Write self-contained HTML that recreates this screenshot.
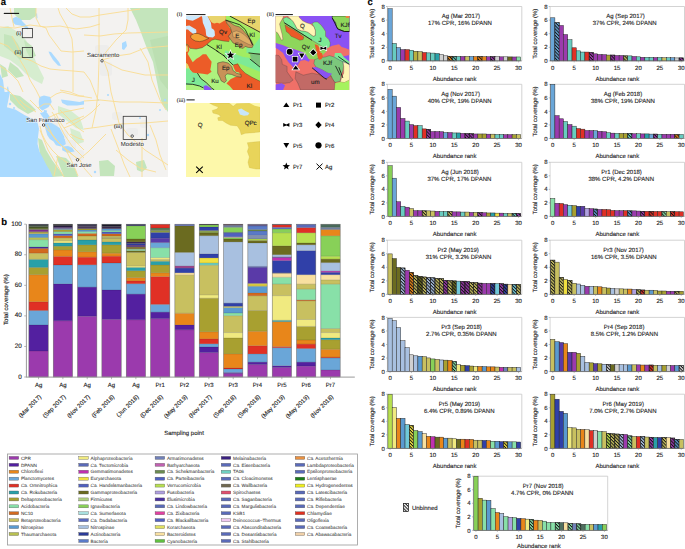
<!DOCTYPE html><html><head><meta charset="utf-8"><style>
html,body{margin:0;padding:0;background:#fff;}
svg{display:block;color:#222;}
text{font-family:"Liberation Sans", sans-serif;text-rendering:geometricPrecision;stroke:currentColor;stroke-width:0.12px;}
</style></head><body>
<svg width="685" height="549" viewBox="0 0 685 549">
<defs>
<pattern id="hatch" patternUnits="userSpaceOnUse" width="2.3" height="2.3" patternTransform="rotate(45)">
<rect x="0" y="0" width="2.3" height="0.95" fill="#111"/>
</pattern>
</defs>
<rect width="685" height="549" fill="#fff"/>

<text x="0.80" y="5.40" font-size="9.5" text-anchor="start" fill="#000" color="#000" font-weight="bold" font-style="normal" >a</text>
<g>
<rect x="0" y="8" width="168" height="169" fill="#f3f2f0"/>
<clipPath id="mapclip"><rect x="0" y="8" width="168" height="169"/></clipPath>
<g clip-path="url(#mapclip)">
<rect x="95" y="45" width="14" height="10" fill="#e9e9ea" rx="3" opacity="0.6"/>
<rect x="100" y="62" width="12" height="14" fill="#e9e9ea" rx="3" opacity="0.6"/>
<rect x="48" y="118" width="10" height="10" fill="#e9e9ea" rx="3" opacity="0.6"/>
<rect x="56" y="130" width="12" height="10" fill="#e9e9ea" rx="3" opacity="0.6"/>
<rect x="64" y="140" width="12" height="10" fill="#e9e9ea" rx="3" opacity="0.6"/>
<rect x="70" y="150" width="14" height="10" fill="#e9e9ea" rx="3" opacity="0.6"/>
<rect x="112" y="112" width="10" height="8" fill="#e9e9ea" rx="3" opacity="0.6"/>
<rect x="126" y="128" width="12" height="8" fill="#e9e9ea" rx="3" opacity="0.6"/>
<rect x="30" y="60" width="6" height="6" fill="#e9e9ea" rx="3" opacity="0.6"/>
<rect x="140" y="120" width="8" height="8" fill="#e9e9ea" rx="3" opacity="0.6"/>
<path d="M130.0,8.0 L168.0,8.0 L168.0,112.0 L162.0,104.0 L159.0,92.0 L156.0,77.0 L153.0,62.0 L146.0,46.0 L140.0,30.0 L136.0,20.0 Z" fill="#c4e5bc" stroke="none" stroke-width="0" />
<path d="M150.0,40.0 L168.0,36.0 L168.0,90.0 L160.0,80.0 Z" fill="#bcdfb2" stroke="none" stroke-width="0" />
<path d="M14.0,8.0 L36.0,8.0 L36.0,16.0 L30.0,20.0 L20.0,20.0 L14.0,14.0 Z" fill="#c4e5bc" stroke="none" stroke-width="0" />
<path d="M0.0,28.0 L8.0,26.0 L18.0,32.0 L26.0,40.0 L32.0,52.0 L36.0,62.0 L40.0,70.0 L44.0,78.0 L42.0,84.0 L34.0,80.0 L26.0,74.0 L18.0,66.0 L10.0,60.0 L0.0,56.0 Z" fill="#d6edcf" stroke="none" stroke-width="0" />
<path d="M4.0,34.0 L12.0,36.0 L18.0,44.0 L24.0,56.0 L20.0,60.0 L12.0,52.0 L4.0,46.0 Z" fill="#c4e5bc" stroke="none" stroke-width="0" />
<path d="M24.0,40.0 L32.0,46.0 L36.0,56.0 L30.0,58.0 L26.0,50.0 Z" fill="#c4e5bc" stroke="none" stroke-width="0" />
<path d="M10.0,62.0 L18.0,68.0 L24.0,76.0 L16.0,78.0 L8.0,70.0 Z" fill="#c4e5bc" stroke="none" stroke-width="0" />
<path d="M0.0,64.0 L6.0,68.0 L8.0,76.0 L2.0,78.0 Z" fill="#c4e5bc" stroke="none" stroke-width="0" />
<path d="M10.0,94.0 L20.0,96.0 L30.0,104.0 L36.0,110.0 L28.0,114.0 L18.0,108.0 L10.0,100.0 Z" fill="#c4e5bc" stroke="none" stroke-width="0" />
<path d="M58.0,106.0 L70.0,110.0 L80.0,118.0 L84.0,130.0 L76.0,128.0 L66.0,120.0 L58.0,114.0 Z" fill="#d6edcf" stroke="none" stroke-width="0" />
<path d="M38.0,138.0 L42.0,140.0 L46.0,150.0 L52.0,160.0 L58.0,168.0 L64.0,176.0 L52.0,177.0 L44.0,168.0 L40.0,156.0 Z" fill="#c4e5bc" stroke="none" stroke-width="0" />
<path d="M56.0,156.0 L66.0,158.0 L74.0,166.0 L78.0,177.0 L64.0,177.0 Z" fill="#c4e5bc" stroke="none" stroke-width="0" />
<path d="M70.0,128.0 L80.0,132.0 L84.0,142.0 L78.0,144.0 L72.0,138.0 Z" fill="#d6edcf" stroke="none" stroke-width="0" />
<path d="M99.0,161.0 L108.0,160.0 L115.0,166.0 L114.0,176.0 L100.0,176.0 Z" fill="#c4e5bc" stroke="none" stroke-width="0" />
<path d="M136.0,162.0 L144.0,160.0 L147.0,168.0 L142.0,172.0 L137.0,170.0 Z" fill="#c4e5bc" stroke="none" stroke-width="0" />
<path d="M0.0,74.0 L3.0,80.0 L4.6,92.0 L10.0,92.0 L6.9,107.3 L15.3,109.6 L24.5,115.0 L32.1,118.8 L37.5,122.6 L39.0,128.7 L37.9,137.9 L37.5,144.0 L39.5,151.7 L42.8,157.8 L46.7,165.4 L50.5,171.6 L52.8,177.0 L0.0,177.0 Z" fill="#aadaff" stroke="none" stroke-width="0" />
<path d="M39.3,97.0 L44.0,95.5 L50.4,97.0 L51.7,101.9 L48.6,106.9 L42.4,110.6 L39.3,108.1 L38.7,101.9 Z" fill="#aadaff" stroke="none" stroke-width="0" />
<path d="M39.9,113.1 L44.0,112.0 L47.3,113.1 L49.8,116.8 L48.6,121.7 L51.7,123.0 L56.0,125.4 L59.7,127.9 L62.2,132.9 L64.1,136.6 L64.7,142.8 L61.0,146.5 L56.0,145.3 L53.5,141.5 L49.8,139.1 L47.3,135.3 L45.5,129.2 L44.9,124.2 L44.9,120.5 L42.4,116.8 Z" fill="#aadaff" stroke="none" stroke-width="0" />
<path d="M54.8,139.1 L64.7,139.1 L65.9,144.0 L62.2,146.5 L56.0,144.0 Z" fill="#aadaff" stroke="none" stroke-width="0" />
<path d="M62.2,146.5 L68.0,146.0 L72.1,147.7 L74.6,151.5 L67.2,152.7 L62.2,150.2 Z" fill="#aadaff" stroke="none" stroke-width="0" />
<path d="M44.0,110.0 L47.0,110.5 L46.5,113.5 L43.5,113.0 Z" fill="#aadaff" stroke="none" stroke-width="0" />
<path d="M61.0,99.4 L70.9,100.7 L79.5,101.9 L84.0,100.7 L84.0,104.4 L77.1,105.6 L67.2,105.6 L62.2,103.1 Z" fill="#aadaff" stroke="none" stroke-width="0" />
<path d="M12.6,18.5 L16.0,16.8 L20.5,18.8 L22.5,21.5 L25.0,24.0 L28.4,27.5 L27.8,29.5 L24.5,27.5 L20.5,25.5 L15.5,24.8 L12.8,22.5 Z" fill="#aadaff" stroke="none" stroke-width="0" />
<path d="M48.5,51.5 L51.0,52.0 L55.0,57.0 L59.0,62.0 L61.0,66.0 L58.0,65.5 L53.0,60.0 L50.0,55.0 Z" fill="#aadaff" stroke="none" stroke-width="0" />
<path d="M36.0,14.0 L37.0,13.0 L37.5,18.0 L36.5,19.0 Z" fill="#aadaff" stroke="none" stroke-width="0" />
<path d="M122.0,43.0 L126.0,41.0 L127.0,46.0 L124.0,50.0 L122.0,49.0 Z" fill="#aadaff" stroke="none" stroke-width="0" />
<path d="M7.0,88.0 L8.0,86.0 L9.0,92.0 L8.0,94.0 Z" fill="#aadaff" stroke="none" stroke-width="0" />
<circle cx="10" cy="104" r="1.2" fill="#aadaff"/>
<circle cx="14" cy="108" r="1" fill="#aadaff"/>
<circle cx="95" cy="172" r="1.2" fill="#aadaff"/>
<circle cx="148" cy="135" r="1.2" fill="#aadaff"/>
<circle cx="160" cy="110" r="1" fill="#aadaff"/>
<circle cx="165" cy="100" r="1.2" fill="#aadaff"/>
<circle cx="140" cy="118" r="0.9" fill="#aadaff"/>
<circle cx="108" cy="95" r="1" fill="#aadaff"/>
<circle cx="98" cy="100" r="1" fill="#aadaff"/>
<path d="M0,27 L15,28 L30,25 L46,27 L60,26 L76,29 L90,27 L100,24" fill="none" stroke="#f9dd92" stroke-width="0.9" stroke-linejoin="round"/>
<path d="M58,8 L60,14 L67,26 L72,39 L73,51 L73,92" fill="none" stroke="#f9dd92" stroke-width="0.9" stroke-linejoin="round"/>
<path d="M46,28 L49,35 L55,43 L61,51 L72,52 L84,51" fill="none" stroke="#f9dd92" stroke-width="0.9" stroke-linejoin="round"/>
<path d="M66,8 L72,14 L80,17 L90,17 L100,15 L120,12 L140,9" fill="none" stroke="#f9dd92" stroke-width="0.9" stroke-linejoin="round"/>
<path d="M0,43 L8,46 L15,54 L23,58 L32,61 L41,66 L50,69 L60,70 L73,71 L84,72" fill="none" stroke="#f9dd92" stroke-width="0.9" stroke-linejoin="round"/>
<path d="M0,66 L9,72 L18,81 L23,92" fill="none" stroke="#f9dd92" stroke-width="0.9" stroke-linejoin="round"/>
<path d="M99,8 L99,40 L99,61 L98,92 L96,110 L92,128" fill="none" stroke="#f9dd92" stroke-width="0.9" stroke-linejoin="round"/>
<path d="M128,8 L128,20 L126,30 L116,40 L106,52 L102,60" fill="none" stroke="#f9dd92" stroke-width="0.9" stroke-linejoin="round"/>
<path d="M84,35 L100,36 L114,34 L128,33 L168,32" fill="none" stroke="#f9dd92" stroke-width="0.9" stroke-linejoin="round"/>
<path d="M102,60 L116,56 L130,54 L145,48 L168,46" fill="none" stroke="#f9dd92" stroke-width="0.9" stroke-linejoin="round"/>
<path d="M104,61 L122,70 L145,75 L168,75" fill="none" stroke="#f9dd92" stroke-width="0.9" stroke-linejoin="round"/>
<path d="M104,61 L108,72 L111,92 L115,107 L119,123 L128,135 L145,150 L168,165" fill="none" stroke="#f9dd92" stroke-width="0.9" stroke-linejoin="round"/>
<path d="M84,129 L99,127 L119,124 L145,123 L168,121" fill="none" stroke="#f9dd92" stroke-width="0.9" stroke-linejoin="round"/>
<path d="M111,129 L119,150 L124,164 L130,177" fill="none" stroke="#f9dd92" stroke-width="0.9" stroke-linejoin="round"/>
<path d="M142,138 L142,160 L142,177" fill="none" stroke="#f9dd92" stroke-width="0.9" stroke-linejoin="round"/>
<path d="M84,101 L100,100 L120,102 L140,102 L168,103" fill="none" stroke="#f9dd92" stroke-width="0.9" stroke-linejoin="round"/>
<path d="M140,48 L148,62 L152,80 L160,100 L166,110" fill="none" stroke="#f9dd92" stroke-width="0.9" stroke-linejoin="round"/>
<path d="M36,8 L36,18 L40,26 L46,28" fill="none" stroke="#f9dd92" stroke-width="0.9" stroke-linejoin="round"/>
<path d="M10,8 L12,18 L14,27" fill="none" stroke="#f9dd92" stroke-width="0.9" stroke-linejoin="round"/>
<path d="M0,86 L8,90 L14,96 L20,104 L26,110" fill="none" stroke="#f9dd92" stroke-width="0.9" stroke-linejoin="round"/>
<path d="M48,118 L56,114 L64,112 L74,110 L84,108" fill="none" stroke="#f9dd92" stroke-width="0.9" stroke-linejoin="round"/>
<path d="M47,124 L52,134 L58,142 L66,150 L74,156 L80,160" fill="none" stroke="#f9dd92" stroke-width="0.9" stroke-linejoin="round"/>
<path d="M56,114 L60,122 L64,128 L70,136 L78,144 L84,150" fill="none" stroke="#f9dd92" stroke-width="0.9" stroke-linejoin="round"/>
<path d="M78,160 L88,152 L98,142 L106,134" fill="none" stroke="#f9dd92" stroke-width="0.9" stroke-linejoin="round"/>
<path d="M80,160 L84,168 L92,177" fill="none" stroke="#f9dd92" stroke-width="0.9" stroke-linejoin="round"/>
<path d="M64,128 L74,124 L84,118 L92,112 L100,104" fill="none" stroke="#f9dd92" stroke-width="0.9" stroke-linejoin="round"/>
<path d="M40,130 L44,140 L48,150 L54,160 L60,170 L64,177" fill="none" stroke="#f9dd92" stroke-width="0.9" stroke-linejoin="round"/>
<path d="M30,100 L36,106 L42,112" fill="none" stroke="#f9dd92" stroke-width="0.9" stroke-linejoin="round"/>
<path d="M20,60 L26,70 L30,80 L36,90 L40,98" fill="none" stroke="#f9dd92" stroke-width="0.9" stroke-linejoin="round"/>
<path d="M84,72 L90,80 L94,90 L98,100" fill="none" stroke="#f9dd92" stroke-width="0.9" stroke-linejoin="round"/>
<path d="M150,125 L156,140 L160,155 L166,170" fill="none" stroke="#f9dd92" stroke-width="0.9" stroke-linejoin="round"/>
<path d="M116,150 L128,160 L140,168 L156,172" fill="none" stroke="#f9dd92" stroke-width="0.9" stroke-linejoin="round"/>
<path d="M60,90 L70,92 L80,96 L92,98" fill="none" stroke="#f9dd92" stroke-width="0.9" stroke-linejoin="round"/>
<path d="M12,36 L16,44 L20,52" fill="none" stroke="#f9dd92" stroke-width="0.9" stroke-linejoin="round"/>
<path d="M40,126 L42,134 L46,142 L52,150 L58,156 L66,162 L74,166" fill="none" stroke="#f9dd92" stroke-width="0.9" stroke-linejoin="round"/>
<path d="M44,126 L50,132 L56,140 L62,146 L70,152 L76,158" fill="none" stroke="#f9dd92" stroke-width="0.9" stroke-linejoin="round"/>
<path d="M52,112 L56,118 L60,126 L64,134 L68,140 L72,146 L78,152 L84,158" fill="none" stroke="#f9dd92" stroke-width="0.9" stroke-linejoin="round"/>
<path d="M60,110 L66,116 L72,122 L78,128 L84,132" fill="none" stroke="#f9dd92" stroke-width="0.9" stroke-linejoin="round"/>
<path d="M50,98 L56,94 L62,92 L70,94 L78,96 L84,96" fill="none" stroke="#f9dd92" stroke-width="0.9" stroke-linejoin="round"/>
<path d="M38,108 L44,104 L50,104 L54,110" fill="none" stroke="#f9dd92" stroke-width="0.9" stroke-linejoin="round"/>
<path d="M66,150 L70,158 L74,166 L78,176" fill="none" stroke="#f9dd92" stroke-width="0.9" stroke-linejoin="round"/>
<path d="M58,156 L56,166 L54,176" fill="none" stroke="#f9dd92" stroke-width="0.9" stroke-linejoin="round"/>
<path d="M66,124 L74,120 L84,116" fill="none" stroke="#f9dd92" stroke-width="0.9" stroke-linejoin="round"/>
<path d="M70,134 L78,138 L84,140" fill="none" stroke="#f9dd92" stroke-width="0.9" stroke-linejoin="round"/>
<path d="M20,100 L24,104 L30,108 L36,112" fill="none" stroke="#f9dd92" stroke-width="0.9" stroke-linejoin="round"/>
</g>
<rect x="22.3" y="28.4" width="10.1" height="9.3" fill="none" stroke="#333" stroke-width="0.8"/>
<rect x="22.3" y="47.4" width="10.3" height="10" fill="none" stroke="#333" stroke-width="0.8"/>
<rect x="123.2" y="116.3" width="23.1" height="23.1" fill="none" stroke="#333" stroke-width="0.8"/>
<line x1="3.8" y1="13.4" x2="19.1" y2="13.4" stroke="#111" stroke-width="1.1"/>
<text x="16.2" y="34.7" font-size="5.6" fill="#222" style="font-family:Liberation Serif,serif">(i)</text>
<text x="14.6" y="54.4" font-size="5.6" fill="#222" style="font-family:Liberation Serif,serif">(ii)</text>
<text x="113.9" y="127.9" font-size="5.4" fill="#222" style="font-family:Liberation Serif,serif">(iii)</text>
<text x="87" y="56.9" font-size="6" fill="#222" style="stroke:#fff;stroke-width:1.0px;stroke-opacity:0.7;paint-order:stroke">Sacramento</text>
<circle cx="102" cy="60.8" r="1.25" fill="#fff" stroke="#222" stroke-width="0.75"/>
<text x="26.3" y="121.9" font-size="6" fill="#222" style="stroke:#fff;stroke-width:1.0px;stroke-opacity:0.7;paint-order:stroke">San Francisco</text>
<circle cx="43.6" cy="125" r="1.25" fill="#fff" stroke="#222" stroke-width="0.75"/>
<text x="66.6" y="167.1" font-size="6" fill="#222" style="stroke:#fff;stroke-width:1.0px;stroke-opacity:0.7;paint-order:stroke">San Jose</text>
<circle cx="77.5" cy="159.8" r="1.25" fill="#fff" stroke="#222" stroke-width="0.75"/>
<text x="120.8" y="145.5" font-size="6" fill="#222" style="stroke:#fff;stroke-width:1.0px;stroke-opacity:0.7;paint-order:stroke">Modesto</text>
<circle cx="132.2" cy="136.1" r="1.25" fill="#fff" stroke="#222" stroke-width="0.75"/>
</g>
<clipPath id="gclip"><rect x="0" y="0" width="549" height="549"/></clipPath>
<g transform="translate(186,16) scale(0.13479)" clip-path="url(#gclip)" stroke-linejoin="round">
<rect x="0" y="0" width="549" height="549" fill="#a2ec62"/>
<path d="M0,230 L150,215 L228,258 L300,310 L349,364 L420,400 L420,549 L0,549 Z" fill="#aef27e" stroke="none" stroke-width="0" />
<path d="M0,0 L295,0 L295,40 L339,110 L329,160 L320,190 L275,185 L215,172 L190,180 L150,215 L120,235 L75,245 L30,240 L15,215 L0,210 Z" fill="#ec5c28" stroke="none" stroke-width="0" />
<path d="M0,0 L115,0 L100,10 L80,20 L50,35 L20,30 L0,25 Z" fill="#cce8fb" stroke="none" stroke-width="0" />
<path d="M115,0 L160,0 L170,20 L185,50 L190,90 L205,100 L212,112 L215,145 L200,160 L165,155 L150,145 L145,100 L135,75 L125,50 L120,10 Z" fill="#cce8fb" stroke="none" stroke-width="0" />
<path d="M0,75 L25,70 L50,85 L75,100 L78,120 L60,140 L50,130 L30,115 L15,100 L0,100 Z" fill="#cce8fb" stroke="none" stroke-width="0" />
<path d="M35,145 L60,130 L90,130 L125,145 L150,160 L170,165 L150,175 L125,185 L100,190 L70,185 L50,175 L35,160 Z" fill="#f4a236" stroke="#222" stroke-width="3" />
<path d="M160,0 L295,0 L295,30 L274,40 L250,55 L230,50 L210,55 L195,50 L185,40 L170,15 Z" fill="#e8d46c" stroke="none" stroke-width="0" />
<path d="M330,0 L549,0 L549,120 L490,95 L420,60 L380,30 L350,10 Z" fill="#e8d46c" stroke="none" stroke-width="0" />
<path d="M294,30 L324,45 L359,70 L394,80 L419,100 L444,130 L484,180 L499,215 L494,235 L464,235 L439,225 L424,240 L399,235 L384,215 L349,200 L324,165 L314,150 L339,120 L329,85 L304,55 Z" fill="#c89258" stroke="#222" stroke-width="3" />
<path d="M344,120 L374,110 L404,120 L434,140 L474,180 L494,220 L464,210 L424,190 L389,170 L349,155 Z" fill="#e0ae66" stroke="#333" stroke-width="2" />
<path d="M449,235 L489,240 L549,160 L549,274 L449,274 Z" fill="#7eea96" stroke="none" stroke-width="0" />
<path d="M290,255 L349,274 L384,289 L424,304 L469,309 L484,324 L549,374 L549,414 L499,394 L449,374 L414,359 L384,349 L349,364 L314,324 L285,290 Z" fill="#7eea96" stroke="none" stroke-width="0" />
<path d="M474,284 L549,274 L549,374 L484,329 Z" fill="#7cc47c" stroke="none" stroke-width="0" />
<path d="M359,274 L474,274 L474,304 L424,294 L384,284 Z" fill="#a2ec62" stroke="none" stroke-width="0" />
<path d="M349,364 L384,355 L404,389 L439,424 L489,454 L549,484 L549,549 L349,549 L324,519 L300,500 L330,470 L360,455 L404,444 L394,419 L369,414 L355,385 Z" fill="#ec5c28" stroke="none" stroke-width="0" />
<path d="M235,349 L274,339 L314,349 L339,374 L349,404 L374,424 L409,434 L409,454 L374,449 L339,434 L304,429 L290,445 L300,480 L285,495 L260,480 L255,464 L235,424 Z" fill="#c89258" stroke="#222" stroke-width="3" />
<path d="M0,215 L20,220 L25,255 L12,280 L50,344 L75,319 L100,304 L125,284 L150,284 L170,314 L190,339 L185,374 L180,399 L190,414 L160,434 L125,429 L90,424 L50,424 L30,399 L20,374 L0,349 Z" fill="#ec5c28" stroke="none" stroke-width="0" />
<path d="M0,222 L12,226 L15,262 L0,268 Z" fill="#e8d46c" stroke="none" stroke-width="0" />
<path d="M0,349 L15,359 L20,384 L0,389 Z" fill="#e8d46c" stroke="none" stroke-width="0" />
<path d="M0,389 L20,389 L50,419 L80,424 L100,454 L130,484 L165,514 L170,549 L0,549 Z" fill="#7eea96" stroke="none" stroke-width="0" />
<path d="M0,510 L50,507 L100,519 L130,534 L135,549 L0,549 Z" fill="#aef27e" stroke="none" stroke-width="0" />
<path d="M130,519 L150,514 L170,524 L190,539 L190,549 L135,549 Z" fill="#8a52f4" stroke="none" stroke-width="0" />
<path d="M324,0 L549,120" fill="none" stroke="#111" stroke-width="6" />
<path d="M294,30 L399,65 L439,100 L469,160 L494,215" fill="none" stroke="#111" stroke-width="6" />
<path d="M155,212 L240,265" fill="none" stroke="#111" stroke-width="6" />
<path d="M274,289 L349,364" fill="none" stroke="#111" stroke-width="6" />
<path d="M474,319 L549,379" fill="none" stroke="#111" stroke-width="6" />
<path d="M85,424 L110,464 L150,494 L190,534 L210,549" fill="none" stroke="#111" stroke-width="6" />
<path d="M0,504 L50,507 L100,519 L130,534" fill="none" stroke="#111" stroke-width="6" />
<path d="M464,274 L549,284" fill="none" stroke="#111" stroke-width="6" />
<path d="M225,258 L290,300" fill="none" stroke="#111" stroke-width="6" />
<path d="M0,210 L15,215 L30,240 L75,245 L120,235 L150,215 L190,180 L215,172 L275,185 L320,190" fill="none" stroke="#222" stroke-width="2.5" />
<path d="M349,364 L384,355 L404,389 L439,424 L489,454 L549,484" fill="none" stroke="#222" stroke-width="2.5" />
</g>
<text x="223.07" y="34.41" font-size="6.2" text-anchor="middle" fill="#222" color="#222" font-weight="normal" font-style="normal" >Qv</text>
<text x="237.22" y="38.45" font-size="6.2" text-anchor="middle" fill="#222" color="#222" font-weight="normal" font-style="normal" >E</text>
<text x="238.57" y="47.21" font-size="6.2" text-anchor="middle" fill="#222" color="#222" font-weight="normal" font-style="normal" >Ep</text>
<text x="219.02" y="48.56" font-size="6.2" text-anchor="middle" fill="#222" color="#222" font-weight="normal" font-style="normal" >Kl</text>
<text x="252.05" y="37.10" font-size="6.2" text-anchor="middle" fill="#222" color="#222" font-weight="normal" font-style="normal" >Kl</text>
<text x="251.37" y="22.95" font-size="6.2" text-anchor="middle" fill="#222" color="#222" font-weight="normal" font-style="normal" >Ep</text>
<text x="225.76" y="70.13" font-size="6.2" text-anchor="middle" fill="#222" color="#222" font-weight="normal" font-style="normal" >Ep</text>
<text x="193.41" y="82.26" font-size="6.2" text-anchor="middle" fill="#222" color="#222" font-weight="normal" font-style="normal" >J</text>
<text x="214.98" y="82.93" font-size="6.2" text-anchor="middle" fill="#222" color="#222" font-weight="normal" font-style="normal" >Ku</text>
<text x="249.35" y="88.32" font-size="6.2" text-anchor="middle" fill="#222" color="#222" font-weight="normal" font-style="normal" >Kl</text>
<polygon points="230.5,50.9 231.5,53.7 234.5,53.8 232.2,55.6 232.9,58.5 230.5,56.9 228.0,58.5 228.8,55.6 226.5,53.8 229.4,53.7" fill="#000" stroke="#fff" stroke-width="1.4" />
<polygon points="230.5,50.9 231.5,53.7 234.5,53.8 232.2,55.6 232.9,58.5 230.5,56.9 228.0,58.5 228.8,55.6 226.5,53.8 229.4,53.7" fill="#000" stroke="none" stroke-width="0" />
<text x="176.8" y="16.0" font-size="5.8" fill="#222" style="font-family:Liberation Serif,serif">(i)</text>
<line x1="186.2" y1="14.6" x2="205.5" y2="14.6" stroke="#111" stroke-width="1"/>
<g transform="translate(275.5,16) scale(0.13479)" clip-path="url(#gclip)" stroke-linejoin="round">
<rect x="0" y="0" width="549" height="549" fill="#f07068"/>
<path d="M175,0 L549,0 L549,380 L420,320 L401,240 L406,200 L396,175 L371,150 L371,115 L356,90 L336,65 L311,45 L291,45 L271,55 L260,60 L230,50 L200,35 L175,10 Z" fill="#8a52f4" stroke="none" stroke-width="0" />
<path d="M421,0 L549,0 L549,115 L511,115 L481,105 L461,95 L451,75 L446,50 L431,30 L421,15 Z" fill="#8ed65c" stroke="#111" stroke-width="4" />
<path d="M520,0 L549,0 L549,14 L522,14 Z" fill="#f08040" stroke="none" stroke-width="0" />
<path d="M0,115 L0,200 L50,215 L100,235 L150,250 L216,274 L246,319 L280,320 L320,330 L340,300 L380,260 L400,235 L330,215 L271,180 L65,50 L55,20 L40,40 L30,60 L40,100 L50,140 L55,175 L45,180 L30,150 L15,125 Z" fill="#8ed65c" stroke="none" stroke-width="0" />
<path d="M0,0 L60,0 L55,15 L40,40 L30,60 L40,100 L50,140 L55,175 L45,180 L30,150 L15,125 L0,115 Z" fill="#fff5b4" stroke="#333" stroke-width="2" />
<path d="M55,20 L80,8 L115,25 L130,40 L145,65 L160,95 L190,110 L215,112 L240,120 L260,135 L280,150 L295,145 L296,110 L285,80 L271,55 L291,45 L311,45 L336,65 L356,90 L371,115 L371,150 L396,175 L406,200 L401,240 L381,250 L330,215 L271,180 L65,50 Z" fill="#7cea94" stroke="#333" stroke-width="2" />
<path d="M90,0 L175,0 L175,10 L200,35 L230,50 L260,60 L285,80 L296,110 L295,145 L280,150 L260,135 L240,120 L215,112 L190,110 L160,95 L145,65 L130,40 L115,25 L100,12 Z" fill="#fff5b4" stroke="#333" stroke-width="2" />
<path d="M70,65 L100,85 L140,105 L175,130 L210,155 L205,175 L180,180 L150,165 L115,150 L100,130 L80,115 L75,90 Z" fill="#ec5a28" stroke="#333" stroke-width="2" />
<path d="M291,210 L311,215 L330,240 L335,280 L345,300 L335,320 L318,325 L310,290 L300,250 Z" fill="#ec5a28" stroke="none" stroke-width="0" />
<path d="M381,240 L421,220 L471,210 L491,230 L521,240 L549,250 L549,290 L500,300 L470,310 L435,300 L425,314 L400,319 L386,300 Z" fill="#f07068" stroke="none" stroke-width="0" />
<path d="M0,200 L50,215 L100,235 L150,250 L216,274 L246,319 L256,324 L246,339 L216,326 L186,332 L166,364 L146,394 L126,374 L96,344 L71,304 L56,274 L25,250 L0,235 Z" fill="#8a52f4" stroke="none" stroke-width="0" />
<path d="M441,274 L486,274 L506,304 L549,339 L549,359 L501,339 L471,324 L436,304 Z" fill="#7cea94" stroke="none" stroke-width="0" />
<path d="M290,324 L330,309 L370,304 L400,294 L435,304 L470,324 L500,339 L505,374 L500,404 L485,449 L480,484 L440,494 L420,464 L410,439 L380,419 L345,399 L300,379 L285,354 Z" fill="#7cc87c" stroke="#333" stroke-width="2" />
<path d="M315,274 L345,274 L351,300 L341,320 L321,325 L316,300 Z" fill="#ec5a28" stroke="none" stroke-width="0" />
<path d="M501,339 L549,359 L549,474 L511,494 L481,489 L491,454 L506,424 L506,374 Z" fill="#fff5b4" stroke="#333" stroke-width="2" />
<path d="M436,499 L481,489 L511,494 L549,474 L549,549 L436,549 Z" fill="#a6f25e" stroke="none" stroke-width="0" />
<path d="M271,384 L301,379 L346,399 L381,419 L421,429 L396,449 L381,469 L361,459 L321,424 L286,399 Z" fill="#8a52f4" stroke="none" stroke-width="0" />
<path d="M0,289 L26,294 L46,324 L51,359 L86,374 L86,414 L121,464 L131,474 L106,494 L71,499 L36,499 L0,494 Z" fill="#c26a66" stroke="#333" stroke-width="2" />
<path d="M151,414 L206,439 L271,424 L321,434 L371,469 L411,444 L421,464 L441,494 L436,549 L186,549 L166,499 L146,464 Z" fill="#c26a66" stroke="#333" stroke-width="2" />
<path d="M0,509 L46,499 L71,514 L56,549 L0,549 Z" fill="#8a52f4" stroke="none" stroke-width="0" />
<path d="M65,50 L271,180" fill="none" stroke="#111" stroke-width="6" />
<path d="M421,15 L451,75 L461,95 L511,115 L549,115" fill="none" stroke="#111" stroke-width="6" />
<path d="M271,384 L361,459 L381,469" fill="none" stroke="#111" stroke-width="6" />
<path d="M445,370 L480,440" fill="none" stroke="#111" stroke-width="6" />
<path d="M470,380 L500,460" fill="none" stroke="#111" stroke-width="6" />
<path d="M465,300 L549,360" fill="none" stroke="#111" stroke-width="6" />
</g>
<text x="302.46" y="28.34" font-size="6.2" text-anchor="middle" fill="#222" color="#222" font-weight="normal" font-style="normal" >Q</text>
<text x="344.92" y="26.99" font-size="6.2" text-anchor="middle" fill="#222" color="#222" font-weight="normal" font-style="normal" >KJf</text>
<text x="338.18" y="37.78" font-size="6.2" text-anchor="middle" fill="#222" color="#222" font-weight="normal" font-style="normal" >Tv</text>
<text x="319.98" y="42.49" font-size="6.2" text-anchor="middle" fill="#222" color="#222" font-weight="normal" font-style="normal" >J</text>
<text x="305.83" y="48.56" font-size="6.2" text-anchor="middle" fill="#222" color="#222" font-weight="normal" font-style="normal" >Qv</text>
<text x="327.39" y="65.41" font-size="6.2" text-anchor="middle" fill="#222" color="#222" font-weight="normal" font-style="normal" >KJf</text>
<text x="315.26" y="84.28" font-size="6.2" text-anchor="middle" fill="#222" color="#222" font-weight="normal" font-style="normal" >um</text>
<circle cx="289.6530054644809" cy="51.71948998178507" r="2.94" fill="#000" stroke="#fff" stroke-width="1.5"/>
<circle cx="289.6530054644809" cy="51.71948998178507" r="2.94" fill="#000" stroke="none" stroke-width="0"/>
<rect x="292.67" y="56.76" width="4.75" height="4.75" fill="#000" stroke="#fff" stroke-width="1.5"/>
<rect x="292.67" y="56.76" width="4.75" height="4.75" fill="#000" stroke="none" stroke-width="0"/>
<polygon points="301.8,58.3 304.5,53.6 299.0,53.6" fill="#000" stroke="#fff" stroke-width="1.5" />
<polygon points="301.8,58.3 304.5,53.6 299.0,53.6" fill="#000" stroke="none" stroke-width="0" />
<polygon points="295.7,65.4 298.7,69.6 292.8,69.6" fill="#000" stroke="#fff" stroke-width="1.5" />
<polygon points="295.7,65.4 298.7,69.6 292.8,69.6" fill="#000" stroke="none" stroke-width="0" />
<polygon points="313.2,49.3 316.3,52.4 313.2,55.5 310.2,52.4" fill="#000" stroke="#fff" stroke-width="1.5" />
<polygon points="313.2,49.3 316.3,52.4 313.2,55.5 310.2,52.4" fill="#000" stroke="none" stroke-width="0" />
<polygon points="320.4,46.6 323.4,47.9 326.3,46.6 326.3,50.1 323.4,48.8 320.4,50.1" fill="#000" stroke="#fff" stroke-width="1.5" />
<polygon points="320.4,46.6 323.4,47.9 326.3,46.6 326.3,50.1 323.4,48.8 320.4,50.1" fill="#000" stroke="none" stroke-width="0" />
<text x="266.8" y="16.3" font-size="5.8" fill="#222" style="font-family:Liberation Serif,serif">(ii)</text>
<line x1="275.5" y1="14.6" x2="292.9" y2="14.6" stroke="#111" stroke-width="1"/>
<g transform="translate(186,103) scale(0.13479)" clip-path="url(#gclip)">
<rect x="0" y="0" width="549" height="549" fill="#fdf8aa"/>
<path d="M175,0 L320,0 L350,25 L375,5 L549,0 L549,215 L500,220 L440,225 L410,235 L400,200 L380,170 L330,165 L300,150 L270,130 L240,130 L235,110 L260,100 L240,85 L200,75 L195,55 L230,45 L240,30 L200,15 Z" fill="#e8d45a" stroke="#c8b040" stroke-width="2" />
<path d="M455,295 L549,285 L549,490 L520,490 L470,480 L460,440 L470,400 L455,360 L465,330 Z" fill="#e8d45a" stroke="#c8b040" stroke-width="2" />
<path d="M385,50 L410,40 L440,60 L470,75 L460,90 L430,95 L400,85 Z" fill="#c8e6fa" stroke="none" stroke-width="0" />
<path d="M470,0 L549,0 L549,30 L510,20 Z" fill="#fdf8aa" stroke="none" stroke-width="0" />
</g>
<text x="200.15" y="126.80" font-size="6.2" text-anchor="middle" fill="#222" color="#222" font-weight="normal" font-style="normal" >Q</text>
<text x="250.70" y="124.78" font-size="6.2" text-anchor="middle" fill="#222" color="#222" font-weight="normal" font-style="normal" >QPc</text>
<path d="M196.17905282331512,166.53131147540984 L202.77905282331514,172.91131147540983 M202.77905282331514,166.53131147540984 L196.17905282331512,172.91131147540983" stroke="#000" stroke-width="1.1" fill="none"/>
<text x="176.8" y="101.8" font-size="5.6" fill="#222" style="font-family:Liberation Serif,serif">(iii)</text>
<line x1="186.5" y1="99.9" x2="194.7" y2="99.9" stroke="#111" stroke-width="1"/>
<polygon points="286.3,102.5 289.4,106.9 283.2,106.9" fill="#000" stroke="none" stroke-width="0" />
<text x="292.90" y="107.30" font-size="6" text-anchor="start" fill="#222" color="#222" font-weight="normal" font-style="normal" >Pr1</text>
<rect x="316.00" y="102.60" width="5.00" height="5.00" fill="#000" stroke="none" stroke-width="0"/>
<text x="325.00" y="107.30" font-size="6" text-anchor="start" fill="#222" color="#222" font-weight="normal" font-style="normal" >Pr2</text>
<polygon points="283.2,123.1 286.3,124.4 289.4,123.1 289.4,126.8 286.3,125.4 283.2,126.8" fill="#000" stroke="none" stroke-width="0" />
<text x="292.90" y="127.10" font-size="6" text-anchor="start" fill="#222" color="#222" font-weight="normal" font-style="normal" >Pr3</text>
<polygon points="318.5,121.6 321.7,124.9 318.5,128.2 315.3,124.9" fill="#000" stroke="none" stroke-width="0" />
<text x="325.00" y="127.10" font-size="6" text-anchor="start" fill="#222" color="#222" font-weight="normal" font-style="normal" >Pr4</text>
<polygon points="286.3,148.0 289.2,143.0 283.4,143.0" fill="#000" stroke="none" stroke-width="0" />
<text x="292.90" y="147.50" font-size="6" text-anchor="start" fill="#222" color="#222" font-weight="normal" font-style="normal" >Pr5</text>
<circle cx="318.5" cy="145.3" r="3.10" fill="#000" stroke="none" stroke-width="0"/>
<text x="325.00" y="147.50" font-size="6" text-anchor="start" fill="#222" color="#222" font-weight="normal" font-style="normal" >Pr6</text>
<polygon points="286.3,162.5 287.3,165.1 290.0,165.2 287.9,166.9 288.6,169.5 286.3,168.0 284.0,169.5 284.7,166.9 282.6,165.2 285.3,165.1" fill="#000" stroke="none" stroke-width="0" />
<text x="292.90" y="168.60" font-size="6" text-anchor="start" fill="#222" color="#222" font-weight="normal" font-style="normal" >Pr7</text>
<path d="M316.5,163.7 L322.5,169.5 M322.5,163.7 L316.5,169.5" stroke="#000" stroke-width="1.0" fill="none"/>
<text x="325.00" y="168.80" font-size="6" text-anchor="start" fill="#222" color="#222" font-weight="normal" font-style="normal" >Ag</text>
<text x="1.20" y="225.30" font-size="9.5" text-anchor="start" fill="#000" color="#000" font-weight="bold" font-style="normal" >b</text>
<rect x="28.90" y="351.00" width="19.3" height="26.00" fill="#9b3aad"/>
<rect x="28.90" y="325.00" width="19.3" height="26.00" fill="#5320a0"/>
<rect x="28.90" y="310.50" width="19.3" height="14.50" fill="#6aa6d8"/>
<rect x="28.90" y="301.80" width="19.3" height="8.70" fill="#e03025"/>
<rect x="28.90" y="274.70" width="19.3" height="27.10" fill="#e8861a"/>
<rect x="28.90" y="267.40" width="19.3" height="7.30" fill="#a8a030"/>
<rect x="28.90" y="259.40" width="19.3" height="8.00" fill="#28a0a8"/>
<rect x="28.90" y="253.20" width="19.3" height="6.20" fill="#c8c060"/>
<rect x="28.90" y="248.40" width="19.3" height="4.80" fill="#d2691e"/>
<rect x="28.90" y="247.00" width="19.3" height="1.40" fill="#4a30a0"/>
<rect x="28.90" y="239.70" width="19.3" height="7.30" fill="#88e0a8"/>
<rect x="28.90" y="237.50" width="19.3" height="2.20" fill="#b8c050"/>
<rect x="28.90" y="233.80" width="19.3" height="3.70" fill="#5a9ad0"/>
<rect x="28.90" y="232.80" width="19.3" height="1.00" fill="#c8c060"/>
<rect x="28.90" y="231.70" width="19.3" height="1.10" fill="#a8a030"/>
<rect x="28.90" y="229.50" width="19.3" height="2.20" fill="#7b2f8a"/>
<rect x="28.90" y="228.00" width="19.3" height="1.50" fill="#6b7a3a"/>
<rect x="28.90" y="226.60" width="19.3" height="1.40" fill="#4a5a2a"/>
<rect x="28.90" y="225.10" width="19.3" height="1.50" fill="#3a4a3a"/>
<rect x="28.90" y="224.20" width="19.3" height="0.90" fill="#1a1a3a"/>
<line x1="28.90" y1="351.00" x2="48.20" y2="351.00" stroke="#000" stroke-opacity="0.35" stroke-width="0.4"/>
<line x1="28.90" y1="325.00" x2="48.20" y2="325.00" stroke="#000" stroke-opacity="0.35" stroke-width="0.4"/>
<line x1="28.90" y1="310.50" x2="48.20" y2="310.50" stroke="#000" stroke-opacity="0.35" stroke-width="0.4"/>
<line x1="28.90" y1="301.80" x2="48.20" y2="301.80" stroke="#000" stroke-opacity="0.35" stroke-width="0.4"/>
<line x1="28.90" y1="274.70" x2="48.20" y2="274.70" stroke="#000" stroke-opacity="0.35" stroke-width="0.4"/>
<line x1="28.90" y1="267.40" x2="48.20" y2="267.40" stroke="#000" stroke-opacity="0.35" stroke-width="0.4"/>
<line x1="28.90" y1="259.40" x2="48.20" y2="259.40" stroke="#000" stroke-opacity="0.35" stroke-width="0.4"/>
<line x1="28.90" y1="253.20" x2="48.20" y2="253.20" stroke="#000" stroke-opacity="0.35" stroke-width="0.4"/>
<line x1="28.90" y1="248.40" x2="48.20" y2="248.40" stroke="#000" stroke-opacity="0.35" stroke-width="0.4"/>
<line x1="28.90" y1="247.00" x2="48.20" y2="247.00" stroke="#000" stroke-opacity="0.35" stroke-width="0.4"/>
<line x1="28.90" y1="239.70" x2="48.20" y2="239.70" stroke="#000" stroke-opacity="0.35" stroke-width="0.4"/>
<line x1="28.90" y1="237.50" x2="48.20" y2="237.50" stroke="#000" stroke-opacity="0.35" stroke-width="0.4"/>
<line x1="28.90" y1="233.80" x2="48.20" y2="233.80" stroke="#000" stroke-opacity="0.35" stroke-width="0.4"/>
<line x1="28.90" y1="232.80" x2="48.20" y2="232.80" stroke="#000" stroke-opacity="0.35" stroke-width="0.4"/>
<line x1="28.90" y1="231.70" x2="48.20" y2="231.70" stroke="#000" stroke-opacity="0.35" stroke-width="0.4"/>
<line x1="28.90" y1="229.50" x2="48.20" y2="229.50" stroke="#000" stroke-opacity="0.35" stroke-width="0.4"/>
<line x1="28.90" y1="228.00" x2="48.20" y2="228.00" stroke="#000" stroke-opacity="0.35" stroke-width="0.4"/>
<line x1="28.90" y1="226.60" x2="48.20" y2="226.60" stroke="#000" stroke-opacity="0.35" stroke-width="0.4"/>
<line x1="28.90" y1="225.10" x2="48.20" y2="225.10" stroke="#000" stroke-opacity="0.35" stroke-width="0.4"/>
<rect x="28.90" y="224.20" width="19.3" height="152.80" fill="none" stroke="#666" stroke-width="0.5"/>
<rect x="53.23" y="320.80" width="19.3" height="56.20" fill="#9b3aad"/>
<rect x="53.23" y="283.90" width="19.3" height="36.90" fill="#5320a0"/>
<rect x="53.23" y="265.00" width="19.3" height="18.90" fill="#6aa6d8"/>
<rect x="53.23" y="256.40" width="19.3" height="8.60" fill="#e03025"/>
<rect x="53.23" y="249.90" width="19.3" height="6.50" fill="#e8861a"/>
<rect x="53.23" y="246.20" width="19.3" height="3.70" fill="#a8a030"/>
<rect x="53.23" y="242.90" width="19.3" height="3.30" fill="#28a0a8"/>
<rect x="53.23" y="240.80" width="19.3" height="2.10" fill="#f0ea80"/>
<rect x="53.23" y="237.90" width="19.3" height="2.90" fill="#c8c060"/>
<rect x="53.23" y="235.70" width="19.3" height="2.20" fill="#d2691e"/>
<rect x="53.23" y="233.80" width="19.3" height="1.90" fill="#5060c0"/>
<rect x="53.23" y="231.70" width="19.3" height="2.10" fill="#88e0a8"/>
<rect x="53.23" y="229.50" width="19.3" height="2.20" fill="#a8a030"/>
<rect x="53.23" y="228.50" width="19.3" height="1.00" fill="#5a9ad0"/>
<rect x="53.23" y="227.20" width="19.3" height="1.30" fill="#5a3a7a"/>
<rect x="53.23" y="225.50" width="19.3" height="1.70" fill="#2a2040"/>
<rect x="53.23" y="224.20" width="19.3" height="1.30" fill="#111"/>
<line x1="53.23" y1="320.80" x2="72.53" y2="320.80" stroke="#000" stroke-opacity="0.35" stroke-width="0.4"/>
<line x1="53.23" y1="283.90" x2="72.53" y2="283.90" stroke="#000" stroke-opacity="0.35" stroke-width="0.4"/>
<line x1="53.23" y1="265.00" x2="72.53" y2="265.00" stroke="#000" stroke-opacity="0.35" stroke-width="0.4"/>
<line x1="53.23" y1="256.40" x2="72.53" y2="256.40" stroke="#000" stroke-opacity="0.35" stroke-width="0.4"/>
<line x1="53.23" y1="249.90" x2="72.53" y2="249.90" stroke="#000" stroke-opacity="0.35" stroke-width="0.4"/>
<line x1="53.23" y1="246.20" x2="72.53" y2="246.20" stroke="#000" stroke-opacity="0.35" stroke-width="0.4"/>
<line x1="53.23" y1="242.90" x2="72.53" y2="242.90" stroke="#000" stroke-opacity="0.35" stroke-width="0.4"/>
<line x1="53.23" y1="240.80" x2="72.53" y2="240.80" stroke="#000" stroke-opacity="0.35" stroke-width="0.4"/>
<line x1="53.23" y1="237.90" x2="72.53" y2="237.90" stroke="#000" stroke-opacity="0.35" stroke-width="0.4"/>
<line x1="53.23" y1="235.70" x2="72.53" y2="235.70" stroke="#000" stroke-opacity="0.35" stroke-width="0.4"/>
<line x1="53.23" y1="233.80" x2="72.53" y2="233.80" stroke="#000" stroke-opacity="0.35" stroke-width="0.4"/>
<line x1="53.23" y1="231.70" x2="72.53" y2="231.70" stroke="#000" stroke-opacity="0.35" stroke-width="0.4"/>
<line x1="53.23" y1="229.50" x2="72.53" y2="229.50" stroke="#000" stroke-opacity="0.35" stroke-width="0.4"/>
<line x1="53.23" y1="228.50" x2="72.53" y2="228.50" stroke="#000" stroke-opacity="0.35" stroke-width="0.4"/>
<line x1="53.23" y1="227.20" x2="72.53" y2="227.20" stroke="#000" stroke-opacity="0.35" stroke-width="0.4"/>
<line x1="53.23" y1="225.50" x2="72.53" y2="225.50" stroke="#000" stroke-opacity="0.35" stroke-width="0.4"/>
<rect x="53.23" y="224.20" width="19.3" height="152.80" fill="none" stroke="#666" stroke-width="0.5"/>
<rect x="77.56" y="316.30" width="19.3" height="60.70" fill="#9b3aad"/>
<rect x="77.56" y="287.10" width="19.3" height="29.20" fill="#5320a0"/>
<rect x="77.56" y="264.80" width="19.3" height="22.30" fill="#6aa6d8"/>
<rect x="77.56" y="257.20" width="19.3" height="7.60" fill="#e03025"/>
<rect x="77.56" y="251.80" width="19.3" height="5.40" fill="#e8861a"/>
<rect x="77.56" y="244.80" width="19.3" height="7.00" fill="#a8a030"/>
<rect x="77.56" y="240.00" width="19.3" height="4.80" fill="#28a0a8"/>
<rect x="77.56" y="236.00" width="19.3" height="4.00" fill="#c8c060"/>
<rect x="77.56" y="233.40" width="19.3" height="2.60" fill="#d2691e"/>
<rect x="77.56" y="231.50" width="19.3" height="1.90" fill="#88e0a8"/>
<rect x="77.56" y="230.00" width="19.3" height="1.50" fill="#5a9ad0"/>
<rect x="77.56" y="228.70" width="19.3" height="1.30" fill="#a8a030"/>
<rect x="77.56" y="226.50" width="19.3" height="2.20" fill="#4a3a5a"/>
<rect x="77.56" y="225.20" width="19.3" height="1.30" fill="#2a2040"/>
<rect x="77.56" y="224.20" width="19.3" height="1.00" fill="#1a1a3a"/>
<line x1="77.56" y1="316.30" x2="96.86" y2="316.30" stroke="#000" stroke-opacity="0.35" stroke-width="0.4"/>
<line x1="77.56" y1="287.10" x2="96.86" y2="287.10" stroke="#000" stroke-opacity="0.35" stroke-width="0.4"/>
<line x1="77.56" y1="264.80" x2="96.86" y2="264.80" stroke="#000" stroke-opacity="0.35" stroke-width="0.4"/>
<line x1="77.56" y1="257.20" x2="96.86" y2="257.20" stroke="#000" stroke-opacity="0.35" stroke-width="0.4"/>
<line x1="77.56" y1="251.80" x2="96.86" y2="251.80" stroke="#000" stroke-opacity="0.35" stroke-width="0.4"/>
<line x1="77.56" y1="244.80" x2="96.86" y2="244.80" stroke="#000" stroke-opacity="0.35" stroke-width="0.4"/>
<line x1="77.56" y1="240.00" x2="96.86" y2="240.00" stroke="#000" stroke-opacity="0.35" stroke-width="0.4"/>
<line x1="77.56" y1="236.00" x2="96.86" y2="236.00" stroke="#000" stroke-opacity="0.35" stroke-width="0.4"/>
<line x1="77.56" y1="233.40" x2="96.86" y2="233.40" stroke="#000" stroke-opacity="0.35" stroke-width="0.4"/>
<line x1="77.56" y1="231.50" x2="96.86" y2="231.50" stroke="#000" stroke-opacity="0.35" stroke-width="0.4"/>
<line x1="77.56" y1="230.00" x2="96.86" y2="230.00" stroke="#000" stroke-opacity="0.35" stroke-width="0.4"/>
<line x1="77.56" y1="228.70" x2="96.86" y2="228.70" stroke="#000" stroke-opacity="0.35" stroke-width="0.4"/>
<line x1="77.56" y1="226.50" x2="96.86" y2="226.50" stroke="#000" stroke-opacity="0.35" stroke-width="0.4"/>
<line x1="77.56" y1="225.20" x2="96.86" y2="225.20" stroke="#000" stroke-opacity="0.35" stroke-width="0.4"/>
<rect x="77.56" y="224.20" width="19.3" height="152.80" fill="none" stroke="#666" stroke-width="0.5"/>
<rect x="101.89" y="319.50" width="19.3" height="57.50" fill="#9b3aad"/>
<rect x="101.89" y="290.00" width="19.3" height="29.50" fill="#5320a0"/>
<rect x="101.89" y="263.00" width="19.3" height="27.00" fill="#6aa6d8"/>
<rect x="101.89" y="256.20" width="19.3" height="6.80" fill="#e03025"/>
<rect x="101.89" y="253.20" width="19.3" height="3.00" fill="#e8861a"/>
<rect x="101.89" y="244.80" width="19.3" height="8.40" fill="#a8a030"/>
<rect x="101.89" y="241.90" width="19.3" height="2.90" fill="#28a0a8"/>
<rect x="101.89" y="238.50" width="19.3" height="3.40" fill="#c8c060"/>
<rect x="101.89" y="237.50" width="19.3" height="1.00" fill="#a8a030"/>
<rect x="101.89" y="236.00" width="19.3" height="1.50" fill="#c8c060"/>
<rect x="101.89" y="233.80" width="19.3" height="2.20" fill="#d2691e"/>
<rect x="101.89" y="232.00" width="19.3" height="1.80" fill="#5060c0"/>
<rect x="101.89" y="230.50" width="19.3" height="1.50" fill="#88e0a8"/>
<rect x="101.89" y="228.70" width="19.3" height="1.80" fill="#5a9ad0"/>
<rect x="101.89" y="226.50" width="19.3" height="2.20" fill="#3a2a4a"/>
<rect x="101.89" y="224.20" width="19.3" height="2.30" fill="#1a1a2a"/>
<line x1="101.89" y1="319.50" x2="121.19" y2="319.50" stroke="#000" stroke-opacity="0.35" stroke-width="0.4"/>
<line x1="101.89" y1="290.00" x2="121.19" y2="290.00" stroke="#000" stroke-opacity="0.35" stroke-width="0.4"/>
<line x1="101.89" y1="263.00" x2="121.19" y2="263.00" stroke="#000" stroke-opacity="0.35" stroke-width="0.4"/>
<line x1="101.89" y1="256.20" x2="121.19" y2="256.20" stroke="#000" stroke-opacity="0.35" stroke-width="0.4"/>
<line x1="101.89" y1="253.20" x2="121.19" y2="253.20" stroke="#000" stroke-opacity="0.35" stroke-width="0.4"/>
<line x1="101.89" y1="244.80" x2="121.19" y2="244.80" stroke="#000" stroke-opacity="0.35" stroke-width="0.4"/>
<line x1="101.89" y1="241.90" x2="121.19" y2="241.90" stroke="#000" stroke-opacity="0.35" stroke-width="0.4"/>
<line x1="101.89" y1="238.50" x2="121.19" y2="238.50" stroke="#000" stroke-opacity="0.35" stroke-width="0.4"/>
<line x1="101.89" y1="237.50" x2="121.19" y2="237.50" stroke="#000" stroke-opacity="0.35" stroke-width="0.4"/>
<line x1="101.89" y1="236.00" x2="121.19" y2="236.00" stroke="#000" stroke-opacity="0.35" stroke-width="0.4"/>
<line x1="101.89" y1="233.80" x2="121.19" y2="233.80" stroke="#000" stroke-opacity="0.35" stroke-width="0.4"/>
<line x1="101.89" y1="232.00" x2="121.19" y2="232.00" stroke="#000" stroke-opacity="0.35" stroke-width="0.4"/>
<line x1="101.89" y1="230.50" x2="121.19" y2="230.50" stroke="#000" stroke-opacity="0.35" stroke-width="0.4"/>
<line x1="101.89" y1="228.70" x2="121.19" y2="228.70" stroke="#000" stroke-opacity="0.35" stroke-width="0.4"/>
<line x1="101.89" y1="226.50" x2="121.19" y2="226.50" stroke="#000" stroke-opacity="0.35" stroke-width="0.4"/>
<rect x="101.89" y="224.20" width="19.3" height="152.80" fill="none" stroke="#666" stroke-width="0.5"/>
<rect x="126.22" y="319.80" width="19.3" height="57.20" fill="#9b3aad"/>
<rect x="126.22" y="294.10" width="19.3" height="25.70" fill="#5320a0"/>
<rect x="126.22" y="283.70" width="19.3" height="10.40" fill="#6aa6d8"/>
<rect x="126.22" y="280.90" width="19.3" height="2.80" fill="#e03025"/>
<rect x="126.22" y="277.60" width="19.3" height="3.30" fill="#e8861a"/>
<rect x="126.22" y="270.70" width="19.3" height="6.90" fill="#a8a030"/>
<rect x="126.22" y="267.40" width="19.3" height="3.30" fill="#28a0a8"/>
<rect x="126.22" y="265.90" width="19.3" height="1.50" fill="#f0ea80"/>
<rect x="126.22" y="252.40" width="19.3" height="13.50" fill="#c8c060"/>
<rect x="126.22" y="250.60" width="19.3" height="1.80" fill="#6b6b20"/>
<rect x="126.22" y="249.20" width="19.3" height="1.40" fill="#88e0a8"/>
<rect x="126.22" y="247.00" width="19.3" height="2.20" fill="#8a7a40"/>
<rect x="126.22" y="245.00" width="19.3" height="2.00" fill="#6a4a8a"/>
<rect x="126.22" y="243.50" width="19.3" height="1.50" fill="#3040a8"/>
<rect x="126.22" y="241.90" width="19.3" height="1.60" fill="#3a2a5a"/>
<rect x="126.22" y="239.00" width="19.3" height="2.90" fill="#6b6b20"/>
<rect x="126.22" y="225.80" width="19.3" height="13.20" fill="#88d058"/>
<rect x="126.22" y="224.20" width="19.3" height="1.60" fill="#2a2a5a"/>
<line x1="126.22" y1="319.80" x2="145.52" y2="319.80" stroke="#000" stroke-opacity="0.35" stroke-width="0.4"/>
<line x1="126.22" y1="294.10" x2="145.52" y2="294.10" stroke="#000" stroke-opacity="0.35" stroke-width="0.4"/>
<line x1="126.22" y1="283.70" x2="145.52" y2="283.70" stroke="#000" stroke-opacity="0.35" stroke-width="0.4"/>
<line x1="126.22" y1="280.90" x2="145.52" y2="280.90" stroke="#000" stroke-opacity="0.35" stroke-width="0.4"/>
<line x1="126.22" y1="277.60" x2="145.52" y2="277.60" stroke="#000" stroke-opacity="0.35" stroke-width="0.4"/>
<line x1="126.22" y1="270.70" x2="145.52" y2="270.70" stroke="#000" stroke-opacity="0.35" stroke-width="0.4"/>
<line x1="126.22" y1="267.40" x2="145.52" y2="267.40" stroke="#000" stroke-opacity="0.35" stroke-width="0.4"/>
<line x1="126.22" y1="265.90" x2="145.52" y2="265.90" stroke="#000" stroke-opacity="0.35" stroke-width="0.4"/>
<line x1="126.22" y1="252.40" x2="145.52" y2="252.40" stroke="#000" stroke-opacity="0.35" stroke-width="0.4"/>
<line x1="126.22" y1="250.60" x2="145.52" y2="250.60" stroke="#000" stroke-opacity="0.35" stroke-width="0.4"/>
<line x1="126.22" y1="249.20" x2="145.52" y2="249.20" stroke="#000" stroke-opacity="0.35" stroke-width="0.4"/>
<line x1="126.22" y1="247.00" x2="145.52" y2="247.00" stroke="#000" stroke-opacity="0.35" stroke-width="0.4"/>
<line x1="126.22" y1="245.00" x2="145.52" y2="245.00" stroke="#000" stroke-opacity="0.35" stroke-width="0.4"/>
<line x1="126.22" y1="243.50" x2="145.52" y2="243.50" stroke="#000" stroke-opacity="0.35" stroke-width="0.4"/>
<line x1="126.22" y1="241.90" x2="145.52" y2="241.90" stroke="#000" stroke-opacity="0.35" stroke-width="0.4"/>
<line x1="126.22" y1="239.00" x2="145.52" y2="239.00" stroke="#000" stroke-opacity="0.35" stroke-width="0.4"/>
<line x1="126.22" y1="225.80" x2="145.52" y2="225.80" stroke="#000" stroke-opacity="0.35" stroke-width="0.4"/>
<rect x="126.22" y="224.20" width="19.3" height="152.80" fill="none" stroke="#666" stroke-width="0.5"/>
<rect x="150.55" y="318.70" width="19.3" height="58.30" fill="#9b3aad"/>
<rect x="150.55" y="312.10" width="19.3" height="6.60" fill="#5320a0"/>
<rect x="150.55" y="304.40" width="19.3" height="7.70" fill="#6aa6d8"/>
<rect x="150.55" y="276.60" width="19.3" height="27.80" fill="#e03025"/>
<rect x="150.55" y="272.80" width="19.3" height="3.80" fill="#e8861a"/>
<rect x="150.55" y="264.90" width="19.3" height="7.90" fill="#a8a030"/>
<rect x="150.55" y="261.30" width="19.3" height="3.60" fill="#28a0a8"/>
<rect x="150.55" y="259.50" width="19.3" height="1.80" fill="#c8c060"/>
<rect x="150.55" y="257.60" width="19.3" height="1.90" fill="#f0ea80"/>
<rect x="150.55" y="247.70" width="19.3" height="9.90" fill="#88e0a8"/>
<rect x="150.55" y="242.60" width="19.3" height="5.10" fill="#6aa6d8"/>
<rect x="150.55" y="238.20" width="19.3" height="4.40" fill="#5a3aa8"/>
<rect x="150.55" y="232.40" width="19.3" height="5.80" fill="#3040a8"/>
<rect x="150.55" y="230.50" width="19.3" height="1.90" fill="#8a9a40"/>
<rect x="150.55" y="228.00" width="19.3" height="2.50" fill="#5a7a5a"/>
<rect x="150.55" y="224.20" width="19.3" height="3.80" fill="#e03025"/>
<line x1="150.55" y1="318.70" x2="169.85" y2="318.70" stroke="#000" stroke-opacity="0.35" stroke-width="0.4"/>
<line x1="150.55" y1="312.10" x2="169.85" y2="312.10" stroke="#000" stroke-opacity="0.35" stroke-width="0.4"/>
<line x1="150.55" y1="304.40" x2="169.85" y2="304.40" stroke="#000" stroke-opacity="0.35" stroke-width="0.4"/>
<line x1="150.55" y1="276.60" x2="169.85" y2="276.60" stroke="#000" stroke-opacity="0.35" stroke-width="0.4"/>
<line x1="150.55" y1="272.80" x2="169.85" y2="272.80" stroke="#000" stroke-opacity="0.35" stroke-width="0.4"/>
<line x1="150.55" y1="264.90" x2="169.85" y2="264.90" stroke="#000" stroke-opacity="0.35" stroke-width="0.4"/>
<line x1="150.55" y1="261.30" x2="169.85" y2="261.30" stroke="#000" stroke-opacity="0.35" stroke-width="0.4"/>
<line x1="150.55" y1="259.50" x2="169.85" y2="259.50" stroke="#000" stroke-opacity="0.35" stroke-width="0.4"/>
<line x1="150.55" y1="257.60" x2="169.85" y2="257.60" stroke="#000" stroke-opacity="0.35" stroke-width="0.4"/>
<line x1="150.55" y1="247.70" x2="169.85" y2="247.70" stroke="#000" stroke-opacity="0.35" stroke-width="0.4"/>
<line x1="150.55" y1="242.60" x2="169.85" y2="242.60" stroke="#000" stroke-opacity="0.35" stroke-width="0.4"/>
<line x1="150.55" y1="238.20" x2="169.85" y2="238.20" stroke="#000" stroke-opacity="0.35" stroke-width="0.4"/>
<line x1="150.55" y1="232.40" x2="169.85" y2="232.40" stroke="#000" stroke-opacity="0.35" stroke-width="0.4"/>
<line x1="150.55" y1="230.50" x2="169.85" y2="230.50" stroke="#000" stroke-opacity="0.35" stroke-width="0.4"/>
<line x1="150.55" y1="228.00" x2="169.85" y2="228.00" stroke="#000" stroke-opacity="0.35" stroke-width="0.4"/>
<rect x="150.55" y="224.20" width="19.3" height="152.80" fill="none" stroke="#666" stroke-width="0.5"/>
<rect x="174.88" y="329.80" width="19.3" height="47.20" fill="#9b3aad"/>
<rect x="174.88" y="324.90" width="19.3" height="4.90" fill="#5320a0"/>
<rect x="174.88" y="313.30" width="19.3" height="11.60" fill="#e8861a"/>
<rect x="174.88" y="275.10" width="19.3" height="38.20" fill="#c8c060"/>
<rect x="174.88" y="272.80" width="19.3" height="2.30" fill="#f8e0a0"/>
<rect x="174.88" y="268.10" width="19.3" height="4.70" fill="#3040a8"/>
<rect x="174.88" y="265.90" width="19.3" height="2.20" fill="#a04a90"/>
<rect x="174.88" y="252.40" width="19.3" height="13.50" fill="#a8c0e0"/>
<rect x="174.88" y="225.80" width="19.3" height="26.60" fill="#6b6b20"/>
<rect x="174.88" y="224.20" width="19.3" height="1.60" fill="#5a6ab8"/>
<line x1="174.88" y1="329.80" x2="194.18" y2="329.80" stroke="#000" stroke-opacity="0.35" stroke-width="0.4"/>
<line x1="174.88" y1="324.90" x2="194.18" y2="324.90" stroke="#000" stroke-opacity="0.35" stroke-width="0.4"/>
<line x1="174.88" y1="313.30" x2="194.18" y2="313.30" stroke="#000" stroke-opacity="0.35" stroke-width="0.4"/>
<line x1="174.88" y1="275.10" x2="194.18" y2="275.10" stroke="#000" stroke-opacity="0.35" stroke-width="0.4"/>
<line x1="174.88" y1="272.80" x2="194.18" y2="272.80" stroke="#000" stroke-opacity="0.35" stroke-width="0.4"/>
<line x1="174.88" y1="268.10" x2="194.18" y2="268.10" stroke="#000" stroke-opacity="0.35" stroke-width="0.4"/>
<line x1="174.88" y1="265.90" x2="194.18" y2="265.90" stroke="#000" stroke-opacity="0.35" stroke-width="0.4"/>
<line x1="174.88" y1="252.40" x2="194.18" y2="252.40" stroke="#000" stroke-opacity="0.35" stroke-width="0.4"/>
<line x1="174.88" y1="225.80" x2="194.18" y2="225.80" stroke="#000" stroke-opacity="0.35" stroke-width="0.4"/>
<rect x="174.88" y="224.20" width="19.3" height="152.80" fill="none" stroke="#666" stroke-width="0.5"/>
<rect x="199.21" y="352.60" width="19.3" height="24.40" fill="#9b3aad"/>
<rect x="199.21" y="347.00" width="19.3" height="5.60" fill="#5320a0"/>
<rect x="199.21" y="343.80" width="19.3" height="3.20" fill="#6aa6d8"/>
<rect x="199.21" y="338.90" width="19.3" height="4.90" fill="#e03025"/>
<rect x="199.21" y="331.80" width="19.3" height="7.10" fill="#e8861a"/>
<rect x="199.21" y="298.20" width="19.3" height="33.60" fill="#a8a030"/>
<rect x="199.21" y="294.90" width="19.3" height="3.30" fill="#f0ea80"/>
<rect x="199.21" y="265.20" width="19.3" height="29.70" fill="#c8c060"/>
<rect x="199.21" y="263.00" width="19.3" height="2.20" fill="#70d0c0"/>
<rect x="199.21" y="257.90" width="19.3" height="5.10" fill="#f0e040"/>
<rect x="199.21" y="253.80" width="19.3" height="4.10" fill="#3040a8"/>
<rect x="199.21" y="235.70" width="19.3" height="18.10" fill="#a8c0e0"/>
<rect x="199.21" y="233.00" width="19.3" height="2.70" fill="#6b6b20"/>
<rect x="199.21" y="230.50" width="19.3" height="2.50" fill="#8aa050"/>
<rect x="199.21" y="227.00" width="19.3" height="3.50" fill="#3040a8"/>
<rect x="199.21" y="225.00" width="19.3" height="2.00" fill="#88d058"/>
<rect x="199.21" y="224.20" width="19.3" height="0.80" fill="#111"/>
<line x1="199.21" y1="352.60" x2="218.51" y2="352.60" stroke="#000" stroke-opacity="0.35" stroke-width="0.4"/>
<line x1="199.21" y1="347.00" x2="218.51" y2="347.00" stroke="#000" stroke-opacity="0.35" stroke-width="0.4"/>
<line x1="199.21" y1="343.80" x2="218.51" y2="343.80" stroke="#000" stroke-opacity="0.35" stroke-width="0.4"/>
<line x1="199.21" y1="338.90" x2="218.51" y2="338.90" stroke="#000" stroke-opacity="0.35" stroke-width="0.4"/>
<line x1="199.21" y1="331.80" x2="218.51" y2="331.80" stroke="#000" stroke-opacity="0.35" stroke-width="0.4"/>
<line x1="199.21" y1="298.20" x2="218.51" y2="298.20" stroke="#000" stroke-opacity="0.35" stroke-width="0.4"/>
<line x1="199.21" y1="294.90" x2="218.51" y2="294.90" stroke="#000" stroke-opacity="0.35" stroke-width="0.4"/>
<line x1="199.21" y1="265.20" x2="218.51" y2="265.20" stroke="#000" stroke-opacity="0.35" stroke-width="0.4"/>
<line x1="199.21" y1="263.00" x2="218.51" y2="263.00" stroke="#000" stroke-opacity="0.35" stroke-width="0.4"/>
<line x1="199.21" y1="257.90" x2="218.51" y2="257.90" stroke="#000" stroke-opacity="0.35" stroke-width="0.4"/>
<line x1="199.21" y1="253.80" x2="218.51" y2="253.80" stroke="#000" stroke-opacity="0.35" stroke-width="0.4"/>
<line x1="199.21" y1="235.70" x2="218.51" y2="235.70" stroke="#000" stroke-opacity="0.35" stroke-width="0.4"/>
<line x1="199.21" y1="233.00" x2="218.51" y2="233.00" stroke="#000" stroke-opacity="0.35" stroke-width="0.4"/>
<line x1="199.21" y1="230.50" x2="218.51" y2="230.50" stroke="#000" stroke-opacity="0.35" stroke-width="0.4"/>
<line x1="199.21" y1="227.00" x2="218.51" y2="227.00" stroke="#000" stroke-opacity="0.35" stroke-width="0.4"/>
<line x1="199.21" y1="225.00" x2="218.51" y2="225.00" stroke="#000" stroke-opacity="0.35" stroke-width="0.4"/>
<rect x="199.21" y="224.20" width="19.3" height="152.80" fill="none" stroke="#666" stroke-width="0.5"/>
<rect x="223.54" y="373.60" width="19.3" height="3.40" fill="#9b3aad"/>
<rect x="223.54" y="372.50" width="19.3" height="1.10" fill="#5320a0"/>
<rect x="223.54" y="369.00" width="19.3" height="3.50" fill="#6aa6d8"/>
<rect x="223.54" y="367.90" width="19.3" height="1.10" fill="#e03025"/>
<rect x="223.54" y="353.90" width="19.3" height="14.00" fill="#e8861a"/>
<rect x="223.54" y="338.00" width="19.3" height="15.90" fill="#a8a030"/>
<rect x="223.54" y="332.60" width="19.3" height="5.40" fill="#f0ea80"/>
<rect x="223.54" y="315.70" width="19.3" height="16.90" fill="#c8c060"/>
<rect x="223.54" y="313.00" width="19.3" height="2.70" fill="#88e0a8"/>
<rect x="223.54" y="307.50" width="19.3" height="5.50" fill="#5a9ad0"/>
<rect x="223.54" y="306.40" width="19.3" height="1.10" fill="#f0e040"/>
<rect x="223.54" y="303.10" width="19.3" height="3.30" fill="#3040a8"/>
<rect x="223.54" y="241.90" width="19.3" height="61.20" fill="#a8c0e0"/>
<rect x="223.54" y="239.00" width="19.3" height="2.90" fill="#6b6b20"/>
<rect x="223.54" y="237.50" width="19.3" height="1.50" fill="#88d058"/>
<rect x="223.54" y="236.80" width="19.3" height="0.70" fill="#e0b0c0"/>
<rect x="223.54" y="233.10" width="19.3" height="3.70" fill="#5060c0"/>
<rect x="223.54" y="232.40" width="19.3" height="0.70" fill="#3040a8"/>
<rect x="223.54" y="227.30" width="19.3" height="5.10" fill="#88d058"/>
<rect x="223.54" y="225.20" width="19.3" height="2.10" fill="#7080a0"/>
<rect x="223.54" y="224.20" width="19.3" height="1.00" fill="#4a2a3a"/>
<line x1="223.54" y1="373.60" x2="242.84" y2="373.60" stroke="#000" stroke-opacity="0.35" stroke-width="0.4"/>
<line x1="223.54" y1="372.50" x2="242.84" y2="372.50" stroke="#000" stroke-opacity="0.35" stroke-width="0.4"/>
<line x1="223.54" y1="369.00" x2="242.84" y2="369.00" stroke="#000" stroke-opacity="0.35" stroke-width="0.4"/>
<line x1="223.54" y1="367.90" x2="242.84" y2="367.90" stroke="#000" stroke-opacity="0.35" stroke-width="0.4"/>
<line x1="223.54" y1="353.90" x2="242.84" y2="353.90" stroke="#000" stroke-opacity="0.35" stroke-width="0.4"/>
<line x1="223.54" y1="338.00" x2="242.84" y2="338.00" stroke="#000" stroke-opacity="0.35" stroke-width="0.4"/>
<line x1="223.54" y1="332.60" x2="242.84" y2="332.60" stroke="#000" stroke-opacity="0.35" stroke-width="0.4"/>
<line x1="223.54" y1="315.70" x2="242.84" y2="315.70" stroke="#000" stroke-opacity="0.35" stroke-width="0.4"/>
<line x1="223.54" y1="313.00" x2="242.84" y2="313.00" stroke="#000" stroke-opacity="0.35" stroke-width="0.4"/>
<line x1="223.54" y1="307.50" x2="242.84" y2="307.50" stroke="#000" stroke-opacity="0.35" stroke-width="0.4"/>
<line x1="223.54" y1="306.40" x2="242.84" y2="306.40" stroke="#000" stroke-opacity="0.35" stroke-width="0.4"/>
<line x1="223.54" y1="303.10" x2="242.84" y2="303.10" stroke="#000" stroke-opacity="0.35" stroke-width="0.4"/>
<line x1="223.54" y1="241.90" x2="242.84" y2="241.90" stroke="#000" stroke-opacity="0.35" stroke-width="0.4"/>
<line x1="223.54" y1="239.00" x2="242.84" y2="239.00" stroke="#000" stroke-opacity="0.35" stroke-width="0.4"/>
<line x1="223.54" y1="237.50" x2="242.84" y2="237.50" stroke="#000" stroke-opacity="0.35" stroke-width="0.4"/>
<line x1="223.54" y1="236.80" x2="242.84" y2="236.80" stroke="#000" stroke-opacity="0.35" stroke-width="0.4"/>
<line x1="223.54" y1="233.10" x2="242.84" y2="233.10" stroke="#000" stroke-opacity="0.35" stroke-width="0.4"/>
<line x1="223.54" y1="232.40" x2="242.84" y2="232.40" stroke="#000" stroke-opacity="0.35" stroke-width="0.4"/>
<line x1="223.54" y1="227.30" x2="242.84" y2="227.30" stroke="#000" stroke-opacity="0.35" stroke-width="0.4"/>
<line x1="223.54" y1="225.20" x2="242.84" y2="225.20" stroke="#000" stroke-opacity="0.35" stroke-width="0.4"/>
<rect x="223.54" y="224.20" width="19.3" height="152.80" fill="none" stroke="#666" stroke-width="0.5"/>
<rect x="247.87" y="364.60" width="19.3" height="12.40" fill="#9b3aad"/>
<rect x="247.87" y="362.10" width="19.3" height="2.50" fill="#5320a0"/>
<rect x="247.87" y="353.90" width="19.3" height="8.20" fill="#6aa6d8"/>
<rect x="247.87" y="345.70" width="19.3" height="8.20" fill="#e03025"/>
<rect x="247.87" y="331.30" width="19.3" height="14.40" fill="#e8861a"/>
<rect x="247.87" y="310.50" width="19.3" height="20.80" fill="#a8a030"/>
<rect x="247.87" y="295.80" width="19.3" height="14.70" fill="#c8c060"/>
<rect x="247.87" y="292.90" width="19.3" height="2.90" fill="#d2691e"/>
<rect x="247.87" y="286.30" width="19.3" height="6.60" fill="#5a9ad0"/>
<rect x="247.87" y="283.40" width="19.3" height="2.90" fill="#d8c840"/>
<rect x="247.87" y="267.40" width="19.3" height="16.00" fill="#5a3aa8"/>
<rect x="247.87" y="266.40" width="19.3" height="1.00" fill="#3040a8"/>
<rect x="247.87" y="243.00" width="19.3" height="23.40" fill="#a8c0e0"/>
<rect x="247.87" y="240.40" width="19.3" height="2.60" fill="#6b6b20"/>
<rect x="247.87" y="239.00" width="19.3" height="1.40" fill="#b8e050"/>
<rect x="247.87" y="235.30" width="19.3" height="3.70" fill="#8090b0"/>
<rect x="247.87" y="231.00" width="19.3" height="4.30" fill="#5a7ac8"/>
<rect x="247.87" y="229.50" width="19.3" height="1.50" fill="#6a8a50"/>
<rect x="247.87" y="226.00" width="19.3" height="3.50" fill="#5a7ac8"/>
<rect x="247.87" y="224.20" width="19.3" height="1.80" fill="#6a6090"/>
<line x1="247.87" y1="364.60" x2="267.17" y2="364.60" stroke="#000" stroke-opacity="0.35" stroke-width="0.4"/>
<line x1="247.87" y1="362.10" x2="267.17" y2="362.10" stroke="#000" stroke-opacity="0.35" stroke-width="0.4"/>
<line x1="247.87" y1="353.90" x2="267.17" y2="353.90" stroke="#000" stroke-opacity="0.35" stroke-width="0.4"/>
<line x1="247.87" y1="345.70" x2="267.17" y2="345.70" stroke="#000" stroke-opacity="0.35" stroke-width="0.4"/>
<line x1="247.87" y1="331.30" x2="267.17" y2="331.30" stroke="#000" stroke-opacity="0.35" stroke-width="0.4"/>
<line x1="247.87" y1="310.50" x2="267.17" y2="310.50" stroke="#000" stroke-opacity="0.35" stroke-width="0.4"/>
<line x1="247.87" y1="295.80" x2="267.17" y2="295.80" stroke="#000" stroke-opacity="0.35" stroke-width="0.4"/>
<line x1="247.87" y1="292.90" x2="267.17" y2="292.90" stroke="#000" stroke-opacity="0.35" stroke-width="0.4"/>
<line x1="247.87" y1="286.30" x2="267.17" y2="286.30" stroke="#000" stroke-opacity="0.35" stroke-width="0.4"/>
<line x1="247.87" y1="283.40" x2="267.17" y2="283.40" stroke="#000" stroke-opacity="0.35" stroke-width="0.4"/>
<line x1="247.87" y1="267.40" x2="267.17" y2="267.40" stroke="#000" stroke-opacity="0.35" stroke-width="0.4"/>
<line x1="247.87" y1="266.40" x2="267.17" y2="266.40" stroke="#000" stroke-opacity="0.35" stroke-width="0.4"/>
<line x1="247.87" y1="243.00" x2="267.17" y2="243.00" stroke="#000" stroke-opacity="0.35" stroke-width="0.4"/>
<line x1="247.87" y1="240.40" x2="267.17" y2="240.40" stroke="#000" stroke-opacity="0.35" stroke-width="0.4"/>
<line x1="247.87" y1="239.00" x2="267.17" y2="239.00" stroke="#000" stroke-opacity="0.35" stroke-width="0.4"/>
<line x1="247.87" y1="235.30" x2="267.17" y2="235.30" stroke="#000" stroke-opacity="0.35" stroke-width="0.4"/>
<line x1="247.87" y1="231.00" x2="267.17" y2="231.00" stroke="#000" stroke-opacity="0.35" stroke-width="0.4"/>
<line x1="247.87" y1="229.50" x2="267.17" y2="229.50" stroke="#000" stroke-opacity="0.35" stroke-width="0.4"/>
<line x1="247.87" y1="226.00" x2="267.17" y2="226.00" stroke="#000" stroke-opacity="0.35" stroke-width="0.4"/>
<rect x="247.87" y="224.20" width="19.3" height="152.80" fill="none" stroke="#666" stroke-width="0.5"/>
<rect x="272.20" y="367.50" width="19.3" height="9.50" fill="#9b3aad"/>
<rect x="272.20" y="365.70" width="19.3" height="1.80" fill="#5320a0"/>
<rect x="272.20" y="347.70" width="19.3" height="18.00" fill="#6aa6d8"/>
<rect x="272.20" y="346.60" width="19.3" height="1.10" fill="#e03025"/>
<rect x="272.20" y="321.60" width="19.3" height="25.00" fill="#e8861a"/>
<rect x="272.20" y="320.30" width="19.3" height="1.30" fill="#28a0a8"/>
<rect x="272.20" y="295.70" width="19.3" height="24.60" fill="#f0ea80"/>
<rect x="272.20" y="284.10" width="19.3" height="11.60" fill="#c8c060"/>
<rect x="272.20" y="277.30" width="19.3" height="6.80" fill="#88e0a8"/>
<rect x="272.20" y="273.20" width="19.3" height="4.10" fill="#f8e0a0"/>
<rect x="272.20" y="272.80" width="19.3" height="0.40" fill="#2a2a7a"/>
<rect x="272.20" y="260.50" width="19.3" height="12.30" fill="#3040a8"/>
<rect x="272.20" y="257.60" width="19.3" height="2.90" fill="#c030b0"/>
<rect x="272.20" y="256.70" width="19.3" height="0.90" fill="#5a3aa8"/>
<rect x="272.20" y="254.70" width="19.3" height="2.00" fill="#a8c0e0"/>
<rect x="272.20" y="245.90" width="19.3" height="8.80" fill="#6b6b20"/>
<rect x="272.20" y="232.80" width="19.3" height="13.10" fill="#b8e050"/>
<rect x="272.20" y="229.00" width="19.3" height="3.80" fill="#88d058"/>
<rect x="272.20" y="227.30" width="19.3" height="1.70" fill="#5a7ac8"/>
<rect x="272.20" y="224.70" width="19.3" height="2.60" fill="#e03025"/>
<rect x="272.20" y="224.20" width="19.3" height="0.50" fill="#2a2a3a"/>
<line x1="272.20" y1="367.50" x2="291.50" y2="367.50" stroke="#000" stroke-opacity="0.35" stroke-width="0.4"/>
<line x1="272.20" y1="365.70" x2="291.50" y2="365.70" stroke="#000" stroke-opacity="0.35" stroke-width="0.4"/>
<line x1="272.20" y1="347.70" x2="291.50" y2="347.70" stroke="#000" stroke-opacity="0.35" stroke-width="0.4"/>
<line x1="272.20" y1="346.60" x2="291.50" y2="346.60" stroke="#000" stroke-opacity="0.35" stroke-width="0.4"/>
<line x1="272.20" y1="321.60" x2="291.50" y2="321.60" stroke="#000" stroke-opacity="0.35" stroke-width="0.4"/>
<line x1="272.20" y1="320.30" x2="291.50" y2="320.30" stroke="#000" stroke-opacity="0.35" stroke-width="0.4"/>
<line x1="272.20" y1="295.70" x2="291.50" y2="295.70" stroke="#000" stroke-opacity="0.35" stroke-width="0.4"/>
<line x1="272.20" y1="284.10" x2="291.50" y2="284.10" stroke="#000" stroke-opacity="0.35" stroke-width="0.4"/>
<line x1="272.20" y1="277.30" x2="291.50" y2="277.30" stroke="#000" stroke-opacity="0.35" stroke-width="0.4"/>
<line x1="272.20" y1="273.20" x2="291.50" y2="273.20" stroke="#000" stroke-opacity="0.35" stroke-width="0.4"/>
<line x1="272.20" y1="272.80" x2="291.50" y2="272.80" stroke="#000" stroke-opacity="0.35" stroke-width="0.4"/>
<line x1="272.20" y1="260.50" x2="291.50" y2="260.50" stroke="#000" stroke-opacity="0.35" stroke-width="0.4"/>
<line x1="272.20" y1="257.60" x2="291.50" y2="257.60" stroke="#000" stroke-opacity="0.35" stroke-width="0.4"/>
<line x1="272.20" y1="256.70" x2="291.50" y2="256.70" stroke="#000" stroke-opacity="0.35" stroke-width="0.4"/>
<line x1="272.20" y1="254.70" x2="291.50" y2="254.70" stroke="#000" stroke-opacity="0.35" stroke-width="0.4"/>
<line x1="272.20" y1="245.90" x2="291.50" y2="245.90" stroke="#000" stroke-opacity="0.35" stroke-width="0.4"/>
<line x1="272.20" y1="232.80" x2="291.50" y2="232.80" stroke="#000" stroke-opacity="0.35" stroke-width="0.4"/>
<line x1="272.20" y1="229.00" x2="291.50" y2="229.00" stroke="#000" stroke-opacity="0.35" stroke-width="0.4"/>
<line x1="272.20" y1="227.30" x2="291.50" y2="227.30" stroke="#000" stroke-opacity="0.35" stroke-width="0.4"/>
<line x1="272.20" y1="224.70" x2="291.50" y2="224.70" stroke="#000" stroke-opacity="0.35" stroke-width="0.4"/>
<rect x="272.20" y="224.20" width="19.3" height="152.80" fill="none" stroke="#666" stroke-width="0.5"/>
<rect x="296.53" y="366.20" width="19.3" height="10.80" fill="#9b3aad"/>
<rect x="296.53" y="362.10" width="19.3" height="4.10" fill="#5320a0"/>
<rect x="296.53" y="348.50" width="19.3" height="13.60" fill="#6aa6d8"/>
<rect x="296.53" y="344.10" width="19.3" height="4.40" fill="#e03025"/>
<rect x="296.53" y="340.00" width="19.3" height="4.10" fill="#e8861a"/>
<rect x="296.53" y="326.40" width="19.3" height="13.60" fill="#a8a030"/>
<rect x="296.53" y="319.50" width="19.3" height="6.90" fill="#f0ea80"/>
<rect x="296.53" y="300.80" width="19.3" height="18.70" fill="#c8c060"/>
<rect x="296.53" y="299.80" width="19.3" height="1.00" fill="#d2691e"/>
<rect x="296.53" y="289.20" width="19.3" height="10.60" fill="#88e0a8"/>
<rect x="296.53" y="284.10" width="19.3" height="5.10" fill="#c8c060"/>
<rect x="296.53" y="274.70" width="19.3" height="9.40" fill="#f8e0a0"/>
<rect x="296.53" y="250.60" width="19.3" height="24.10" fill="#3040a8"/>
<rect x="296.53" y="244.80" width="19.3" height="5.80" fill="#a8c0e0"/>
<rect x="296.53" y="243.00" width="19.3" height="1.80" fill="#6b6b20"/>
<rect x="296.53" y="232.80" width="19.3" height="10.20" fill="#b8e050"/>
<rect x="296.53" y="227.60" width="19.3" height="5.20" fill="#e03025"/>
<rect x="296.53" y="224.20" width="19.3" height="3.40" fill="#5a6ab8"/>
<line x1="296.53" y1="366.20" x2="315.83" y2="366.20" stroke="#000" stroke-opacity="0.35" stroke-width="0.4"/>
<line x1="296.53" y1="362.10" x2="315.83" y2="362.10" stroke="#000" stroke-opacity="0.35" stroke-width="0.4"/>
<line x1="296.53" y1="348.50" x2="315.83" y2="348.50" stroke="#000" stroke-opacity="0.35" stroke-width="0.4"/>
<line x1="296.53" y1="344.10" x2="315.83" y2="344.10" stroke="#000" stroke-opacity="0.35" stroke-width="0.4"/>
<line x1="296.53" y1="340.00" x2="315.83" y2="340.00" stroke="#000" stroke-opacity="0.35" stroke-width="0.4"/>
<line x1="296.53" y1="326.40" x2="315.83" y2="326.40" stroke="#000" stroke-opacity="0.35" stroke-width="0.4"/>
<line x1="296.53" y1="319.50" x2="315.83" y2="319.50" stroke="#000" stroke-opacity="0.35" stroke-width="0.4"/>
<line x1="296.53" y1="300.80" x2="315.83" y2="300.80" stroke="#000" stroke-opacity="0.35" stroke-width="0.4"/>
<line x1="296.53" y1="299.80" x2="315.83" y2="299.80" stroke="#000" stroke-opacity="0.35" stroke-width="0.4"/>
<line x1="296.53" y1="289.20" x2="315.83" y2="289.20" stroke="#000" stroke-opacity="0.35" stroke-width="0.4"/>
<line x1="296.53" y1="284.10" x2="315.83" y2="284.10" stroke="#000" stroke-opacity="0.35" stroke-width="0.4"/>
<line x1="296.53" y1="274.70" x2="315.83" y2="274.70" stroke="#000" stroke-opacity="0.35" stroke-width="0.4"/>
<line x1="296.53" y1="250.60" x2="315.83" y2="250.60" stroke="#000" stroke-opacity="0.35" stroke-width="0.4"/>
<line x1="296.53" y1="244.80" x2="315.83" y2="244.80" stroke="#000" stroke-opacity="0.35" stroke-width="0.4"/>
<line x1="296.53" y1="243.00" x2="315.83" y2="243.00" stroke="#000" stroke-opacity="0.35" stroke-width="0.4"/>
<line x1="296.53" y1="232.80" x2="315.83" y2="232.80" stroke="#000" stroke-opacity="0.35" stroke-width="0.4"/>
<line x1="296.53" y1="227.60" x2="315.83" y2="227.60" stroke="#000" stroke-opacity="0.35" stroke-width="0.4"/>
<rect x="296.53" y="224.20" width="19.3" height="152.80" fill="none" stroke="#666" stroke-width="0.5"/>
<rect x="320.86" y="370.00" width="19.3" height="7.00" fill="#9b3aad"/>
<rect x="320.86" y="358.00" width="19.3" height="12.00" fill="#6aa6d8"/>
<rect x="320.86" y="357.20" width="19.3" height="0.80" fill="#e03025"/>
<rect x="320.86" y="349.30" width="19.3" height="7.90" fill="#e8861a"/>
<rect x="320.86" y="339.70" width="19.3" height="9.60" fill="#a8a030"/>
<rect x="320.86" y="338.00" width="19.3" height="1.70" fill="#28a0a8"/>
<rect x="320.86" y="332.60" width="19.3" height="5.40" fill="#f0ea80"/>
<rect x="320.86" y="328.50" width="19.3" height="4.10" fill="#c8c060"/>
<rect x="320.86" y="284.20" width="19.3" height="44.30" fill="#88e0a8"/>
<rect x="320.86" y="279.90" width="19.3" height="4.30" fill="#c8c060"/>
<rect x="320.86" y="274.70" width="19.3" height="5.20" fill="#f8e0a0"/>
<rect x="320.86" y="272.30" width="19.3" height="2.40" fill="#3040a8"/>
<rect x="320.86" y="271.10" width="19.3" height="1.20" fill="#c030b0"/>
<rect x="320.86" y="262.60" width="19.3" height="8.50" fill="#a8c0e0"/>
<rect x="320.86" y="259.10" width="19.3" height="3.50" fill="#6b6b20"/>
<rect x="320.86" y="256.20" width="19.3" height="2.90" fill="#b8e050"/>
<rect x="320.86" y="235.80" width="19.3" height="20.40" fill="#88d058"/>
<rect x="320.86" y="229.50" width="19.3" height="6.30" fill="#e8861a"/>
<rect x="320.86" y="227.30" width="19.3" height="2.20" fill="#7080a0"/>
<rect x="320.86" y="224.20" width="19.3" height="3.10" fill="#4a6a5a"/>
<line x1="320.86" y1="370.00" x2="340.16" y2="370.00" stroke="#000" stroke-opacity="0.35" stroke-width="0.4"/>
<line x1="320.86" y1="358.00" x2="340.16" y2="358.00" stroke="#000" stroke-opacity="0.35" stroke-width="0.4"/>
<line x1="320.86" y1="357.20" x2="340.16" y2="357.20" stroke="#000" stroke-opacity="0.35" stroke-width="0.4"/>
<line x1="320.86" y1="349.30" x2="340.16" y2="349.30" stroke="#000" stroke-opacity="0.35" stroke-width="0.4"/>
<line x1="320.86" y1="339.70" x2="340.16" y2="339.70" stroke="#000" stroke-opacity="0.35" stroke-width="0.4"/>
<line x1="320.86" y1="338.00" x2="340.16" y2="338.00" stroke="#000" stroke-opacity="0.35" stroke-width="0.4"/>
<line x1="320.86" y1="332.60" x2="340.16" y2="332.60" stroke="#000" stroke-opacity="0.35" stroke-width="0.4"/>
<line x1="320.86" y1="328.50" x2="340.16" y2="328.50" stroke="#000" stroke-opacity="0.35" stroke-width="0.4"/>
<line x1="320.86" y1="284.20" x2="340.16" y2="284.20" stroke="#000" stroke-opacity="0.35" stroke-width="0.4"/>
<line x1="320.86" y1="279.90" x2="340.16" y2="279.90" stroke="#000" stroke-opacity="0.35" stroke-width="0.4"/>
<line x1="320.86" y1="274.70" x2="340.16" y2="274.70" stroke="#000" stroke-opacity="0.35" stroke-width="0.4"/>
<line x1="320.86" y1="272.30" x2="340.16" y2="272.30" stroke="#000" stroke-opacity="0.35" stroke-width="0.4"/>
<line x1="320.86" y1="271.10" x2="340.16" y2="271.10" stroke="#000" stroke-opacity="0.35" stroke-width="0.4"/>
<line x1="320.86" y1="262.60" x2="340.16" y2="262.60" stroke="#000" stroke-opacity="0.35" stroke-width="0.4"/>
<line x1="320.86" y1="259.10" x2="340.16" y2="259.10" stroke="#000" stroke-opacity="0.35" stroke-width="0.4"/>
<line x1="320.86" y1="256.20" x2="340.16" y2="256.20" stroke="#000" stroke-opacity="0.35" stroke-width="0.4"/>
<line x1="320.86" y1="235.80" x2="340.16" y2="235.80" stroke="#000" stroke-opacity="0.35" stroke-width="0.4"/>
<line x1="320.86" y1="229.50" x2="340.16" y2="229.50" stroke="#000" stroke-opacity="0.35" stroke-width="0.4"/>
<line x1="320.86" y1="227.30" x2="340.16" y2="227.30" stroke="#000" stroke-opacity="0.35" stroke-width="0.4"/>
<rect x="320.86" y="224.20" width="19.3" height="152.80" fill="none" stroke="#666" stroke-width="0.5"/>
<line x1="26.4" y1="224.2" x2="26.4" y2="377.5" stroke="#999" stroke-width="1"/>
<line x1="26.4" y1="377.1" x2="354.8" y2="377.1" stroke="#999" stroke-width="1"/>
<line x1="24.2" y1="377.00" x2="26.2" y2="377.00" stroke="#888" stroke-width="0.6"/>
<text x="21.80" y="378.60" font-size="6.4" text-anchor="end" fill="#222" color="#222" font-weight="normal" font-style="normal" >0</text>
<line x1="24.2" y1="346.44" x2="26.2" y2="346.44" stroke="#888" stroke-width="0.6"/>
<text x="21.80" y="348.04" font-size="6.4" text-anchor="end" fill="#222" color="#222" font-weight="normal" font-style="normal" >20</text>
<line x1="24.2" y1="315.88" x2="26.2" y2="315.88" stroke="#888" stroke-width="0.6"/>
<text x="21.80" y="317.48" font-size="6.4" text-anchor="end" fill="#222" color="#222" font-weight="normal" font-style="normal" >40</text>
<line x1="24.2" y1="285.32" x2="26.2" y2="285.32" stroke="#888" stroke-width="0.6"/>
<text x="21.80" y="286.92" font-size="6.4" text-anchor="end" fill="#222" color="#222" font-weight="normal" font-style="normal" >60</text>
<line x1="24.2" y1="254.76" x2="26.2" y2="254.76" stroke="#888" stroke-width="0.6"/>
<text x="21.80" y="256.36" font-size="6.4" text-anchor="end" fill="#222" color="#222" font-weight="normal" font-style="normal" >80</text>
<line x1="24.2" y1="224.20" x2="26.2" y2="224.20" stroke="#888" stroke-width="0.6"/>
<text x="21.80" y="225.80" font-size="6.4" text-anchor="end" fill="#222" color="#222" font-weight="normal" font-style="normal" >100</text>
<line x1="38.55" y1="377.0" x2="38.55" y2="379.2" stroke="#888" stroke-width="0.6"/>
<text x="38.55" y="386.80" font-size="6" text-anchor="middle" fill="#222" color="#222" font-weight="normal" font-style="normal" >Ag</text>
<text x="41.75" y="397.30" font-size="6" text-anchor="end" fill="#222" transform="rotate(-45 41.75 397.30)">(Mar 2017)</text>
<line x1="62.88" y1="377.0" x2="62.88" y2="379.2" stroke="#888" stroke-width="0.6"/>
<text x="62.88" y="386.80" font-size="6" text-anchor="middle" fill="#222" color="#222" font-weight="normal" font-style="normal" >Ag</text>
<text x="66.08" y="397.30" font-size="6" text-anchor="end" fill="#222" transform="rotate(-45 66.08 397.30)">(Sep 2017)</text>
<line x1="87.21" y1="377.0" x2="87.21" y2="379.2" stroke="#888" stroke-width="0.6"/>
<text x="87.21" y="386.80" font-size="6" text-anchor="middle" fill="#222" color="#222" font-weight="normal" font-style="normal" >Ag</text>
<text x="90.41" y="397.30" font-size="6" text-anchor="end" fill="#222" transform="rotate(-45 90.41 397.30)">(Nov 2017)</text>
<line x1="111.54" y1="377.0" x2="111.54" y2="379.2" stroke="#888" stroke-width="0.6"/>
<text x="111.54" y="386.80" font-size="6" text-anchor="middle" fill="#222" color="#222" font-weight="normal" font-style="normal" >Ag</text>
<text x="114.74" y="397.30" font-size="6" text-anchor="end" fill="#222" transform="rotate(-45 114.74 397.30)">(Feb 2018)</text>
<line x1="135.87" y1="377.0" x2="135.87" y2="379.2" stroke="#888" stroke-width="0.6"/>
<text x="135.87" y="386.80" font-size="6" text-anchor="middle" fill="#222" color="#222" font-weight="normal" font-style="normal" >Ag</text>
<text x="139.07" y="397.30" font-size="6" text-anchor="end" fill="#222" transform="rotate(-45 139.07 397.30)">(Jun 2018)</text>
<line x1="160.20" y1="377.0" x2="160.20" y2="379.2" stroke="#888" stroke-width="0.6"/>
<text x="160.20" y="386.80" font-size="6" text-anchor="middle" fill="#222" color="#222" font-weight="normal" font-style="normal" >Pr1</text>
<text x="163.40" y="397.30" font-size="6" text-anchor="end" fill="#222" transform="rotate(-45 163.40 397.30)">(Dec 2018)</text>
<line x1="184.53" y1="377.0" x2="184.53" y2="379.2" stroke="#888" stroke-width="0.6"/>
<text x="184.53" y="386.80" font-size="6" text-anchor="middle" fill="#222" color="#222" font-weight="normal" font-style="normal" >Pr2</text>
<text x="187.73" y="397.30" font-size="6" text-anchor="end" fill="#222" transform="rotate(-45 187.73 397.30)">(May 2019)</text>
<line x1="208.86" y1="377.0" x2="208.86" y2="379.2" stroke="#888" stroke-width="0.6"/>
<text x="208.86" y="386.80" font-size="6" text-anchor="middle" fill="#222" color="#222" font-weight="normal" font-style="normal" >Pr3</text>
<text x="212.06" y="397.30" font-size="6" text-anchor="end" fill="#222" transform="rotate(-45 212.06 397.30)">(Nov 2017)</text>
<line x1="233.19" y1="377.0" x2="233.19" y2="379.2" stroke="#888" stroke-width="0.6"/>
<text x="233.19" y="386.80" font-size="6" text-anchor="middle" fill="#222" color="#222" font-weight="normal" font-style="normal" >Pr3</text>
<text x="236.39" y="397.30" font-size="6" text-anchor="end" fill="#222" transform="rotate(-45 236.39 397.30)">(Sep 2018)</text>
<line x1="257.52" y1="377.0" x2="257.52" y2="379.2" stroke="#888" stroke-width="0.6"/>
<text x="257.52" y="386.80" font-size="6" text-anchor="middle" fill="#222" color="#222" font-weight="normal" font-style="normal" >Pr4</text>
<text x="260.72" y="397.30" font-size="6" text-anchor="end" fill="#222" transform="rotate(-45 260.72 397.30)">(Sep 2018)</text>
<line x1="281.85" y1="377.0" x2="281.85" y2="379.2" stroke="#888" stroke-width="0.6"/>
<text x="281.85" y="386.80" font-size="6" text-anchor="middle" fill="#222" color="#222" font-weight="normal" font-style="normal" >Pr5</text>
<text x="285.05" y="397.30" font-size="6" text-anchor="end" fill="#222" transform="rotate(-45 285.05 397.30)">(May 2019)</text>
<line x1="306.18" y1="377.0" x2="306.18" y2="379.2" stroke="#888" stroke-width="0.6"/>
<text x="306.18" y="386.80" font-size="6" text-anchor="middle" fill="#222" color="#222" font-weight="normal" font-style="normal" >Pr6</text>
<text x="309.38" y="397.30" font-size="6" text-anchor="end" fill="#222" transform="rotate(-45 309.38 397.30)">(May 2019)</text>
<line x1="330.51" y1="377.0" x2="330.51" y2="379.2" stroke="#888" stroke-width="0.6"/>
<text x="330.51" y="386.80" font-size="6" text-anchor="middle" fill="#222" color="#222" font-weight="normal" font-style="normal" >Pr7</text>
<text x="333.71" y="397.30" font-size="6" text-anchor="end" fill="#222" transform="rotate(-45 333.71 397.30)">(Nov 2018)</text>
<text x="184.00" y="434.80" font-size="6" text-anchor="middle" fill="#222" color="#222" font-weight="normal" font-style="normal" >Sampling point</text>
<text x="8.0" y="299.6" font-size="6.1" text-anchor="middle" fill="#222" transform="rotate(-90 8.0 299.6)">Total coverage (%)</text>
<rect x="7.5" y="454" width="350" height="91" fill="none" stroke="#999" stroke-width="0.8"/>
<rect x="9.10" y="456.40" width="9.6" height="3" fill="#9b3aad" stroke="#555" stroke-width="0.35"/>
<text x="20.90" y="459.60" font-size="4.7" text-anchor="start" fill="#333" color="#333" font-weight="normal" font-style="normal" style="stroke-width:0.04px">CPR</text>
<rect x="9.10" y="463.32" width="9.6" height="3" fill="#5320a0" stroke="#555" stroke-width="0.35"/>
<text x="20.90" y="466.52" font-size="4.7" text-anchor="start" fill="#333" color="#333" font-weight="normal" font-style="normal" style="stroke-width:0.04px">DPANN</text>
<rect x="9.10" y="470.24" width="9.6" height="3" fill="#e8861a" stroke="#555" stroke-width="0.35"/>
<text x="20.90" y="473.44" font-size="4.7" text-anchor="start" fill="#333" color="#333" font-weight="normal" font-style="normal" style="stroke-width:0.04px">Chloroflexi</text>
<rect x="9.10" y="477.16" width="9.6" height="3" fill="#6aa6d8" stroke="#555" stroke-width="0.35"/>
<text x="20.90" y="480.36" font-size="4.7" text-anchor="start" fill="#333" color="#333" font-weight="normal" font-style="normal" style="stroke-width:0.04px">Planctomycetes</text>
<rect x="9.10" y="484.08" width="9.6" height="3" fill="#e03025" stroke="#555" stroke-width="0.35"/>
<text x="20.90" y="487.28" font-size="4.7" fill="#333" style="stroke-width:0.04px"><tspan font-style="italic">Ca.</tspan> Omnitrophica</text>
<rect x="9.10" y="491.00" width="9.6" height="3" fill="#28a0a8" stroke="#555" stroke-width="0.35"/>
<text x="20.90" y="494.20" font-size="4.7" fill="#333" style="stroke-width:0.04px"><tspan font-style="italic">Ca.</tspan> Rokubacteria</text>
<rect x="9.10" y="497.92" width="9.6" height="3" fill="#a8a030" stroke="#555" stroke-width="0.35"/>
<text x="20.90" y="501.12" font-size="4.7" text-anchor="start" fill="#333" color="#333" font-weight="normal" font-style="normal" style="stroke-width:0.04px">Deltaproteobacteria</text>
<rect x="9.10" y="504.84" width="9.6" height="3" fill="#88e0a8" stroke="#555" stroke-width="0.35"/>
<text x="20.90" y="508.04" font-size="4.7" text-anchor="start" fill="#333" color="#333" font-weight="normal" font-style="normal" style="stroke-width:0.04px">Acidobacteria</text>
<rect x="9.10" y="511.76" width="9.6" height="3" fill="#d2691e" stroke="#555" stroke-width="0.35"/>
<text x="20.90" y="514.96" font-size="4.7" text-anchor="start" fill="#333" color="#333" font-weight="normal" font-style="normal" style="stroke-width:0.04px">NC10</text>
<rect x="9.10" y="518.68" width="9.6" height="3" fill="#c8c060" stroke="#555" stroke-width="0.35"/>
<text x="20.90" y="521.88" font-size="4.7" text-anchor="start" fill="#333" color="#333" font-weight="normal" font-style="normal" style="stroke-width:0.04px">Betaproteobacteria</text>
<rect x="9.10" y="525.60" width="9.6" height="3" fill="#5a9ad0" stroke="#555" stroke-width="0.35"/>
<text x="20.90" y="528.80" font-size="4.7" text-anchor="start" fill="#333" color="#333" font-weight="normal" font-style="normal" style="stroke-width:0.04px">Nitrospirae</text>
<rect x="9.10" y="532.52" width="9.6" height="3" fill="#b8c050" stroke="#555" stroke-width="0.35"/>
<text x="20.90" y="535.72" font-size="4.7" text-anchor="start" fill="#333" color="#333" font-weight="normal" font-style="normal" style="stroke-width:0.04px">Thaumarchaeota</text>
<rect x="78.80" y="456.40" width="9.6" height="3" fill="#f0ea80" stroke="#555" stroke-width="0.35"/>
<text x="90.60" y="459.60" font-size="4.7" text-anchor="start" fill="#333" color="#333" font-weight="normal" font-style="normal" style="stroke-width:0.04px">Alphaproteobacteria</text>
<rect x="78.80" y="463.32" width="9.6" height="3" fill="#5a6ab8" stroke="#555" stroke-width="0.35"/>
<text x="90.60" y="466.52" font-size="4.7" fill="#333" style="stroke-width:0.04px"><tspan font-style="italic">Ca.</tspan> Tectomicrobia</text>
<rect x="78.80" y="470.24" width="9.6" height="3" fill="#c030b0" stroke="#555" stroke-width="0.35"/>
<text x="90.60" y="473.44" font-size="4.7" text-anchor="start" fill="#333" color="#333" font-weight="normal" font-style="normal" style="stroke-width:0.04px">Gemmatimonadetes</text>
<rect x="78.80" y="477.16" width="9.6" height="3" fill="#f0e040" stroke="#555" stroke-width="0.35"/>
<text x="90.60" y="480.36" font-size="4.7" text-anchor="start" fill="#333" color="#333" font-weight="normal" font-style="normal" style="stroke-width:0.04px">Euryarchaeota</text>
<rect x="78.80" y="484.08" width="9.6" height="3" fill="#5060c0" stroke="#555" stroke-width="0.35"/>
<text x="90.60" y="487.28" font-size="4.7" fill="#333" style="stroke-width:0.04px"><tspan font-style="italic">Ca.</tspan> Handelsmanbacteria</text>
<rect x="78.80" y="491.00" width="9.6" height="3" fill="#6b6b20" stroke="#555" stroke-width="0.35"/>
<text x="90.60" y="494.20" font-size="4.7" text-anchor="start" fill="#333" color="#333" font-weight="normal" font-style="normal" style="stroke-width:0.04px">Gammaproteobacteria</text>
<rect x="78.80" y="497.92" width="9.6" height="3" fill="#b0d080" stroke="#555" stroke-width="0.35"/>
<text x="90.60" y="501.12" font-size="4.7" text-anchor="start" fill="#333" color="#333" font-weight="normal" font-style="normal" style="stroke-width:0.04px">Firmicutes</text>
<rect x="78.80" y="504.84" width="9.6" height="3" fill="#88d058" stroke="#555" stroke-width="0.35"/>
<text x="90.60" y="508.04" font-size="4.7" text-anchor="start" fill="#333" color="#333" font-weight="normal" font-style="normal" style="stroke-width:0.04px">Ignavibacteria</text>
<rect x="78.80" y="511.76" width="9.6" height="3" fill="#a8e0e0" stroke="#555" stroke-width="0.35"/>
<text x="90.60" y="514.96" font-size="4.7" fill="#333" style="stroke-width:0.04px"><tspan font-style="italic">Ca.</tspan> Sumerlaeota</text>
<rect x="78.80" y="518.68" width="9.6" height="3" fill="#5a6ac0" stroke="#555" stroke-width="0.35"/>
<text x="90.60" y="521.88" font-size="4.7" fill="#333" style="stroke-width:0.04px"><tspan font-style="italic">Ca.</tspan> Dadabacteria</text>
<rect x="78.80" y="525.60" width="9.6" height="3" fill="#a8c0e0" stroke="#555" stroke-width="0.35"/>
<text x="90.60" y="528.80" font-size="4.7" text-anchor="start" fill="#333" color="#333" font-weight="normal" font-style="normal" style="stroke-width:0.04px">Nitrospinae</text>
<rect x="78.80" y="532.52" width="9.6" height="3" fill="#2a3a98" stroke="#555" stroke-width="0.35"/>
<text x="90.60" y="535.72" font-size="4.7" text-anchor="start" fill="#333" color="#333" font-weight="normal" font-style="normal" style="stroke-width:0.04px">Actinobacteria</text>
<rect x="78.80" y="539.44" width="9.6" height="3" fill="#5a7ac8" stroke="#555" stroke-width="0.35"/>
<text x="90.60" y="542.64" font-size="4.7" text-anchor="start" fill="#333" color="#333" font-weight="normal" font-style="normal" style="stroke-width:0.04px">Bacteria</text>
<rect x="155.10" y="456.40" width="9.6" height="3" fill="#7080b8" stroke="#555" stroke-width="0.35"/>
<text x="166.90" y="459.60" font-size="4.7" text-anchor="start" fill="#333" color="#333" font-weight="normal" font-style="normal" style="stroke-width:0.04px">Armatimonadetes</text>
<rect x="155.10" y="463.32" width="9.6" height="3" fill="#c060b0" stroke="#555" stroke-width="0.35"/>
<text x="166.90" y="466.52" font-size="4.7" text-anchor="start" fill="#333" color="#333" font-weight="normal" font-style="normal" style="stroke-width:0.04px">Bathyarchaeota</text>
<rect x="155.10" y="470.24" width="9.6" height="3" fill="#6a8a50" stroke="#555" stroke-width="0.35"/>
<text x="166.90" y="473.44" font-size="4.7" fill="#333" style="stroke-width:0.04px"><tspan font-style="italic">Ca.</tspan> Schekmanbacteria</text>
<rect x="155.10" y="477.16" width="9.6" height="3" fill="#5060c0" stroke="#555" stroke-width="0.35"/>
<text x="166.90" y="480.36" font-size="4.7" fill="#333" style="stroke-width:0.04px"><tspan font-style="italic">Ca.</tspan> Parteibacteria</text>
<rect x="155.10" y="484.08" width="9.6" height="3" fill="#b8e050" stroke="#555" stroke-width="0.35"/>
<text x="166.90" y="487.28" font-size="4.7" text-anchor="start" fill="#333" color="#333" font-weight="normal" font-style="normal" style="stroke-width:0.04px">Verrucomicrobia</text>
<rect x="155.10" y="491.00" width="9.6" height="3" fill="#b0a0e0" stroke="#555" stroke-width="0.35"/>
<text x="166.90" y="494.20" font-size="4.7" text-anchor="start" fill="#333" color="#333" font-weight="normal" font-style="normal" style="stroke-width:0.04px">Fusobacteria</text>
<rect x="155.10" y="497.92" width="9.6" height="3" fill="#4a30a0" stroke="#555" stroke-width="0.35"/>
<text x="166.90" y="501.12" font-size="4.7" text-anchor="start" fill="#333" color="#333" font-weight="normal" font-style="normal" style="stroke-width:0.04px">Elusimicrobia</text>
<rect x="155.10" y="504.84" width="9.6" height="3" fill="#5a6ab8" stroke="#555" stroke-width="0.35"/>
<text x="166.90" y="508.04" font-size="4.7" fill="#333" style="stroke-width:0.04px"><tspan font-style="italic">Ca.</tspan> Lindowbacteria</text>
<rect x="155.10" y="511.76" width="9.6" height="3" fill="#e040a0" stroke="#555" stroke-width="0.35"/>
<text x="166.90" y="514.96" font-size="4.7" fill="#333" style="stroke-width:0.04px"><tspan font-style="italic">Ca.</tspan> Zixibacteria</text>
<rect x="155.10" y="518.68" width="9.6" height="3" fill="#5060c0" stroke="#555" stroke-width="0.35"/>
<text x="166.90" y="521.88" font-size="4.7" fill="#333" style="stroke-width:0.04px"><tspan font-style="italic">Ca.</tspan> Blackallbacteria</text>
<rect x="155.10" y="525.60" width="9.6" height="3" fill="#e0e060" stroke="#555" stroke-width="0.35"/>
<text x="166.90" y="528.80" font-size="4.7" text-anchor="start" fill="#333" color="#333" font-weight="normal" font-style="normal" style="stroke-width:0.04px">Korarchaeota</text>
<rect x="155.10" y="532.52" width="9.6" height="3" fill="#f8e0a0" stroke="#555" stroke-width="0.35"/>
<text x="166.90" y="535.72" font-size="4.7" text-anchor="start" fill="#333" color="#333" font-weight="normal" font-style="normal" style="stroke-width:0.04px">Bacteroidetes</text>
<rect x="155.10" y="539.44" width="9.6" height="3" fill="#60c040" stroke="#555" stroke-width="0.35"/>
<text x="166.90" y="542.64" font-size="4.7" text-anchor="start" fill="#333" color="#333" font-weight="normal" font-style="normal" style="stroke-width:0.04px">Cyanobacteria</text>
<rect x="221.20" y="456.40" width="9.6" height="3" fill="#3a2080" stroke="#555" stroke-width="0.35"/>
<text x="233.00" y="459.60" font-size="4.7" text-anchor="start" fill="#333" color="#333" font-weight="normal" font-style="normal" style="stroke-width:0.04px">Melainabacteria</text>
<rect x="221.20" y="463.32" width="9.6" height="3" fill="#5a6ab8" stroke="#555" stroke-width="0.35"/>
<text x="233.00" y="466.52" font-size="4.7" fill="#333" style="stroke-width:0.04px"><tspan font-style="italic">Ca.</tspan> Eisenbacteria</text>
<rect x="221.20" y="470.24" width="9.6" height="3" fill="#70d0c0" stroke="#555" stroke-width="0.35"/>
<text x="233.00" y="473.44" font-size="4.7" text-anchor="start" fill="#333" color="#333" font-weight="normal" font-style="normal" style="stroke-width:0.04px">TA06</text>
<rect x="221.20" y="477.16" width="9.6" height="3" fill="#5a6ab8" stroke="#555" stroke-width="0.35"/>
<text x="233.00" y="480.36" font-size="4.7" fill="#333" style="stroke-width:0.04px"><tspan font-style="italic">Ca.</tspan> Cloacimonetes</text>
<rect x="221.20" y="484.08" width="9.6" height="3" fill="#706850" stroke="#555" stroke-width="0.35"/>
<text x="233.00" y="487.28" font-size="4.7" fill="#333" style="stroke-width:0.04px"><tspan font-style="italic">Ca.</tspan> Wallbacteria</text>
<rect x="221.20" y="491.00" width="9.6" height="3" fill="#e05070" stroke="#555" stroke-width="0.35"/>
<text x="233.00" y="494.20" font-size="4.7" text-anchor="start" fill="#333" color="#333" font-weight="normal" font-style="normal" style="stroke-width:0.04px">Spirochaetes</text>
<rect x="221.20" y="497.92" width="9.6" height="3" fill="#5a6ab8" stroke="#555" stroke-width="0.35"/>
<text x="233.00" y="501.12" font-size="4.7" fill="#333" style="stroke-width:0.04px"><tspan font-style="italic">Ca.</tspan> Saganbacteria</text>
<rect x="221.20" y="504.84" width="9.6" height="3" fill="#5a6ab8" stroke="#555" stroke-width="0.35"/>
<text x="233.00" y="508.04" font-size="4.7" fill="#333" style="stroke-width:0.04px"><tspan font-style="italic">Ca.</tspan> Margulisbacteria</text>
<rect x="221.20" y="511.76" width="9.6" height="3" fill="#5a6ab8" stroke="#555" stroke-width="0.35"/>
<text x="233.00" y="514.96" font-size="4.7" text-anchor="start" fill="#333" color="#333" font-weight="normal" font-style="normal" style="stroke-width:0.04px">KSB1</text>
<rect x="221.20" y="518.68" width="9.6" height="3" fill="#f0c8f0" stroke="#555" stroke-width="0.35"/>
<text x="233.00" y="521.88" font-size="4.7" text-anchor="start" fill="#333" color="#333" font-weight="normal" font-style="normal" style="stroke-width:0.04px">Deinococcus–Thermus</text>
<rect x="221.20" y="525.60" width="9.6" height="3" fill="#5a6ab8" stroke="#555" stroke-width="0.35"/>
<text x="233.00" y="528.80" font-size="4.7" fill="#333" style="stroke-width:0.04px"><tspan font-style="italic">Ca.</tspan> Absconditabacteria</text>
<rect x="221.20" y="532.52" width="9.6" height="3" fill="#5a6ab8" stroke="#555" stroke-width="0.35"/>
<text x="233.00" y="535.72" font-size="4.7" fill="#333" style="stroke-width:0.04px"><tspan font-style="italic">Ca.</tspan> Desantisbacteria</text>
<rect x="221.20" y="539.44" width="9.6" height="3" fill="#5a6ab8" stroke="#555" stroke-width="0.35"/>
<text x="233.00" y="542.64" font-size="4.7" fill="#333" style="stroke-width:0.04px"><tspan font-style="italic">Ca.</tspan> Stahlbacteria</text>
<rect x="295.20" y="456.40" width="9.6" height="3" fill="#e89040" stroke="#555" stroke-width="0.35"/>
<text x="307.00" y="459.60" font-size="4.7" fill="#333" style="stroke-width:0.04px"><tspan font-style="italic">Ca.</tspan> Acetothermia</text>
<rect x="295.20" y="463.32" width="9.6" height="3" fill="#5a6ab8" stroke="#555" stroke-width="0.35"/>
<text x="307.00" y="466.52" font-size="4.7" text-anchor="start" fill="#333" color="#333" font-weight="normal" font-style="normal" style="stroke-width:0.04px">Lambdaproteobacteria</text>
<rect x="295.20" y="470.24" width="9.6" height="3" fill="#5a6ab8" stroke="#555" stroke-width="0.35"/>
<text x="307.00" y="473.44" font-size="4.7" text-anchor="start" fill="#333" color="#333" font-weight="normal" font-style="normal" style="stroke-width:0.04px">Epsilonproteobacteria</text>
<rect x="295.20" y="477.16" width="9.6" height="3" fill="#1a7a1a" stroke="#555" stroke-width="0.35"/>
<text x="307.00" y="480.36" font-size="4.7" text-anchor="start" fill="#333" color="#333" font-weight="normal" font-style="normal" style="stroke-width:0.04px">Lentisphaerae</text>
<rect x="295.20" y="484.08" width="9.6" height="3" fill="#f0f020" stroke="#555" stroke-width="0.35"/>
<text x="307.00" y="487.28" font-size="4.7" fill="#333" style="stroke-width:0.04px"><tspan font-style="italic">Ca.</tspan> Hydrogenedentes</text>
<rect x="295.20" y="491.00" width="9.6" height="3" fill="#5a6ab8" stroke="#555" stroke-width="0.35"/>
<text x="307.00" y="494.20" font-size="4.7" fill="#333" style="stroke-width:0.04px"><tspan font-style="italic">Ca.</tspan> Latescibacteria</text>
<rect x="295.20" y="497.92" width="9.6" height="3" fill="#5a6ab8" stroke="#555" stroke-width="0.35"/>
<text x="307.00" y="501.12" font-size="4.7" fill="#333" style="stroke-width:0.04px"><tspan font-style="italic">Ca.</tspan> Riflebacteria</text>
<rect x="295.20" y="504.84" width="9.6" height="3" fill="#5a6ab8" stroke="#555" stroke-width="0.35"/>
<text x="307.00" y="508.04" font-size="4.7" fill="#333" style="stroke-width:0.04px"><tspan font-style="italic">Ca.</tspan> Dependentiae</text>
<rect x="295.20" y="511.76" width="9.6" height="3" fill="#e03020" stroke="#555" stroke-width="0.35"/>
<text x="307.00" y="514.96" font-size="4.7" text-anchor="start" fill="#333" color="#333" font-weight="normal" font-style="normal" style="stroke-width:0.04px">Chlamydiae</text>
<rect x="295.20" y="518.68" width="9.6" height="3" fill="#5a6ab8" stroke="#555" stroke-width="0.35"/>
<text x="307.00" y="521.88" font-size="4.7" text-anchor="start" fill="#333" color="#333" font-weight="normal" font-style="normal" style="stroke-width:0.04px">Oligoflexia</text>
<rect x="295.20" y="525.60" width="9.6" height="3" fill="#5a6ab8" stroke="#555" stroke-width="0.35"/>
<text x="307.00" y="528.80" font-size="4.7" fill="#333" style="stroke-width:0.04px"><tspan font-style="italic">Ca.</tspan> Coatesbacteria</text>
<rect x="295.20" y="532.52" width="9.6" height="3" fill="#f0d0a8" stroke="#555" stroke-width="0.35"/>
<text x="307.00" y="535.72" font-size="4.7" fill="#333" style="stroke-width:0.04px"><tspan font-style="italic">Ca.</tspan> Abawacabacteria</text>
<text x="367.60" y="5.40" font-size="9.5" text-anchor="start" fill="#000" color="#000" font-weight="bold" font-style="normal" >c</text>
<line x1="387.40" y1="6.50" x2="521.80" y2="6.50" stroke="#c8c8c8" stroke-width="0.8"/>
<line x1="521.80" y1="6.50" x2="521.80" y2="60.90" stroke="#c8c8c8" stroke-width="0.8"/>
<line x1="387.40" y1="6.50" x2="387.40" y2="60.90" stroke="#bbb" stroke-width="0.6"/>
<rect x="387.91" y="8.74" width="4.28" height="52.16" fill="#6aa6d8" stroke="#222" stroke-width="0.45"/>
<rect x="392.19" y="43.42" width="4.28" height="17.48" fill="#68ccc0" stroke="#222" stroke-width="0.45"/>
<rect x="396.48" y="47.57" width="4.28" height="13.33" fill="#6aa6d8" stroke="#222" stroke-width="0.45"/>
<rect x="400.76" y="49.61" width="4.28" height="11.29" fill="#9b3aad" stroke="#222" stroke-width="0.45"/>
<rect x="405.04" y="49.61" width="4.28" height="11.29" fill="#e03025" stroke="#222" stroke-width="0.45"/>
<rect x="409.32" y="50.22" width="4.28" height="10.68" fill="#68ccc0" stroke="#222" stroke-width="0.45"/>
<rect x="413.61" y="51.24" width="4.28" height="9.66" fill="#b8b040" stroke="#222" stroke-width="0.45"/>
<rect x="417.89" y="51.65" width="4.28" height="9.25" fill="#c8c060" stroke="#222" stroke-width="0.45"/>
<rect x="422.17" y="52.47" width="4.28" height="8.43" fill="#e03025" stroke="#222" stroke-width="0.45"/>
<rect x="426.46" y="52.88" width="4.28" height="8.02" fill="#68ccc0" stroke="#222" stroke-width="0.45"/>
<rect x="430.74" y="53.08" width="4.28" height="7.82" fill="#68ccc0" stroke="#222" stroke-width="0.45"/>
<rect x="435.02" y="53.49" width="4.28" height="7.41" fill="#28a0a8" stroke="#222" stroke-width="0.45"/>
<rect x="439.31" y="54.51" width="4.28" height="6.39" fill="#d0d0d0" stroke="#222" stroke-width="0.45"/>
<rect x="443.59" y="55.80" width="4.28" height="5.10" fill="#d0d0d0" stroke="#222" stroke-width="0.45"/>
<rect x="447.87" y="56.21" width="4.28" height="4.69" fill="#e8861a" stroke="#222" stroke-width="0.45"/>
<rect x="447.87" y="56.21" width="4.28" height="4.69" fill="url(#hatch)" stroke="#222" stroke-width="0.45"/>
<rect x="452.15" y="56.28" width="4.28" height="4.62" fill="#68ccc0" stroke="#222" stroke-width="0.45"/>
<rect x="452.15" y="56.28" width="4.28" height="4.62" fill="url(#hatch)" stroke="#222" stroke-width="0.45"/>
<rect x="456.44" y="56.34" width="4.28" height="4.56" fill="#68ccc0" stroke="#222" stroke-width="0.45"/>
<rect x="460.72" y="56.41" width="4.28" height="4.49" fill="#9b3aad" stroke="#222" stroke-width="0.45"/>
<rect x="465.00" y="56.41" width="4.28" height="4.49" fill="#c8c060" stroke="#222" stroke-width="0.45"/>
<rect x="469.29" y="56.48" width="4.28" height="4.42" fill="#6aa6d8" stroke="#222" stroke-width="0.45"/>
<rect x="473.57" y="56.55" width="4.28" height="4.35" fill="#e8861a" stroke="#222" stroke-width="0.45"/>
<rect x="477.85" y="56.55" width="4.28" height="4.35" fill="#e8861a" stroke="#222" stroke-width="0.45"/>
<rect x="477.85" y="56.55" width="4.28" height="4.35" fill="url(#hatch)" stroke="#222" stroke-width="0.45"/>
<rect x="482.14" y="56.62" width="4.28" height="4.28" fill="#e8861a" stroke="#222" stroke-width="0.45"/>
<rect x="486.42" y="56.68" width="4.28" height="4.22" fill="#9b3aad" stroke="#222" stroke-width="0.45"/>
<rect x="490.70" y="56.68" width="4.28" height="4.22" fill="#9b3aad" stroke="#222" stroke-width="0.45"/>
<rect x="490.70" y="56.68" width="4.28" height="4.22" fill="url(#hatch)" stroke="#222" stroke-width="0.45"/>
<rect x="494.98" y="56.75" width="4.28" height="4.15" fill="#d0d0d0" stroke="#222" stroke-width="0.45"/>
<rect x="499.27" y="56.82" width="4.28" height="4.08" fill="#9b3aad" stroke="#222" stroke-width="0.45"/>
<rect x="503.55" y="56.82" width="4.28" height="4.08" fill="#d0d0d0" stroke="#222" stroke-width="0.45"/>
<rect x="507.83" y="56.89" width="4.28" height="4.01" fill="#6b6b20" stroke="#222" stroke-width="0.45"/>
<rect x="512.12" y="56.96" width="4.28" height="3.94" fill="#9b3aad" stroke="#222" stroke-width="0.45"/>
<rect x="516.40" y="56.96" width="4.28" height="3.94" fill="#88e0a8" stroke="#222" stroke-width="0.45"/>
<line x1="387.40" y1="60.90" x2="521.80" y2="60.90" stroke="#777" stroke-width="0.7"/>
<line x1="386.00" y1="60.90" x2="387.40" y2="60.90" stroke="#888" stroke-width="0.5"/>
<text x="384.80" y="63.00" font-size="6" text-anchor="end" fill="#222" color="#222" font-weight="normal" font-style="normal" >0</text>
<line x1="386.00" y1="47.30" x2="387.40" y2="47.30" stroke="#888" stroke-width="0.5"/>
<text x="384.80" y="49.40" font-size="6" text-anchor="end" fill="#222" color="#222" font-weight="normal" font-style="normal" >2</text>
<line x1="386.00" y1="33.70" x2="387.40" y2="33.70" stroke="#888" stroke-width="0.5"/>
<text x="384.80" y="35.80" font-size="6" text-anchor="end" fill="#222" color="#222" font-weight="normal" font-style="normal" >4</text>
<line x1="386.00" y1="20.10" x2="387.40" y2="20.10" stroke="#888" stroke-width="0.5"/>
<text x="384.80" y="22.20" font-size="6" text-anchor="end" fill="#222" color="#222" font-weight="normal" font-style="normal" >6</text>
<line x1="386.00" y1="6.50" x2="387.40" y2="6.50" stroke="#888" stroke-width="0.5"/>
<text x="384.80" y="8.60" font-size="6" text-anchor="end" fill="#222" color="#222" font-weight="normal" font-style="normal" >8</text>
<line x1="390.05" y1="60.90" x2="390.05" y2="62.40" stroke="#888" stroke-width="0.5"/>
<text x="390.05" y="69.70" font-size="6" text-anchor="middle" fill="#222" color="#222" font-weight="normal" font-style="normal" >0</text>
<line x1="411.46" y1="60.90" x2="411.46" y2="62.40" stroke="#888" stroke-width="0.5"/>
<text x="411.46" y="69.70" font-size="6" text-anchor="middle" fill="#222" color="#222" font-weight="normal" font-style="normal" >5</text>
<line x1="432.88" y1="60.90" x2="432.88" y2="62.40" stroke="#888" stroke-width="0.5"/>
<text x="432.88" y="69.70" font-size="6" text-anchor="middle" fill="#222" color="#222" font-weight="normal" font-style="normal" >10</text>
<line x1="454.29" y1="60.90" x2="454.29" y2="62.40" stroke="#888" stroke-width="0.5"/>
<text x="454.29" y="69.70" font-size="6" text-anchor="middle" fill="#222" color="#222" font-weight="normal" font-style="normal" >15</text>
<line x1="475.71" y1="60.90" x2="475.71" y2="62.40" stroke="#888" stroke-width="0.5"/>
<text x="475.71" y="69.70" font-size="6" text-anchor="middle" fill="#222" color="#222" font-weight="normal" font-style="normal" >20</text>
<line x1="497.12" y1="60.90" x2="497.12" y2="62.40" stroke="#888" stroke-width="0.5"/>
<text x="497.12" y="69.70" font-size="6" text-anchor="middle" fill="#222" color="#222" font-weight="normal" font-style="normal" >25</text>
<line x1="518.54" y1="60.90" x2="518.54" y2="62.40" stroke="#888" stroke-width="0.5"/>
<text x="518.54" y="69.70" font-size="6" text-anchor="middle" fill="#222" color="#222" font-weight="normal" font-style="normal" >30</text>
<text x="454.60" y="80.50" font-size="6" text-anchor="middle" fill="#222" color="#222" font-weight="normal" font-style="normal" >Abundance rank</text>
<text x="373.90" y="33.70" font-size="6" text-anchor="middle" fill="#222" transform="rotate(-90 373.90 33.70)">Total coverage (%)</text>
<text x="460.90" y="17.80" font-size="6" text-anchor="middle" fill="#222" color="#222" font-weight="normal" font-style="normal" >Ag (Mar 2017)</text>
<text x="460.00" y="24.80" font-size="6" text-anchor="middle" fill="#222" color="#222" font-weight="normal" font-style="normal" >17% CPR, 16% DPANN</text>
<line x1="550.10" y1="6.50" x2="684.50" y2="6.50" stroke="#c8c8c8" stroke-width="0.8"/>
<line x1="684.50" y1="6.50" x2="684.50" y2="60.90" stroke="#c8c8c8" stroke-width="0.8"/>
<line x1="550.10" y1="6.50" x2="550.10" y2="60.90" stroke="#bbb" stroke-width="0.6"/>
<rect x="550.61" y="17.79" width="4.28" height="43.11" fill="#6aa6d8" stroke="#222" stroke-width="0.45"/>
<rect x="554.89" y="22.62" width="4.28" height="38.28" fill="#6aa6d8" stroke="#222" stroke-width="0.45"/>
<rect x="554.89" y="22.62" width="4.28" height="38.28" fill="url(#hatch)" stroke="#222" stroke-width="0.45"/>
<rect x="559.18" y="25.47" width="4.28" height="35.43" fill="#9b3aad" stroke="#222" stroke-width="0.45"/>
<rect x="563.46" y="34.52" width="4.28" height="26.38" fill="#9b3aad" stroke="#222" stroke-width="0.45"/>
<rect x="567.74" y="39.75" width="4.28" height="21.15" fill="#68ccc0" stroke="#222" stroke-width="0.45"/>
<rect x="572.02" y="47.78" width="4.28" height="13.12" fill="#e03025" stroke="#222" stroke-width="0.45"/>
<rect x="576.31" y="50.84" width="4.28" height="10.06" fill="#68ccc0" stroke="#222" stroke-width="0.45"/>
<rect x="580.59" y="52.06" width="4.28" height="8.84" fill="#68ccc0" stroke="#222" stroke-width="0.45"/>
<rect x="584.87" y="52.06" width="4.28" height="8.84" fill="#e03025" stroke="#222" stroke-width="0.45"/>
<rect x="589.16" y="52.47" width="4.28" height="8.43" fill="#9b3aad" stroke="#222" stroke-width="0.45"/>
<rect x="589.16" y="52.47" width="4.28" height="8.43" fill="url(#hatch)" stroke="#222" stroke-width="0.45"/>
<rect x="593.44" y="53.83" width="4.28" height="7.07" fill="#9b3aad" stroke="#222" stroke-width="0.45"/>
<rect x="597.72" y="54.44" width="4.28" height="6.46" fill="#9b3aad" stroke="#222" stroke-width="0.45"/>
<rect x="602.01" y="54.64" width="4.28" height="6.26" fill="#9b3aad" stroke="#222" stroke-width="0.45"/>
<rect x="606.29" y="55.05" width="4.28" height="5.85" fill="#a8a030" stroke="#222" stroke-width="0.45"/>
<rect x="610.57" y="55.05" width="4.28" height="5.85" fill="#9b3aad" stroke="#222" stroke-width="0.45"/>
<rect x="610.57" y="55.05" width="4.28" height="5.85" fill="url(#hatch)" stroke="#222" stroke-width="0.45"/>
<rect x="614.86" y="55.46" width="4.28" height="5.44" fill="#9b3aad" stroke="#222" stroke-width="0.45"/>
<rect x="619.14" y="55.46" width="4.28" height="5.44" fill="#9b3aad" stroke="#222" stroke-width="0.45"/>
<rect x="623.42" y="55.87" width="4.28" height="5.03" fill="#c8c060" stroke="#222" stroke-width="0.45"/>
<rect x="623.42" y="55.87" width="4.28" height="5.03" fill="url(#hatch)" stroke="#222" stroke-width="0.45"/>
<rect x="627.70" y="55.87" width="4.28" height="5.03" fill="#68ccc0" stroke="#222" stroke-width="0.45"/>
<rect x="631.99" y="56.48" width="4.28" height="4.42" fill="#9b3aad" stroke="#222" stroke-width="0.45"/>
<rect x="636.27" y="56.82" width="4.28" height="4.08" fill="#68ccc0" stroke="#222" stroke-width="0.45"/>
<rect x="640.55" y="57.30" width="4.28" height="3.60" fill="#9b3aad" stroke="#222" stroke-width="0.45"/>
<rect x="644.84" y="57.30" width="4.28" height="3.60" fill="#68ccc0" stroke="#222" stroke-width="0.45"/>
<rect x="649.12" y="57.30" width="4.28" height="3.60" fill="#68ccc0" stroke="#222" stroke-width="0.45"/>
<rect x="653.40" y="57.50" width="4.28" height="3.40" fill="#9b3aad" stroke="#222" stroke-width="0.45"/>
<rect x="657.69" y="57.50" width="4.28" height="3.40" fill="#68ccc0" stroke="#222" stroke-width="0.45"/>
<rect x="661.97" y="57.70" width="4.28" height="3.20" fill="#c8c060" stroke="#222" stroke-width="0.45"/>
<rect x="666.25" y="57.70" width="4.28" height="3.20" fill="#68ccc0" stroke="#222" stroke-width="0.45"/>
<rect x="670.53" y="57.70" width="4.28" height="3.20" fill="#6aa6d8" stroke="#222" stroke-width="0.45"/>
<rect x="674.82" y="57.91" width="4.28" height="2.99" fill="#d0d0d0" stroke="#222" stroke-width="0.45"/>
<rect x="679.10" y="57.91" width="4.28" height="2.99" fill="#9b3aad" stroke="#222" stroke-width="0.45"/>
<rect x="679.10" y="57.91" width="4.28" height="2.99" fill="url(#hatch)" stroke="#222" stroke-width="0.45"/>
<line x1="550.10" y1="60.90" x2="684.50" y2="60.90" stroke="#777" stroke-width="0.7"/>
<line x1="548.70" y1="60.90" x2="550.10" y2="60.90" stroke="#888" stroke-width="0.5"/>
<text x="547.50" y="63.00" font-size="6" text-anchor="end" fill="#222" color="#222" font-weight="normal" font-style="normal" >0</text>
<line x1="548.70" y1="47.30" x2="550.10" y2="47.30" stroke="#888" stroke-width="0.5"/>
<text x="547.50" y="49.40" font-size="6" text-anchor="end" fill="#222" color="#222" font-weight="normal" font-style="normal" >2</text>
<line x1="548.70" y1="33.70" x2="550.10" y2="33.70" stroke="#888" stroke-width="0.5"/>
<text x="547.50" y="35.80" font-size="6" text-anchor="end" fill="#222" color="#222" font-weight="normal" font-style="normal" >4</text>
<line x1="548.70" y1="20.10" x2="550.10" y2="20.10" stroke="#888" stroke-width="0.5"/>
<text x="547.50" y="22.20" font-size="6" text-anchor="end" fill="#222" color="#222" font-weight="normal" font-style="normal" >6</text>
<line x1="548.70" y1="6.50" x2="550.10" y2="6.50" stroke="#888" stroke-width="0.5"/>
<text x="547.50" y="8.60" font-size="6" text-anchor="end" fill="#222" color="#222" font-weight="normal" font-style="normal" >8</text>
<line x1="552.75" y1="60.90" x2="552.75" y2="62.40" stroke="#888" stroke-width="0.5"/>
<text x="552.75" y="69.70" font-size="6" text-anchor="middle" fill="#222" color="#222" font-weight="normal" font-style="normal" >0</text>
<line x1="574.16" y1="60.90" x2="574.16" y2="62.40" stroke="#888" stroke-width="0.5"/>
<text x="574.16" y="69.70" font-size="6" text-anchor="middle" fill="#222" color="#222" font-weight="normal" font-style="normal" >5</text>
<line x1="595.58" y1="60.90" x2="595.58" y2="62.40" stroke="#888" stroke-width="0.5"/>
<text x="595.58" y="69.70" font-size="6" text-anchor="middle" fill="#222" color="#222" font-weight="normal" font-style="normal" >10</text>
<line x1="617.00" y1="60.90" x2="617.00" y2="62.40" stroke="#888" stroke-width="0.5"/>
<text x="617.00" y="69.70" font-size="6" text-anchor="middle" fill="#222" color="#222" font-weight="normal" font-style="normal" >15</text>
<line x1="638.41" y1="60.90" x2="638.41" y2="62.40" stroke="#888" stroke-width="0.5"/>
<text x="638.41" y="69.70" font-size="6" text-anchor="middle" fill="#222" color="#222" font-weight="normal" font-style="normal" >20</text>
<line x1="659.83" y1="60.90" x2="659.83" y2="62.40" stroke="#888" stroke-width="0.5"/>
<text x="659.83" y="69.70" font-size="6" text-anchor="middle" fill="#222" color="#222" font-weight="normal" font-style="normal" >25</text>
<line x1="681.24" y1="60.90" x2="681.24" y2="62.40" stroke="#888" stroke-width="0.5"/>
<text x="681.24" y="69.70" font-size="6" text-anchor="middle" fill="#222" color="#222" font-weight="normal" font-style="normal" >30</text>
<text x="617.30" y="80.50" font-size="6" text-anchor="middle" fill="#222" color="#222" font-weight="normal" font-style="normal" >Abundance rank</text>
<text x="536.60" y="33.70" font-size="6" text-anchor="middle" fill="#222" transform="rotate(-90 536.60 33.70)">Total coverage (%)</text>
<text x="625.50" y="17.80" font-size="6" text-anchor="middle" fill="#222" color="#222" font-weight="normal" font-style="normal" >Ag (Sep 2017)</text>
<text x="624.70" y="24.80" font-size="6" text-anchor="middle" fill="#222" color="#222" font-weight="normal" font-style="normal" >37% CPR, 24% DPANN</text>
<line x1="387.40" y1="84.30" x2="521.80" y2="84.30" stroke="#c8c8c8" stroke-width="0.8"/>
<line x1="521.80" y1="84.30" x2="521.80" y2="138.50" stroke="#c8c8c8" stroke-width="0.8"/>
<line x1="387.40" y1="84.30" x2="387.40" y2="138.50" stroke="#bbb" stroke-width="0.6"/>
<rect x="387.91" y="89.38" width="4.28" height="49.12" fill="#6aa6d8" stroke="#222" stroke-width="0.45"/>
<rect x="392.19" y="96.16" width="4.28" height="42.34" fill="#6aa6d8" stroke="#222" stroke-width="0.45"/>
<rect x="396.48" y="107.40" width="4.28" height="31.10" fill="#9b3aad" stroke="#222" stroke-width="0.45"/>
<rect x="400.76" y="118.45" width="4.28" height="20.05" fill="#9b3aad" stroke="#222" stroke-width="0.45"/>
<rect x="405.04" y="121.09" width="4.28" height="17.41" fill="#68ccc0" stroke="#222" stroke-width="0.45"/>
<rect x="409.32" y="124.61" width="4.28" height="13.89" fill="#9b3aad" stroke="#222" stroke-width="0.45"/>
<rect x="413.61" y="125.63" width="4.28" height="12.87" fill="#e03025" stroke="#222" stroke-width="0.45"/>
<rect x="417.89" y="125.63" width="4.28" height="12.87" fill="#68ccc0" stroke="#222" stroke-width="0.45"/>
<rect x="422.17" y="128.88" width="4.28" height="9.62" fill="#e03025" stroke="#222" stroke-width="0.45"/>
<rect x="426.46" y="129.29" width="4.28" height="9.21" fill="#9b3aad" stroke="#222" stroke-width="0.45"/>
<rect x="426.46" y="129.29" width="4.28" height="9.21" fill="url(#hatch)" stroke="#222" stroke-width="0.45"/>
<rect x="430.74" y="131.52" width="4.28" height="6.98" fill="#9b3aad" stroke="#222" stroke-width="0.45"/>
<rect x="435.02" y="131.52" width="4.28" height="6.98" fill="#9b3aad" stroke="#222" stroke-width="0.45"/>
<rect x="439.31" y="131.72" width="4.28" height="6.78" fill="#9b3aad" stroke="#222" stroke-width="0.45"/>
<rect x="443.59" y="132.54" width="4.28" height="5.96" fill="#6aa6d8" stroke="#222" stroke-width="0.45"/>
<rect x="447.87" y="132.54" width="4.28" height="5.96" fill="#9b3aad" stroke="#222" stroke-width="0.45"/>
<rect x="452.15" y="132.94" width="4.28" height="5.56" fill="#68ccc0" stroke="#222" stroke-width="0.45"/>
<rect x="456.44" y="132.94" width="4.28" height="5.56" fill="#28a0a8" stroke="#222" stroke-width="0.45"/>
<rect x="460.72" y="133.35" width="4.28" height="5.15" fill="#9b3aad" stroke="#222" stroke-width="0.45"/>
<rect x="465.00" y="133.76" width="4.28" height="4.74" fill="#9b3aad" stroke="#222" stroke-width="0.45"/>
<rect x="465.00" y="133.76" width="4.28" height="4.74" fill="url(#hatch)" stroke="#222" stroke-width="0.45"/>
<rect x="469.29" y="133.76" width="4.28" height="4.74" fill="#9b3aad" stroke="#222" stroke-width="0.45"/>
<rect x="469.29" y="133.76" width="4.28" height="4.74" fill="url(#hatch)" stroke="#222" stroke-width="0.45"/>
<rect x="473.57" y="133.96" width="4.28" height="4.54" fill="#9b3aad" stroke="#222" stroke-width="0.45"/>
<rect x="477.85" y="133.96" width="4.28" height="4.54" fill="#a8a030" stroke="#222" stroke-width="0.45"/>
<rect x="482.14" y="133.96" width="4.28" height="4.54" fill="#a8a030" stroke="#222" stroke-width="0.45"/>
<rect x="486.42" y="134.16" width="4.28" height="4.34" fill="#9b3aad" stroke="#222" stroke-width="0.45"/>
<rect x="490.70" y="134.16" width="4.28" height="4.34" fill="#c8c060" stroke="#222" stroke-width="0.45"/>
<rect x="494.98" y="134.44" width="4.28" height="4.06" fill="#68ccc0" stroke="#222" stroke-width="0.45"/>
<rect x="499.27" y="134.44" width="4.28" height="4.06" fill="#68ccc0" stroke="#222" stroke-width="0.45"/>
<rect x="503.55" y="134.64" width="4.28" height="3.86" fill="#9b3aad" stroke="#222" stroke-width="0.45"/>
<rect x="507.83" y="134.64" width="4.28" height="3.86" fill="#9b3aad" stroke="#222" stroke-width="0.45"/>
<rect x="512.12" y="134.64" width="4.28" height="3.86" fill="#a8a030" stroke="#222" stroke-width="0.45"/>
<rect x="516.40" y="134.64" width="4.28" height="3.86" fill="#c8c060" stroke="#222" stroke-width="0.45"/>
<line x1="387.40" y1="138.50" x2="521.80" y2="138.50" stroke="#777" stroke-width="0.7"/>
<line x1="386.00" y1="138.50" x2="387.40" y2="138.50" stroke="#888" stroke-width="0.5"/>
<text x="384.80" y="140.60" font-size="6" text-anchor="end" fill="#222" color="#222" font-weight="normal" font-style="normal" >0</text>
<line x1="386.00" y1="124.95" x2="387.40" y2="124.95" stroke="#888" stroke-width="0.5"/>
<text x="384.80" y="127.05" font-size="6" text-anchor="end" fill="#222" color="#222" font-weight="normal" font-style="normal" >2</text>
<line x1="386.00" y1="111.40" x2="387.40" y2="111.40" stroke="#888" stroke-width="0.5"/>
<text x="384.80" y="113.50" font-size="6" text-anchor="end" fill="#222" color="#222" font-weight="normal" font-style="normal" >4</text>
<line x1="386.00" y1="97.85" x2="387.40" y2="97.85" stroke="#888" stroke-width="0.5"/>
<text x="384.80" y="99.95" font-size="6" text-anchor="end" fill="#222" color="#222" font-weight="normal" font-style="normal" >6</text>
<line x1="386.00" y1="84.30" x2="387.40" y2="84.30" stroke="#888" stroke-width="0.5"/>
<text x="384.80" y="86.40" font-size="6" text-anchor="end" fill="#222" color="#222" font-weight="normal" font-style="normal" >8</text>
<line x1="390.05" y1="138.50" x2="390.05" y2="140.00" stroke="#888" stroke-width="0.5"/>
<text x="390.05" y="147.30" font-size="6" text-anchor="middle" fill="#222" color="#222" font-weight="normal" font-style="normal" >0</text>
<line x1="411.46" y1="138.50" x2="411.46" y2="140.00" stroke="#888" stroke-width="0.5"/>
<text x="411.46" y="147.30" font-size="6" text-anchor="middle" fill="#222" color="#222" font-weight="normal" font-style="normal" >5</text>
<line x1="432.88" y1="138.50" x2="432.88" y2="140.00" stroke="#888" stroke-width="0.5"/>
<text x="432.88" y="147.30" font-size="6" text-anchor="middle" fill="#222" color="#222" font-weight="normal" font-style="normal" >10</text>
<line x1="454.29" y1="138.50" x2="454.29" y2="140.00" stroke="#888" stroke-width="0.5"/>
<text x="454.29" y="147.30" font-size="6" text-anchor="middle" fill="#222" color="#222" font-weight="normal" font-style="normal" >15</text>
<line x1="475.71" y1="138.50" x2="475.71" y2="140.00" stroke="#888" stroke-width="0.5"/>
<text x="475.71" y="147.30" font-size="6" text-anchor="middle" fill="#222" color="#222" font-weight="normal" font-style="normal" >20</text>
<line x1="497.12" y1="138.50" x2="497.12" y2="140.00" stroke="#888" stroke-width="0.5"/>
<text x="497.12" y="147.30" font-size="6" text-anchor="middle" fill="#222" color="#222" font-weight="normal" font-style="normal" >25</text>
<line x1="518.54" y1="138.50" x2="518.54" y2="140.00" stroke="#888" stroke-width="0.5"/>
<text x="518.54" y="147.30" font-size="6" text-anchor="middle" fill="#222" color="#222" font-weight="normal" font-style="normal" >30</text>
<text x="454.60" y="158.10" font-size="6" text-anchor="middle" fill="#222" color="#222" font-weight="normal" font-style="normal" >Abundance rank</text>
<text x="373.90" y="111.40" font-size="6" text-anchor="middle" fill="#222" transform="rotate(-90 373.90 111.40)">Total coverage (%)</text>
<text x="460.60" y="95.60" font-size="6" text-anchor="middle" fill="#222" color="#222" font-weight="normal" font-style="normal" >Ag (Nov 2017)</text>
<text x="459.70" y="102.60" font-size="6" text-anchor="middle" fill="#222" color="#222" font-weight="normal" font-style="normal" >40% CPR, 19% DPANN</text>
<line x1="550.10" y1="84.30" x2="684.50" y2="84.30" stroke="#c8c8c8" stroke-width="0.8"/>
<line x1="684.50" y1="84.30" x2="684.50" y2="138.50" stroke="#c8c8c8" stroke-width="0.8"/>
<line x1="550.10" y1="84.30" x2="550.10" y2="138.50" stroke="#bbb" stroke-width="0.6"/>
<rect x="550.61" y="84.30" width="4.28" height="54.20" fill="#6aa6d8" stroke="#222" stroke-width="0.45"/>
<rect x="554.89" y="115.60" width="4.28" height="22.90" fill="#9b3aad" stroke="#222" stroke-width="0.45"/>
<rect x="559.18" y="118.78" width="4.28" height="19.72" fill="#9b3aad" stroke="#222" stroke-width="0.45"/>
<rect x="563.46" y="121.56" width="4.28" height="16.94" fill="#68ccc0" stroke="#222" stroke-width="0.45"/>
<rect x="567.74" y="124.54" width="4.28" height="13.96" fill="#9b3aad" stroke="#222" stroke-width="0.45"/>
<rect x="572.02" y="126.17" width="4.28" height="12.33" fill="#68ccc0" stroke="#222" stroke-width="0.45"/>
<rect x="576.31" y="128.54" width="4.28" height="9.96" fill="#e03025" stroke="#222" stroke-width="0.45"/>
<rect x="580.59" y="129.15" width="4.28" height="9.35" fill="#e03025" stroke="#222" stroke-width="0.45"/>
<rect x="584.87" y="130.51" width="4.28" height="7.99" fill="#9b3aad" stroke="#222" stroke-width="0.45"/>
<rect x="589.16" y="130.51" width="4.28" height="7.99" fill="#9b3aad" stroke="#222" stroke-width="0.45"/>
<rect x="593.44" y="130.71" width="4.28" height="7.79" fill="#6aa6d8" stroke="#222" stroke-width="0.45"/>
<rect x="597.72" y="131.32" width="4.28" height="7.18" fill="#9b3aad" stroke="#222" stroke-width="0.45"/>
<rect x="602.01" y="131.72" width="4.28" height="6.78" fill="#9b3aad" stroke="#222" stroke-width="0.45"/>
<rect x="606.29" y="132.74" width="4.28" height="5.76" fill="#68ccc0" stroke="#222" stroke-width="0.45"/>
<rect x="610.57" y="133.15" width="4.28" height="5.35" fill="#9b3aad" stroke="#222" stroke-width="0.45"/>
<rect x="614.86" y="133.35" width="4.28" height="5.15" fill="#68ccc0" stroke="#222" stroke-width="0.45"/>
<rect x="619.14" y="133.35" width="4.28" height="5.15" fill="#a8a030" stroke="#222" stroke-width="0.45"/>
<rect x="623.42" y="133.35" width="4.28" height="5.15" fill="#a8a030" stroke="#222" stroke-width="0.45"/>
<rect x="627.70" y="133.49" width="4.28" height="5.01" fill="#68ccc0" stroke="#222" stroke-width="0.45"/>
<rect x="627.70" y="133.49" width="4.28" height="5.01" fill="url(#hatch)" stroke="#222" stroke-width="0.45"/>
<rect x="631.99" y="133.76" width="4.28" height="4.74" fill="#9b3aad" stroke="#222" stroke-width="0.45"/>
<rect x="636.27" y="133.76" width="4.28" height="4.74" fill="#68ccc0" stroke="#222" stroke-width="0.45"/>
<rect x="640.55" y="133.89" width="4.28" height="4.61" fill="#9b3aad" stroke="#222" stroke-width="0.45"/>
<rect x="644.84" y="133.89" width="4.28" height="4.61" fill="#28a0a8" stroke="#222" stroke-width="0.45"/>
<rect x="649.12" y="134.10" width="4.28" height="4.40" fill="#6aa6d8" stroke="#222" stroke-width="0.45"/>
<rect x="653.40" y="134.10" width="4.28" height="4.40" fill="#9b3aad" stroke="#222" stroke-width="0.45"/>
<rect x="653.40" y="134.10" width="4.28" height="4.40" fill="url(#hatch)" stroke="#222" stroke-width="0.45"/>
<rect x="657.69" y="134.30" width="4.28" height="4.20" fill="#68ccc0" stroke="#222" stroke-width="0.45"/>
<rect x="661.97" y="134.30" width="4.28" height="4.20" fill="#9b3aad" stroke="#222" stroke-width="0.45"/>
<rect x="666.25" y="134.30" width="4.28" height="4.20" fill="#9b3aad" stroke="#222" stroke-width="0.45"/>
<rect x="670.53" y="134.30" width="4.28" height="4.20" fill="#9b3aad" stroke="#222" stroke-width="0.45"/>
<rect x="674.82" y="134.50" width="4.28" height="4.00" fill="#e8861a" stroke="#222" stroke-width="0.45"/>
<rect x="674.82" y="134.50" width="4.28" height="4.00" fill="url(#hatch)" stroke="#222" stroke-width="0.45"/>
<rect x="679.10" y="134.50" width="4.28" height="4.00" fill="#68ccc0" stroke="#222" stroke-width="0.45"/>
<line x1="550.10" y1="138.50" x2="684.50" y2="138.50" stroke="#777" stroke-width="0.7"/>
<line x1="548.70" y1="138.50" x2="550.10" y2="138.50" stroke="#888" stroke-width="0.5"/>
<text x="547.50" y="140.60" font-size="6" text-anchor="end" fill="#222" color="#222" font-weight="normal" font-style="normal" >0</text>
<line x1="548.70" y1="124.95" x2="550.10" y2="124.95" stroke="#888" stroke-width="0.5"/>
<text x="547.50" y="127.05" font-size="6" text-anchor="end" fill="#222" color="#222" font-weight="normal" font-style="normal" >2</text>
<line x1="548.70" y1="111.40" x2="550.10" y2="111.40" stroke="#888" stroke-width="0.5"/>
<text x="547.50" y="113.50" font-size="6" text-anchor="end" fill="#222" color="#222" font-weight="normal" font-style="normal" >4</text>
<line x1="548.70" y1="97.85" x2="550.10" y2="97.85" stroke="#888" stroke-width="0.5"/>
<text x="547.50" y="99.95" font-size="6" text-anchor="end" fill="#222" color="#222" font-weight="normal" font-style="normal" >6</text>
<line x1="548.70" y1="84.30" x2="550.10" y2="84.30" stroke="#888" stroke-width="0.5"/>
<text x="547.50" y="86.40" font-size="6" text-anchor="end" fill="#222" color="#222" font-weight="normal" font-style="normal" >8</text>
<line x1="552.75" y1="138.50" x2="552.75" y2="140.00" stroke="#888" stroke-width="0.5"/>
<text x="552.75" y="147.30" font-size="6" text-anchor="middle" fill="#222" color="#222" font-weight="normal" font-style="normal" >0</text>
<line x1="574.16" y1="138.50" x2="574.16" y2="140.00" stroke="#888" stroke-width="0.5"/>
<text x="574.16" y="147.30" font-size="6" text-anchor="middle" fill="#222" color="#222" font-weight="normal" font-style="normal" >5</text>
<line x1="595.58" y1="138.50" x2="595.58" y2="140.00" stroke="#888" stroke-width="0.5"/>
<text x="595.58" y="147.30" font-size="6" text-anchor="middle" fill="#222" color="#222" font-weight="normal" font-style="normal" >10</text>
<line x1="617.00" y1="138.50" x2="617.00" y2="140.00" stroke="#888" stroke-width="0.5"/>
<text x="617.00" y="147.30" font-size="6" text-anchor="middle" fill="#222" color="#222" font-weight="normal" font-style="normal" >15</text>
<line x1="638.41" y1="138.50" x2="638.41" y2="140.00" stroke="#888" stroke-width="0.5"/>
<text x="638.41" y="147.30" font-size="6" text-anchor="middle" fill="#222" color="#222" font-weight="normal" font-style="normal" >20</text>
<line x1="659.83" y1="138.50" x2="659.83" y2="140.00" stroke="#888" stroke-width="0.5"/>
<text x="659.83" y="147.30" font-size="6" text-anchor="middle" fill="#222" color="#222" font-weight="normal" font-style="normal" >25</text>
<line x1="681.24" y1="138.50" x2="681.24" y2="140.00" stroke="#888" stroke-width="0.5"/>
<text x="681.24" y="147.30" font-size="6" text-anchor="middle" fill="#222" color="#222" font-weight="normal" font-style="normal" >30</text>
<text x="617.30" y="158.10" font-size="6" text-anchor="middle" fill="#222" color="#222" font-weight="normal" font-style="normal" >Abundance rank</text>
<text x="536.60" y="111.40" font-size="6" text-anchor="middle" fill="#222" transform="rotate(-90 536.60 111.40)">Total coverage (%)</text>
<text x="623.00" y="95.60" font-size="6" text-anchor="middle" fill="#222" color="#222" font-weight="normal" font-style="normal" >Ag (Feb 2018)</text>
<text x="623.00" y="102.60" font-size="6" text-anchor="middle" fill="#222" color="#222" font-weight="normal" font-style="normal" >38% CPR, 19% DPANN</text>
<line x1="387.40" y1="162.30" x2="521.80" y2="162.30" stroke="#c8c8c8" stroke-width="0.8"/>
<line x1="521.80" y1="162.30" x2="521.80" y2="216.40" stroke="#c8c8c8" stroke-width="0.8"/>
<line x1="387.40" y1="162.30" x2="387.40" y2="216.40" stroke="#bbb" stroke-width="0.6"/>
<rect x="387.91" y="165.75" width="4.28" height="50.65" fill="#88d058" stroke="#222" stroke-width="0.45"/>
<rect x="392.19" y="178.19" width="4.28" height="38.21" fill="#6aa6d8" stroke="#222" stroke-width="0.45"/>
<rect x="396.48" y="201.73" width="4.28" height="14.67" fill="#9b3aad" stroke="#222" stroke-width="0.45"/>
<rect x="400.76" y="206.39" width="4.28" height="10.01" fill="#68ccc0" stroke="#222" stroke-width="0.45"/>
<rect x="405.04" y="207.20" width="4.28" height="9.20" fill="#9b3aad" stroke="#222" stroke-width="0.45"/>
<rect x="409.32" y="208.62" width="4.28" height="7.78" fill="#c8c060" stroke="#222" stroke-width="0.45"/>
<rect x="413.61" y="210.65" width="4.28" height="5.75" fill="#9b3aad" stroke="#222" stroke-width="0.45"/>
<rect x="417.89" y="210.65" width="4.28" height="5.75" fill="#9b3aad" stroke="#222" stroke-width="0.45"/>
<rect x="422.17" y="210.85" width="4.28" height="5.55" fill="#c8c060" stroke="#222" stroke-width="0.45"/>
<rect x="422.17" y="210.85" width="4.28" height="5.55" fill="url(#hatch)" stroke="#222" stroke-width="0.45"/>
<rect x="426.46" y="210.85" width="4.28" height="5.55" fill="#c8c060" stroke="#222" stroke-width="0.45"/>
<rect x="430.74" y="211.06" width="4.28" height="5.34" fill="#c8c060" stroke="#222" stroke-width="0.45"/>
<rect x="435.02" y="211.26" width="4.28" height="5.14" fill="#9b3aad" stroke="#222" stroke-width="0.45"/>
<rect x="439.31" y="211.46" width="4.28" height="4.94" fill="#68ccc0" stroke="#222" stroke-width="0.45"/>
<rect x="443.59" y="211.46" width="4.28" height="4.94" fill="#68ccc0" stroke="#222" stroke-width="0.45"/>
<rect x="447.87" y="211.67" width="4.28" height="4.73" fill="#c8c060" stroke="#222" stroke-width="0.45"/>
<rect x="447.87" y="211.67" width="4.28" height="4.73" fill="url(#hatch)" stroke="#222" stroke-width="0.45"/>
<rect x="452.15" y="211.87" width="4.28" height="4.53" fill="#9b3aad" stroke="#222" stroke-width="0.45"/>
<rect x="456.44" y="211.87" width="4.28" height="4.53" fill="#9b3aad" stroke="#222" stroke-width="0.45"/>
<rect x="460.72" y="212.07" width="4.28" height="4.33" fill="#68ccc0" stroke="#222" stroke-width="0.45"/>
<rect x="465.00" y="212.07" width="4.28" height="4.33" fill="#c8c060" stroke="#222" stroke-width="0.45"/>
<rect x="469.29" y="212.34" width="4.28" height="4.06" fill="#9b3aad" stroke="#222" stroke-width="0.45"/>
<rect x="473.57" y="212.34" width="4.28" height="4.06" fill="#c8c060" stroke="#222" stroke-width="0.45"/>
<rect x="477.85" y="212.55" width="4.28" height="3.85" fill="#9b3aad" stroke="#222" stroke-width="0.45"/>
<rect x="477.85" y="212.55" width="4.28" height="3.85" fill="url(#hatch)" stroke="#222" stroke-width="0.45"/>
<rect x="482.14" y="212.75" width="4.28" height="3.65" fill="#9b3aad" stroke="#222" stroke-width="0.45"/>
<rect x="486.42" y="212.95" width="4.28" height="3.45" fill="#a8a030" stroke="#222" stroke-width="0.45"/>
<rect x="490.70" y="212.95" width="4.28" height="3.45" fill="#28a0a8" stroke="#222" stroke-width="0.45"/>
<rect x="494.98" y="213.15" width="4.28" height="3.25" fill="#f0e040" stroke="#222" stroke-width="0.45"/>
<rect x="499.27" y="213.15" width="4.28" height="3.25" fill="#9b3aad" stroke="#222" stroke-width="0.45"/>
<rect x="503.55" y="213.36" width="4.28" height="3.04" fill="#68ccc0" stroke="#222" stroke-width="0.45"/>
<rect x="507.83" y="213.36" width="4.28" height="3.04" fill="#c8c060" stroke="#222" stroke-width="0.45"/>
<rect x="512.12" y="213.36" width="4.28" height="3.04" fill="#68ccc0" stroke="#222" stroke-width="0.45"/>
<rect x="512.12" y="213.36" width="4.28" height="3.04" fill="url(#hatch)" stroke="#222" stroke-width="0.45"/>
<rect x="516.40" y="213.56" width="4.28" height="2.84" fill="#9b3aad" stroke="#222" stroke-width="0.45"/>
<rect x="516.40" y="213.56" width="4.28" height="2.84" fill="url(#hatch)" stroke="#222" stroke-width="0.45"/>
<line x1="387.40" y1="216.40" x2="521.80" y2="216.40" stroke="#777" stroke-width="0.7"/>
<line x1="386.00" y1="216.40" x2="387.40" y2="216.40" stroke="#888" stroke-width="0.5"/>
<text x="384.80" y="218.50" font-size="6" text-anchor="end" fill="#222" color="#222" font-weight="normal" font-style="normal" >0</text>
<line x1="386.00" y1="202.88" x2="387.40" y2="202.88" stroke="#888" stroke-width="0.5"/>
<text x="384.80" y="204.97" font-size="6" text-anchor="end" fill="#222" color="#222" font-weight="normal" font-style="normal" >2</text>
<line x1="386.00" y1="189.35" x2="387.40" y2="189.35" stroke="#888" stroke-width="0.5"/>
<text x="384.80" y="191.45" font-size="6" text-anchor="end" fill="#222" color="#222" font-weight="normal" font-style="normal" >4</text>
<line x1="386.00" y1="175.83" x2="387.40" y2="175.83" stroke="#888" stroke-width="0.5"/>
<text x="384.80" y="177.93" font-size="6" text-anchor="end" fill="#222" color="#222" font-weight="normal" font-style="normal" >6</text>
<line x1="386.00" y1="162.30" x2="387.40" y2="162.30" stroke="#888" stroke-width="0.5"/>
<text x="384.80" y="164.40" font-size="6" text-anchor="end" fill="#222" color="#222" font-weight="normal" font-style="normal" >8</text>
<line x1="390.05" y1="216.40" x2="390.05" y2="217.90" stroke="#888" stroke-width="0.5"/>
<text x="390.05" y="225.20" font-size="6" text-anchor="middle" fill="#222" color="#222" font-weight="normal" font-style="normal" >0</text>
<line x1="411.46" y1="216.40" x2="411.46" y2="217.90" stroke="#888" stroke-width="0.5"/>
<text x="411.46" y="225.20" font-size="6" text-anchor="middle" fill="#222" color="#222" font-weight="normal" font-style="normal" >5</text>
<line x1="432.88" y1="216.40" x2="432.88" y2="217.90" stroke="#888" stroke-width="0.5"/>
<text x="432.88" y="225.20" font-size="6" text-anchor="middle" fill="#222" color="#222" font-weight="normal" font-style="normal" >10</text>
<line x1="454.29" y1="216.40" x2="454.29" y2="217.90" stroke="#888" stroke-width="0.5"/>
<text x="454.29" y="225.20" font-size="6" text-anchor="middle" fill="#222" color="#222" font-weight="normal" font-style="normal" >15</text>
<line x1="475.71" y1="216.40" x2="475.71" y2="217.90" stroke="#888" stroke-width="0.5"/>
<text x="475.71" y="225.20" font-size="6" text-anchor="middle" fill="#222" color="#222" font-weight="normal" font-style="normal" >20</text>
<line x1="497.12" y1="216.40" x2="497.12" y2="217.90" stroke="#888" stroke-width="0.5"/>
<text x="497.12" y="225.20" font-size="6" text-anchor="middle" fill="#222" color="#222" font-weight="normal" font-style="normal" >25</text>
<line x1="518.54" y1="216.40" x2="518.54" y2="217.90" stroke="#888" stroke-width="0.5"/>
<text x="518.54" y="225.20" font-size="6" text-anchor="middle" fill="#222" color="#222" font-weight="normal" font-style="normal" >30</text>
<text x="454.60" y="236.00" font-size="6" text-anchor="middle" fill="#222" color="#222" font-weight="normal" font-style="normal" >Abundance rank</text>
<text x="373.90" y="189.35" font-size="6" text-anchor="middle" fill="#222" transform="rotate(-90 373.90 189.35)">Total coverage (%)</text>
<text x="460.00" y="173.60" font-size="6" text-anchor="middle" fill="#222" color="#222" font-weight="normal" font-style="normal" >Ag (Jun 2018)</text>
<text x="459.40" y="180.60" font-size="6" text-anchor="middle" fill="#222" color="#222" font-weight="normal" font-style="normal" >37% CPR, 17% DPANN</text>
<line x1="550.10" y1="162.30" x2="684.50" y2="162.30" stroke="#c8c8c8" stroke-width="0.8"/>
<line x1="684.50" y1="162.30" x2="684.50" y2="216.40" stroke="#c8c8c8" stroke-width="0.8"/>
<line x1="550.10" y1="162.30" x2="550.10" y2="216.40" stroke="#bbb" stroke-width="0.6"/>
<rect x="550.61" y="198.48" width="4.28" height="17.92" fill="#88e0a8" stroke="#222" stroke-width="0.45"/>
<rect x="554.89" y="203.28" width="4.28" height="13.12" fill="#9b3aad" stroke="#222" stroke-width="0.45"/>
<rect x="559.18" y="203.48" width="4.28" height="12.92" fill="#e03025" stroke="#222" stroke-width="0.45"/>
<rect x="563.46" y="204.63" width="4.28" height="11.77" fill="#9b3aad" stroke="#222" stroke-width="0.45"/>
<rect x="567.74" y="205.24" width="4.28" height="11.16" fill="#70c8d8" stroke="#222" stroke-width="0.45"/>
<rect x="572.02" y="205.65" width="4.28" height="10.75" fill="#a8a030" stroke="#222" stroke-width="0.45"/>
<rect x="576.31" y="206.26" width="4.28" height="10.14" fill="#3040a8" stroke="#222" stroke-width="0.45"/>
<rect x="580.59" y="206.26" width="4.28" height="10.14" fill="#5a3aa8" stroke="#222" stroke-width="0.45"/>
<rect x="584.87" y="208.42" width="4.28" height="7.98" fill="#b0a0e0" stroke="#222" stroke-width="0.45"/>
<rect x="589.16" y="208.62" width="4.28" height="7.78" fill="#9b3aad" stroke="#222" stroke-width="0.45"/>
<rect x="593.44" y="209.03" width="4.28" height="7.37" fill="#5a9ad0" stroke="#222" stroke-width="0.45"/>
<rect x="593.44" y="209.03" width="4.28" height="7.37" fill="url(#hatch)" stroke="#222" stroke-width="0.45"/>
<rect x="597.72" y="209.43" width="4.28" height="6.97" fill="#9b3aad" stroke="#222" stroke-width="0.45"/>
<rect x="602.01" y="209.43" width="4.28" height="6.97" fill="#e03025" stroke="#222" stroke-width="0.45"/>
<rect x="606.29" y="209.64" width="4.28" height="6.76" fill="#e03025" stroke="#222" stroke-width="0.45"/>
<rect x="610.57" y="210.45" width="4.28" height="5.95" fill="#e03025" stroke="#222" stroke-width="0.45"/>
<rect x="614.86" y="210.65" width="4.28" height="5.75" fill="#9b3aad" stroke="#222" stroke-width="0.45"/>
<rect x="619.14" y="210.65" width="4.28" height="5.75" fill="#9b3aad" stroke="#222" stroke-width="0.45"/>
<rect x="623.42" y="210.65" width="4.28" height="5.75" fill="#e03025" stroke="#222" stroke-width="0.45"/>
<rect x="627.70" y="210.85" width="4.28" height="5.55" fill="#5a9ad0" stroke="#222" stroke-width="0.45"/>
<rect x="627.70" y="210.85" width="4.28" height="5.55" fill="url(#hatch)" stroke="#222" stroke-width="0.45"/>
<rect x="631.99" y="210.85" width="4.28" height="5.55" fill="#9b3aad" stroke="#222" stroke-width="0.45"/>
<rect x="636.27" y="211.06" width="4.28" height="5.34" fill="#9b3aad" stroke="#222" stroke-width="0.45"/>
<rect x="640.55" y="211.26" width="4.28" height="5.14" fill="#9b3aad" stroke="#222" stroke-width="0.45"/>
<rect x="640.55" y="211.26" width="4.28" height="5.14" fill="url(#hatch)" stroke="#222" stroke-width="0.45"/>
<rect x="644.84" y="211.26" width="4.28" height="5.14" fill="#e03025" stroke="#222" stroke-width="0.45"/>
<rect x="649.12" y="211.26" width="4.28" height="5.14" fill="#e03025" stroke="#222" stroke-width="0.45"/>
<rect x="649.12" y="211.26" width="4.28" height="5.14" fill="url(#hatch)" stroke="#222" stroke-width="0.45"/>
<rect x="653.40" y="211.40" width="4.28" height="5.00" fill="#e03025" stroke="#222" stroke-width="0.45"/>
<rect x="657.69" y="211.40" width="4.28" height="5.00" fill="#e03025" stroke="#222" stroke-width="0.45"/>
<rect x="661.97" y="211.67" width="4.28" height="4.73" fill="#88e0a8" stroke="#222" stroke-width="0.45"/>
<rect x="661.97" y="211.67" width="4.28" height="4.73" fill="url(#hatch)" stroke="#222" stroke-width="0.45"/>
<rect x="666.25" y="211.67" width="4.28" height="4.73" fill="#c8c060" stroke="#222" stroke-width="0.45"/>
<rect x="670.53" y="211.67" width="4.28" height="4.73" fill="#e03025" stroke="#222" stroke-width="0.45"/>
<rect x="670.53" y="211.67" width="4.28" height="4.73" fill="url(#hatch)" stroke="#222" stroke-width="0.45"/>
<rect x="674.82" y="211.67" width="4.28" height="4.73" fill="#e03025" stroke="#222" stroke-width="0.45"/>
<rect x="679.10" y="211.80" width="4.28" height="4.60" fill="#e03025" stroke="#222" stroke-width="0.45"/>
<line x1="550.10" y1="216.40" x2="684.50" y2="216.40" stroke="#777" stroke-width="0.7"/>
<line x1="548.70" y1="216.40" x2="550.10" y2="216.40" stroke="#888" stroke-width="0.5"/>
<text x="547.50" y="218.50" font-size="6" text-anchor="end" fill="#222" color="#222" font-weight="normal" font-style="normal" >0</text>
<line x1="548.70" y1="202.88" x2="550.10" y2="202.88" stroke="#888" stroke-width="0.5"/>
<text x="547.50" y="204.97" font-size="6" text-anchor="end" fill="#222" color="#222" font-weight="normal" font-style="normal" >2</text>
<line x1="548.70" y1="189.35" x2="550.10" y2="189.35" stroke="#888" stroke-width="0.5"/>
<text x="547.50" y="191.45" font-size="6" text-anchor="end" fill="#222" color="#222" font-weight="normal" font-style="normal" >4</text>
<line x1="548.70" y1="175.83" x2="550.10" y2="175.83" stroke="#888" stroke-width="0.5"/>
<text x="547.50" y="177.93" font-size="6" text-anchor="end" fill="#222" color="#222" font-weight="normal" font-style="normal" >6</text>
<line x1="548.70" y1="162.30" x2="550.10" y2="162.30" stroke="#888" stroke-width="0.5"/>
<text x="547.50" y="164.40" font-size="6" text-anchor="end" fill="#222" color="#222" font-weight="normal" font-style="normal" >8</text>
<line x1="552.75" y1="216.40" x2="552.75" y2="217.90" stroke="#888" stroke-width="0.5"/>
<text x="552.75" y="225.20" font-size="6" text-anchor="middle" fill="#222" color="#222" font-weight="normal" font-style="normal" >0</text>
<line x1="574.16" y1="216.40" x2="574.16" y2="217.90" stroke="#888" stroke-width="0.5"/>
<text x="574.16" y="225.20" font-size="6" text-anchor="middle" fill="#222" color="#222" font-weight="normal" font-style="normal" >5</text>
<line x1="595.58" y1="216.40" x2="595.58" y2="217.90" stroke="#888" stroke-width="0.5"/>
<text x="595.58" y="225.20" font-size="6" text-anchor="middle" fill="#222" color="#222" font-weight="normal" font-style="normal" >10</text>
<line x1="617.00" y1="216.40" x2="617.00" y2="217.90" stroke="#888" stroke-width="0.5"/>
<text x="617.00" y="225.20" font-size="6" text-anchor="middle" fill="#222" color="#222" font-weight="normal" font-style="normal" >15</text>
<line x1="638.41" y1="216.40" x2="638.41" y2="217.90" stroke="#888" stroke-width="0.5"/>
<text x="638.41" y="225.20" font-size="6" text-anchor="middle" fill="#222" color="#222" font-weight="normal" font-style="normal" >20</text>
<line x1="659.83" y1="216.40" x2="659.83" y2="217.90" stroke="#888" stroke-width="0.5"/>
<text x="659.83" y="225.20" font-size="6" text-anchor="middle" fill="#222" color="#222" font-weight="normal" font-style="normal" >25</text>
<line x1="681.24" y1="216.40" x2="681.24" y2="217.90" stroke="#888" stroke-width="0.5"/>
<text x="681.24" y="225.20" font-size="6" text-anchor="middle" fill="#222" color="#222" font-weight="normal" font-style="normal" >30</text>
<text x="617.30" y="236.00" font-size="6" text-anchor="middle" fill="#222" color="#222" font-weight="normal" font-style="normal" >Abundance rank</text>
<text x="536.60" y="189.35" font-size="6" text-anchor="middle" fill="#222" transform="rotate(-90 536.60 189.35)">Total coverage (%)</text>
<text x="621.50" y="173.60" font-size="6" text-anchor="middle" fill="#222" color="#222" font-weight="normal" font-style="normal" >Pr1 (Dec 2018)</text>
<text x="621.20" y="180.60" font-size="6" text-anchor="middle" fill="#222" color="#222" font-weight="normal" font-style="normal" >38% CPR, 4.2% DPANN</text>
<line x1="387.40" y1="240.20" x2="521.80" y2="240.20" stroke="#c8c8c8" stroke-width="0.8"/>
<line x1="521.80" y1="240.20" x2="521.80" y2="294.40" stroke="#c8c8c8" stroke-width="0.8"/>
<line x1="387.40" y1="240.20" x2="387.40" y2="294.40" stroke="#bbb" stroke-width="0.6"/>
<rect x="387.91" y="253.89" width="4.28" height="40.51" fill="#c8c060" stroke="#222" stroke-width="0.45"/>
<rect x="392.19" y="258.56" width="4.28" height="35.84" fill="#6b6b20" stroke="#222" stroke-width="0.45"/>
<rect x="396.48" y="267.37" width="4.28" height="27.03" fill="#6b6b20" stroke="#222" stroke-width="0.45"/>
<rect x="400.76" y="267.98" width="4.28" height="26.42" fill="#a8c0e0" stroke="#222" stroke-width="0.45"/>
<rect x="400.76" y="267.98" width="4.28" height="26.42" fill="url(#hatch)" stroke="#222" stroke-width="0.45"/>
<rect x="405.04" y="270.28" width="4.28" height="24.12" fill="#9b3aad" stroke="#222" stroke-width="0.45"/>
<rect x="409.32" y="272.31" width="4.28" height="22.09" fill="#e8861a" stroke="#222" stroke-width="0.45"/>
<rect x="409.32" y="272.31" width="4.28" height="22.09" fill="url(#hatch)" stroke="#222" stroke-width="0.45"/>
<rect x="413.61" y="275.57" width="4.28" height="18.83" fill="#c8c060" stroke="#222" stroke-width="0.45"/>
<rect x="413.61" y="275.57" width="4.28" height="18.83" fill="url(#hatch)" stroke="#222" stroke-width="0.45"/>
<rect x="417.89" y="276.38" width="4.28" height="18.02" fill="#6b6b20" stroke="#222" stroke-width="0.45"/>
<rect x="417.89" y="276.38" width="4.28" height="18.02" fill="url(#hatch)" stroke="#222" stroke-width="0.45"/>
<rect x="422.17" y="276.99" width="4.28" height="17.41" fill="#c8c060" stroke="#222" stroke-width="0.45"/>
<rect x="422.17" y="276.99" width="4.28" height="17.41" fill="url(#hatch)" stroke="#222" stroke-width="0.45"/>
<rect x="426.46" y="277.60" width="4.28" height="16.80" fill="#a8c0e0" stroke="#222" stroke-width="0.45"/>
<rect x="426.46" y="277.60" width="4.28" height="16.80" fill="url(#hatch)" stroke="#222" stroke-width="0.45"/>
<rect x="430.74" y="277.80" width="4.28" height="16.60" fill="#a8c0e0" stroke="#222" stroke-width="0.45"/>
<rect x="430.74" y="277.80" width="4.28" height="16.60" fill="url(#hatch)" stroke="#222" stroke-width="0.45"/>
<rect x="435.02" y="278.41" width="4.28" height="15.99" fill="#c8c060" stroke="#222" stroke-width="0.45"/>
<rect x="435.02" y="278.41" width="4.28" height="15.99" fill="url(#hatch)" stroke="#222" stroke-width="0.45"/>
<rect x="439.31" y="278.61" width="4.28" height="15.79" fill="#c8c060" stroke="#222" stroke-width="0.45"/>
<rect x="439.31" y="278.61" width="4.28" height="15.79" fill="url(#hatch)" stroke="#222" stroke-width="0.45"/>
<rect x="443.59" y="280.31" width="4.28" height="14.09" fill="#9b3aad" stroke="#222" stroke-width="0.45"/>
<rect x="443.59" y="280.31" width="4.28" height="14.09" fill="url(#hatch)" stroke="#222" stroke-width="0.45"/>
<rect x="447.87" y="280.71" width="4.28" height="13.69" fill="#c8c060" stroke="#222" stroke-width="0.45"/>
<rect x="447.87" y="280.71" width="4.28" height="13.69" fill="url(#hatch)" stroke="#222" stroke-width="0.45"/>
<rect x="452.15" y="280.92" width="4.28" height="13.48" fill="#6b6b20" stroke="#222" stroke-width="0.45"/>
<rect x="452.15" y="280.92" width="4.28" height="13.48" fill="url(#hatch)" stroke="#222" stroke-width="0.45"/>
<rect x="456.44" y="281.12" width="4.28" height="13.28" fill="#70c8d8" stroke="#222" stroke-width="0.45"/>
<rect x="460.72" y="281.32" width="4.28" height="13.08" fill="#9b3aad" stroke="#222" stroke-width="0.45"/>
<rect x="460.72" y="281.32" width="4.28" height="13.08" fill="url(#hatch)" stroke="#222" stroke-width="0.45"/>
<rect x="465.00" y="281.53" width="4.28" height="12.87" fill="#9b3aad" stroke="#222" stroke-width="0.45"/>
<rect x="465.00" y="281.53" width="4.28" height="12.87" fill="url(#hatch)" stroke="#222" stroke-width="0.45"/>
<rect x="469.29" y="282.34" width="4.28" height="12.06" fill="#c8c060" stroke="#222" stroke-width="0.45"/>
<rect x="469.29" y="282.34" width="4.28" height="12.06" fill="url(#hatch)" stroke="#222" stroke-width="0.45"/>
<rect x="473.57" y="282.75" width="4.28" height="11.65" fill="#c8c060" stroke="#222" stroke-width="0.45"/>
<rect x="473.57" y="282.75" width="4.28" height="11.65" fill="url(#hatch)" stroke="#222" stroke-width="0.45"/>
<rect x="477.85" y="283.15" width="4.28" height="11.25" fill="#9b3aad" stroke="#222" stroke-width="0.45"/>
<rect x="477.85" y="283.15" width="4.28" height="11.25" fill="url(#hatch)" stroke="#222" stroke-width="0.45"/>
<rect x="482.14" y="283.36" width="4.28" height="11.04" fill="#9b3aad" stroke="#222" stroke-width="0.45"/>
<rect x="486.42" y="283.36" width="4.28" height="11.04" fill="#9b3aad" stroke="#222" stroke-width="0.45"/>
<rect x="490.70" y="283.56" width="4.28" height="10.84" fill="#3040a8" stroke="#222" stroke-width="0.45"/>
<rect x="490.70" y="283.56" width="4.28" height="10.84" fill="url(#hatch)" stroke="#222" stroke-width="0.45"/>
<rect x="494.98" y="283.56" width="4.28" height="10.84" fill="#70c8d8" stroke="#222" stroke-width="0.45"/>
<rect x="499.27" y="283.76" width="4.28" height="10.64" fill="#9b3aad" stroke="#222" stroke-width="0.45"/>
<rect x="499.27" y="283.76" width="4.28" height="10.64" fill="url(#hatch)" stroke="#222" stroke-width="0.45"/>
<rect x="503.55" y="284.17" width="4.28" height="10.23" fill="#3040a8" stroke="#222" stroke-width="0.45"/>
<rect x="503.55" y="284.17" width="4.28" height="10.23" fill="url(#hatch)" stroke="#222" stroke-width="0.45"/>
<rect x="507.83" y="284.37" width="4.28" height="10.03" fill="#f8e0a0" stroke="#222" stroke-width="0.45"/>
<rect x="512.12" y="284.37" width="4.28" height="10.03" fill="#70c8d8" stroke="#222" stroke-width="0.45"/>
<rect x="512.12" y="284.37" width="4.28" height="10.03" fill="url(#hatch)" stroke="#222" stroke-width="0.45"/>
<rect x="516.40" y="284.37" width="4.28" height="10.03" fill="#c8c060" stroke="#222" stroke-width="0.45"/>
<rect x="516.40" y="284.37" width="4.28" height="10.03" fill="url(#hatch)" stroke="#222" stroke-width="0.45"/>
<line x1="387.40" y1="294.40" x2="521.80" y2="294.40" stroke="#777" stroke-width="0.7"/>
<line x1="386.00" y1="294.40" x2="387.40" y2="294.40" stroke="#888" stroke-width="0.5"/>
<text x="384.80" y="296.50" font-size="6" text-anchor="end" fill="#222" color="#222" font-weight="normal" font-style="normal" >0</text>
<line x1="386.00" y1="280.85" x2="387.40" y2="280.85" stroke="#888" stroke-width="0.5"/>
<text x="384.80" y="282.95" font-size="6" text-anchor="end" fill="#222" color="#222" font-weight="normal" font-style="normal" >2</text>
<line x1="386.00" y1="267.30" x2="387.40" y2="267.30" stroke="#888" stroke-width="0.5"/>
<text x="384.80" y="269.40" font-size="6" text-anchor="end" fill="#222" color="#222" font-weight="normal" font-style="normal" >4</text>
<line x1="386.00" y1="253.75" x2="387.40" y2="253.75" stroke="#888" stroke-width="0.5"/>
<text x="384.80" y="255.85" font-size="6" text-anchor="end" fill="#222" color="#222" font-weight="normal" font-style="normal" >6</text>
<line x1="386.00" y1="240.20" x2="387.40" y2="240.20" stroke="#888" stroke-width="0.5"/>
<text x="384.80" y="242.30" font-size="6" text-anchor="end" fill="#222" color="#222" font-weight="normal" font-style="normal" >8</text>
<line x1="390.05" y1="294.40" x2="390.05" y2="295.90" stroke="#888" stroke-width="0.5"/>
<text x="390.05" y="303.20" font-size="6" text-anchor="middle" fill="#222" color="#222" font-weight="normal" font-style="normal" >0</text>
<line x1="411.46" y1="294.40" x2="411.46" y2="295.90" stroke="#888" stroke-width="0.5"/>
<text x="411.46" y="303.20" font-size="6" text-anchor="middle" fill="#222" color="#222" font-weight="normal" font-style="normal" >5</text>
<line x1="432.88" y1="294.40" x2="432.88" y2="295.90" stroke="#888" stroke-width="0.5"/>
<text x="432.88" y="303.20" font-size="6" text-anchor="middle" fill="#222" color="#222" font-weight="normal" font-style="normal" >10</text>
<line x1="454.29" y1="294.40" x2="454.29" y2="295.90" stroke="#888" stroke-width="0.5"/>
<text x="454.29" y="303.20" font-size="6" text-anchor="middle" fill="#222" color="#222" font-weight="normal" font-style="normal" >15</text>
<line x1="475.71" y1="294.40" x2="475.71" y2="295.90" stroke="#888" stroke-width="0.5"/>
<text x="475.71" y="303.20" font-size="6" text-anchor="middle" fill="#222" color="#222" font-weight="normal" font-style="normal" >20</text>
<line x1="497.12" y1="294.40" x2="497.12" y2="295.90" stroke="#888" stroke-width="0.5"/>
<text x="497.12" y="303.20" font-size="6" text-anchor="middle" fill="#222" color="#222" font-weight="normal" font-style="normal" >25</text>
<line x1="518.54" y1="294.40" x2="518.54" y2="295.90" stroke="#888" stroke-width="0.5"/>
<text x="518.54" y="303.20" font-size="6" text-anchor="middle" fill="#222" color="#222" font-weight="normal" font-style="normal" >30</text>
<text x="454.60" y="314.00" font-size="6" text-anchor="middle" fill="#222" color="#222" font-weight="normal" font-style="normal" >Abundance rank</text>
<text x="373.90" y="267.30" font-size="6" text-anchor="middle" fill="#222" transform="rotate(-90 373.90 267.30)">Total coverage (%)</text>
<text x="458.20" y="251.50" font-size="6" text-anchor="middle" fill="#222" color="#222" font-weight="normal" font-style="normal" >Pr2 (May 2019)</text>
<text x="458.50" y="258.50" font-size="6" text-anchor="middle" fill="#222" color="#222" font-weight="normal" font-style="normal" >31% CPR, 3.2% DPANN</text>
<line x1="550.10" y1="240.20" x2="684.50" y2="240.20" stroke="#c8c8c8" stroke-width="0.8"/>
<line x1="684.50" y1="240.20" x2="684.50" y2="294.40" stroke="#c8c8c8" stroke-width="0.8"/>
<line x1="550.10" y1="240.20" x2="550.10" y2="294.40" stroke="#bbb" stroke-width="0.6"/>
<rect x="550.61" y="260.12" width="4.28" height="34.28" fill="#c8c060" stroke="#222" stroke-width="0.45"/>
<rect x="550.61" y="260.12" width="4.28" height="34.28" fill="url(#hatch)" stroke="#222" stroke-width="0.45"/>
<rect x="554.89" y="262.15" width="4.28" height="32.25" fill="#c8c060" stroke="#222" stroke-width="0.45"/>
<rect x="559.18" y="277.26" width="4.28" height="17.14" fill="#c8c060" stroke="#222" stroke-width="0.45"/>
<rect x="559.18" y="277.26" width="4.28" height="17.14" fill="url(#hatch)" stroke="#222" stroke-width="0.45"/>
<rect x="563.46" y="279.50" width="4.28" height="14.90" fill="#f0e040" stroke="#222" stroke-width="0.45"/>
<rect x="567.74" y="280.44" width="4.28" height="13.96" fill="#c8c060" stroke="#222" stroke-width="0.45"/>
<rect x="567.74" y="280.44" width="4.28" height="13.96" fill="url(#hatch)" stroke="#222" stroke-width="0.45"/>
<rect x="572.02" y="283.22" width="4.28" height="11.18" fill="#c8c060" stroke="#222" stroke-width="0.45"/>
<rect x="576.31" y="284.03" width="4.28" height="10.37" fill="#a8c0e0" stroke="#222" stroke-width="0.45"/>
<rect x="580.59" y="285.25" width="4.28" height="9.15" fill="#a8c0e0" stroke="#222" stroke-width="0.45"/>
<rect x="584.87" y="286.27" width="4.28" height="8.13" fill="#9b3aad" stroke="#222" stroke-width="0.45"/>
<rect x="589.16" y="286.27" width="4.28" height="8.13" fill="#a8c0e0" stroke="#222" stroke-width="0.45"/>
<rect x="593.44" y="286.47" width="4.28" height="7.93" fill="#c8c060" stroke="#222" stroke-width="0.45"/>
<rect x="597.72" y="286.81" width="4.28" height="7.59" fill="#e8861a" stroke="#222" stroke-width="0.45"/>
<rect x="602.01" y="287.62" width="4.28" height="6.77" fill="#c8c060" stroke="#222" stroke-width="0.45"/>
<rect x="606.29" y="288.03" width="4.28" height="6.37" fill="#a8a030" stroke="#222" stroke-width="0.45"/>
<rect x="610.57" y="288.44" width="4.28" height="5.96" fill="#a8c0e0" stroke="#222" stroke-width="0.45"/>
<rect x="614.86" y="288.84" width="4.28" height="5.56" fill="#d0d0d0" stroke="#222" stroke-width="0.45"/>
<rect x="619.14" y="288.84" width="4.28" height="5.56" fill="#c8c060" stroke="#222" stroke-width="0.45"/>
<rect x="623.42" y="289.05" width="4.28" height="5.35" fill="#c8c060" stroke="#222" stroke-width="0.45"/>
<rect x="627.70" y="289.05" width="4.28" height="5.35" fill="#e8861a" stroke="#222" stroke-width="0.45"/>
<rect x="631.99" y="289.39" width="4.28" height="5.01" fill="#b0a0e0" stroke="#222" stroke-width="0.45"/>
<rect x="636.27" y="289.79" width="4.28" height="4.61" fill="#c8c060" stroke="#222" stroke-width="0.45"/>
<rect x="636.27" y="289.79" width="4.28" height="4.61" fill="url(#hatch)" stroke="#222" stroke-width="0.45"/>
<rect x="640.55" y="290.00" width="4.28" height="4.40" fill="#e03025" stroke="#222" stroke-width="0.45"/>
<rect x="640.55" y="290.00" width="4.28" height="4.40" fill="url(#hatch)" stroke="#222" stroke-width="0.45"/>
<rect x="644.84" y="290.20" width="4.28" height="4.20" fill="#c8c060" stroke="#222" stroke-width="0.45"/>
<rect x="649.12" y="290.20" width="4.28" height="4.20" fill="#5a9ad0" stroke="#222" stroke-width="0.45"/>
<rect x="653.40" y="290.40" width="4.28" height="4.00" fill="#c8c060" stroke="#222" stroke-width="0.45"/>
<rect x="657.69" y="291.01" width="4.28" height="3.39" fill="#a8a030" stroke="#222" stroke-width="0.45"/>
<rect x="661.97" y="291.01" width="4.28" height="3.39" fill="#a8a030" stroke="#222" stroke-width="0.45"/>
<rect x="666.25" y="291.22" width="4.28" height="3.18" fill="#9b3aad" stroke="#222" stroke-width="0.45"/>
<rect x="670.53" y="291.22" width="4.28" height="3.18" fill="#9b3aad" stroke="#222" stroke-width="0.45"/>
<rect x="674.82" y="291.22" width="4.28" height="3.18" fill="#c8c060" stroke="#222" stroke-width="0.45"/>
<rect x="674.82" y="291.22" width="4.28" height="3.18" fill="url(#hatch)" stroke="#222" stroke-width="0.45"/>
<rect x="679.10" y="291.22" width="4.28" height="3.18" fill="#a8a030" stroke="#222" stroke-width="0.45"/>
<line x1="550.10" y1="294.40" x2="684.50" y2="294.40" stroke="#777" stroke-width="0.7"/>
<line x1="548.70" y1="294.40" x2="550.10" y2="294.40" stroke="#888" stroke-width="0.5"/>
<text x="547.50" y="296.50" font-size="6" text-anchor="end" fill="#222" color="#222" font-weight="normal" font-style="normal" >0</text>
<line x1="548.70" y1="280.85" x2="550.10" y2="280.85" stroke="#888" stroke-width="0.5"/>
<text x="547.50" y="282.95" font-size="6" text-anchor="end" fill="#222" color="#222" font-weight="normal" font-style="normal" >2</text>
<line x1="548.70" y1="267.30" x2="550.10" y2="267.30" stroke="#888" stroke-width="0.5"/>
<text x="547.50" y="269.40" font-size="6" text-anchor="end" fill="#222" color="#222" font-weight="normal" font-style="normal" >4</text>
<line x1="548.70" y1="253.75" x2="550.10" y2="253.75" stroke="#888" stroke-width="0.5"/>
<text x="547.50" y="255.85" font-size="6" text-anchor="end" fill="#222" color="#222" font-weight="normal" font-style="normal" >6</text>
<line x1="548.70" y1="240.20" x2="550.10" y2="240.20" stroke="#888" stroke-width="0.5"/>
<text x="547.50" y="242.30" font-size="6" text-anchor="end" fill="#222" color="#222" font-weight="normal" font-style="normal" >8</text>
<line x1="552.75" y1="294.40" x2="552.75" y2="295.90" stroke="#888" stroke-width="0.5"/>
<text x="552.75" y="303.20" font-size="6" text-anchor="middle" fill="#222" color="#222" font-weight="normal" font-style="normal" >0</text>
<line x1="574.16" y1="294.40" x2="574.16" y2="295.90" stroke="#888" stroke-width="0.5"/>
<text x="574.16" y="303.20" font-size="6" text-anchor="middle" fill="#222" color="#222" font-weight="normal" font-style="normal" >5</text>
<line x1="595.58" y1="294.40" x2="595.58" y2="295.90" stroke="#888" stroke-width="0.5"/>
<text x="595.58" y="303.20" font-size="6" text-anchor="middle" fill="#222" color="#222" font-weight="normal" font-style="normal" >10</text>
<line x1="617.00" y1="294.40" x2="617.00" y2="295.90" stroke="#888" stroke-width="0.5"/>
<text x="617.00" y="303.20" font-size="6" text-anchor="middle" fill="#222" color="#222" font-weight="normal" font-style="normal" >15</text>
<line x1="638.41" y1="294.40" x2="638.41" y2="295.90" stroke="#888" stroke-width="0.5"/>
<text x="638.41" y="303.20" font-size="6" text-anchor="middle" fill="#222" color="#222" font-weight="normal" font-style="normal" >20</text>
<line x1="659.83" y1="294.40" x2="659.83" y2="295.90" stroke="#888" stroke-width="0.5"/>
<text x="659.83" y="303.20" font-size="6" text-anchor="middle" fill="#222" color="#222" font-weight="normal" font-style="normal" >25</text>
<line x1="681.24" y1="294.40" x2="681.24" y2="295.90" stroke="#888" stroke-width="0.5"/>
<text x="681.24" y="303.20" font-size="6" text-anchor="middle" fill="#222" color="#222" font-weight="normal" font-style="normal" >30</text>
<text x="617.30" y="314.00" font-size="6" text-anchor="middle" fill="#222" color="#222" font-weight="normal" font-style="normal" >Abundance rank</text>
<text x="536.60" y="267.30" font-size="6" text-anchor="middle" fill="#222" transform="rotate(-90 536.60 267.30)">Total coverage (%)</text>
<text x="623.50" y="251.50" font-size="6" text-anchor="middle" fill="#222" color="#222" font-weight="normal" font-style="normal" >Pr3 (Nov 2017)</text>
<text x="623.80" y="258.50" font-size="6" text-anchor="middle" fill="#222" color="#222" font-weight="normal" font-style="normal" >16% CPR, 3.5% DPANN</text>
<line x1="387.40" y1="317.40" x2="521.80" y2="317.40" stroke="#c8c8c8" stroke-width="0.8"/>
<line x1="521.80" y1="317.40" x2="521.80" y2="371.60" stroke="#c8c8c8" stroke-width="0.8"/>
<line x1="387.40" y1="317.40" x2="387.40" y2="371.60" stroke="#bbb" stroke-width="0.6"/>
<rect x="387.91" y="318.42" width="4.28" height="53.18" fill="#a8c0e0" stroke="#222" stroke-width="0.45"/>
<rect x="392.19" y="320.65" width="4.28" height="50.95" fill="#a8c0e0" stroke="#222" stroke-width="0.45"/>
<rect x="396.48" y="327.56" width="4.28" height="44.04" fill="#a8c0e0" stroke="#222" stroke-width="0.45"/>
<rect x="400.76" y="340.71" width="4.28" height="30.89" fill="#a8c0e0" stroke="#222" stroke-width="0.45"/>
<rect x="405.04" y="347.68" width="4.28" height="23.92" fill="#a8c0e0" stroke="#222" stroke-width="0.45"/>
<rect x="409.32" y="354.80" width="4.28" height="16.80" fill="#d0d0d0" stroke="#222" stroke-width="0.45"/>
<rect x="413.61" y="355.81" width="4.28" height="15.79" fill="#a8c0e0" stroke="#222" stroke-width="0.45"/>
<rect x="417.89" y="356.22" width="4.28" height="15.38" fill="#5a9ad0" stroke="#222" stroke-width="0.45"/>
<rect x="422.17" y="356.69" width="4.28" height="14.91" fill="#c8c060" stroke="#222" stroke-width="0.45"/>
<rect x="426.46" y="357.91" width="4.28" height="13.69" fill="#c8c060" stroke="#222" stroke-width="0.45"/>
<rect x="430.74" y="358.93" width="4.28" height="12.67" fill="#88d058" stroke="#222" stroke-width="0.45"/>
<rect x="435.02" y="359.34" width="4.28" height="12.26" fill="#c8c060" stroke="#222" stroke-width="0.45"/>
<rect x="439.31" y="359.95" width="4.28" height="11.65" fill="#a8c0e0" stroke="#222" stroke-width="0.45"/>
<rect x="443.59" y="360.15" width="4.28" height="11.45" fill="#a8a030" stroke="#222" stroke-width="0.45"/>
<rect x="447.87" y="360.35" width="4.28" height="11.25" fill="#e8861a" stroke="#222" stroke-width="0.45"/>
<rect x="452.15" y="361.57" width="4.28" height="10.03" fill="#88e0a8" stroke="#222" stroke-width="0.45"/>
<rect x="452.15" y="361.57" width="4.28" height="10.03" fill="url(#hatch)" stroke="#222" stroke-width="0.45"/>
<rect x="456.44" y="364.62" width="4.28" height="6.98" fill="#f0ea80" stroke="#222" stroke-width="0.45"/>
<rect x="460.72" y="365.23" width="4.28" height="6.37" fill="#a8a030" stroke="#222" stroke-width="0.45"/>
<rect x="465.00" y="365.64" width="4.28" height="5.96" fill="#3040a8" stroke="#222" stroke-width="0.45"/>
<rect x="469.29" y="366.04" width="4.28" height="5.56" fill="#a8a030" stroke="#222" stroke-width="0.45"/>
<rect x="473.57" y="366.25" width="4.28" height="5.35" fill="#f0ea80" stroke="#222" stroke-width="0.45"/>
<rect x="477.85" y="366.45" width="4.28" height="5.15" fill="#e8861a" stroke="#222" stroke-width="0.45"/>
<rect x="482.14" y="366.65" width="4.28" height="4.95" fill="#5a9ad0" stroke="#222" stroke-width="0.45"/>
<rect x="486.42" y="366.86" width="4.28" height="4.74" fill="#e8861a" stroke="#222" stroke-width="0.45"/>
<rect x="490.70" y="366.86" width="4.28" height="4.74" fill="#e8861a" stroke="#222" stroke-width="0.45"/>
<rect x="494.98" y="367.06" width="4.28" height="4.54" fill="#c8c060" stroke="#222" stroke-width="0.45"/>
<rect x="499.27" y="367.33" width="4.28" height="4.27" fill="#c030b0" stroke="#222" stroke-width="0.45"/>
<rect x="503.55" y="367.33" width="4.28" height="4.27" fill="#7080b8" stroke="#222" stroke-width="0.45"/>
<rect x="507.83" y="367.33" width="4.28" height="4.27" fill="#c8c060" stroke="#222" stroke-width="0.45"/>
<rect x="512.12" y="367.33" width="4.28" height="4.27" fill="#c8c060" stroke="#222" stroke-width="0.45"/>
<rect x="516.40" y="367.33" width="4.28" height="4.27" fill="#a8c0e0" stroke="#222" stroke-width="0.45"/>
<line x1="387.40" y1="371.60" x2="521.80" y2="371.60" stroke="#777" stroke-width="0.7"/>
<line x1="386.00" y1="371.60" x2="387.40" y2="371.60" stroke="#888" stroke-width="0.5"/>
<text x="384.80" y="373.70" font-size="6" text-anchor="end" fill="#222" color="#222" font-weight="normal" font-style="normal" >0</text>
<line x1="386.00" y1="358.05" x2="387.40" y2="358.05" stroke="#888" stroke-width="0.5"/>
<text x="384.80" y="360.15" font-size="6" text-anchor="end" fill="#222" color="#222" font-weight="normal" font-style="normal" >2</text>
<line x1="386.00" y1="344.50" x2="387.40" y2="344.50" stroke="#888" stroke-width="0.5"/>
<text x="384.80" y="346.60" font-size="6" text-anchor="end" fill="#222" color="#222" font-weight="normal" font-style="normal" >4</text>
<line x1="386.00" y1="330.95" x2="387.40" y2="330.95" stroke="#888" stroke-width="0.5"/>
<text x="384.80" y="333.05" font-size="6" text-anchor="end" fill="#222" color="#222" font-weight="normal" font-style="normal" >6</text>
<line x1="386.00" y1="317.40" x2="387.40" y2="317.40" stroke="#888" stroke-width="0.5"/>
<text x="384.80" y="319.50" font-size="6" text-anchor="end" fill="#222" color="#222" font-weight="normal" font-style="normal" >8</text>
<line x1="390.05" y1="371.60" x2="390.05" y2="373.10" stroke="#888" stroke-width="0.5"/>
<text x="390.05" y="380.40" font-size="6" text-anchor="middle" fill="#222" color="#222" font-weight="normal" font-style="normal" >0</text>
<line x1="411.46" y1="371.60" x2="411.46" y2="373.10" stroke="#888" stroke-width="0.5"/>
<text x="411.46" y="380.40" font-size="6" text-anchor="middle" fill="#222" color="#222" font-weight="normal" font-style="normal" >5</text>
<line x1="432.88" y1="371.60" x2="432.88" y2="373.10" stroke="#888" stroke-width="0.5"/>
<text x="432.88" y="380.40" font-size="6" text-anchor="middle" fill="#222" color="#222" font-weight="normal" font-style="normal" >10</text>
<line x1="454.29" y1="371.60" x2="454.29" y2="373.10" stroke="#888" stroke-width="0.5"/>
<text x="454.29" y="380.40" font-size="6" text-anchor="middle" fill="#222" color="#222" font-weight="normal" font-style="normal" >15</text>
<line x1="475.71" y1="371.60" x2="475.71" y2="373.10" stroke="#888" stroke-width="0.5"/>
<text x="475.71" y="380.40" font-size="6" text-anchor="middle" fill="#222" color="#222" font-weight="normal" font-style="normal" >20</text>
<line x1="497.12" y1="371.60" x2="497.12" y2="373.10" stroke="#888" stroke-width="0.5"/>
<text x="497.12" y="380.40" font-size="6" text-anchor="middle" fill="#222" color="#222" font-weight="normal" font-style="normal" >25</text>
<line x1="518.54" y1="371.60" x2="518.54" y2="373.10" stroke="#888" stroke-width="0.5"/>
<text x="518.54" y="380.40" font-size="6" text-anchor="middle" fill="#222" color="#222" font-weight="normal" font-style="normal" >30</text>
<text x="454.60" y="391.20" font-size="6" text-anchor="middle" fill="#222" color="#222" font-weight="normal" font-style="normal" >Abundance rank</text>
<text x="373.90" y="344.50" font-size="6" text-anchor="middle" fill="#222" transform="rotate(-90 373.90 344.50)">Total coverage (%)</text>
<text x="461.50" y="328.70" font-size="6" text-anchor="middle" fill="#222" color="#222" font-weight="normal" font-style="normal" >Pr3 (Sep 2018)</text>
<text x="461.40" y="335.70" font-size="6" text-anchor="middle" fill="#222" color="#222" font-weight="normal" font-style="normal" >2.7% CPR, 0.35% DPANN</text>
<line x1="550.10" y1="317.40" x2="684.50" y2="317.40" stroke="#c8c8c8" stroke-width="0.8"/>
<line x1="684.50" y1="317.40" x2="684.50" y2="371.60" stroke="#c8c8c8" stroke-width="0.8"/>
<line x1="550.10" y1="317.40" x2="550.10" y2="371.60" stroke="#bbb" stroke-width="0.6"/>
<rect x="550.61" y="339.35" width="4.28" height="32.25" fill="#c8c060" stroke="#222" stroke-width="0.45"/>
<rect x="554.89" y="341.72" width="4.28" height="29.88" fill="#5a9ad0" stroke="#222" stroke-width="0.45"/>
<rect x="559.18" y="342.54" width="4.28" height="29.06" fill="#5a3aa8" stroke="#222" stroke-width="0.45"/>
<rect x="563.46" y="343.69" width="4.28" height="27.91" fill="#e8861a" stroke="#222" stroke-width="0.45"/>
<rect x="567.74" y="352.29" width="4.28" height="19.31" fill="#5a3aa8" stroke="#222" stroke-width="0.45"/>
<rect x="572.02" y="352.29" width="4.28" height="19.31" fill="#9b3aad" stroke="#222" stroke-width="0.45"/>
<rect x="576.31" y="353.31" width="4.28" height="18.29" fill="#a8a030" stroke="#222" stroke-width="0.45"/>
<rect x="580.59" y="356.29" width="4.28" height="15.31" fill="#a8c0e0" stroke="#222" stroke-width="0.45"/>
<rect x="584.87" y="362.45" width="4.28" height="9.15" fill="#a8c0e0" stroke="#222" stroke-width="0.45"/>
<rect x="589.16" y="362.86" width="4.28" height="8.74" fill="#a8a030" stroke="#222" stroke-width="0.45"/>
<rect x="593.44" y="363.61" width="4.28" height="7.99" fill="#5a3aa8" stroke="#222" stroke-width="0.45"/>
<rect x="597.72" y="363.81" width="4.28" height="7.79" fill="#a8a030" stroke="#222" stroke-width="0.45"/>
<rect x="602.01" y="364.22" width="4.28" height="7.38" fill="#a8c0e0" stroke="#222" stroke-width="0.45"/>
<rect x="606.29" y="364.42" width="4.28" height="7.18" fill="#d0d0d0" stroke="#222" stroke-width="0.45"/>
<rect x="606.29" y="364.42" width="4.28" height="7.18" fill="url(#hatch)" stroke="#222" stroke-width="0.45"/>
<rect x="610.57" y="364.62" width="4.28" height="6.98" fill="#6b6b20" stroke="#222" stroke-width="0.45"/>
<rect x="614.86" y="364.62" width="4.28" height="6.98" fill="#d0d0d0" stroke="#222" stroke-width="0.45"/>
<rect x="619.14" y="364.62" width="4.28" height="6.98" fill="#a8c0e0" stroke="#222" stroke-width="0.45"/>
<rect x="623.42" y="364.83" width="4.28" height="6.77" fill="#a8c0e0" stroke="#222" stroke-width="0.45"/>
<rect x="627.70" y="364.83" width="4.28" height="6.77" fill="#5a9ad0" stroke="#222" stroke-width="0.45"/>
<rect x="631.99" y="364.83" width="4.28" height="6.77" fill="#c8c060" stroke="#222" stroke-width="0.45"/>
<rect x="636.27" y="364.83" width="4.28" height="6.77" fill="#9b3aad" stroke="#222" stroke-width="0.45"/>
<rect x="640.55" y="365.03" width="4.28" height="6.57" fill="#e8861a" stroke="#222" stroke-width="0.45"/>
<rect x="644.84" y="365.03" width="4.28" height="6.57" fill="#9b3aad" stroke="#222" stroke-width="0.45"/>
<rect x="649.12" y="365.03" width="4.28" height="6.57" fill="#e03025" stroke="#222" stroke-width="0.45"/>
<rect x="649.12" y="365.03" width="4.28" height="6.57" fill="url(#hatch)" stroke="#222" stroke-width="0.45"/>
<rect x="653.40" y="365.23" width="4.28" height="6.37" fill="#c8c060" stroke="#222" stroke-width="0.45"/>
<rect x="657.69" y="365.23" width="4.28" height="6.37" fill="#a8c0e0" stroke="#222" stroke-width="0.45"/>
<rect x="661.97" y="365.23" width="4.28" height="6.37" fill="#a8a030" stroke="#222" stroke-width="0.45"/>
<rect x="666.25" y="365.23" width="4.28" height="6.37" fill="#d0d0d0" stroke="#222" stroke-width="0.45"/>
<rect x="670.53" y="365.43" width="4.28" height="6.17" fill="#9b3aad" stroke="#222" stroke-width="0.45"/>
<rect x="674.82" y="365.43" width="4.28" height="6.17" fill="#5a9ad0" stroke="#222" stroke-width="0.45"/>
<rect x="679.10" y="365.43" width="4.28" height="6.17" fill="#d0d0d0" stroke="#222" stroke-width="0.45"/>
<rect x="679.10" y="365.43" width="4.28" height="6.17" fill="url(#hatch)" stroke="#222" stroke-width="0.45"/>
<line x1="550.10" y1="371.60" x2="684.50" y2="371.60" stroke="#777" stroke-width="0.7"/>
<line x1="548.70" y1="371.60" x2="550.10" y2="371.60" stroke="#888" stroke-width="0.5"/>
<text x="547.50" y="373.70" font-size="6" text-anchor="end" fill="#222" color="#222" font-weight="normal" font-style="normal" >0</text>
<line x1="548.70" y1="358.05" x2="550.10" y2="358.05" stroke="#888" stroke-width="0.5"/>
<text x="547.50" y="360.15" font-size="6" text-anchor="end" fill="#222" color="#222" font-weight="normal" font-style="normal" >2</text>
<line x1="548.70" y1="344.50" x2="550.10" y2="344.50" stroke="#888" stroke-width="0.5"/>
<text x="547.50" y="346.60" font-size="6" text-anchor="end" fill="#222" color="#222" font-weight="normal" font-style="normal" >4</text>
<line x1="548.70" y1="330.95" x2="550.10" y2="330.95" stroke="#888" stroke-width="0.5"/>
<text x="547.50" y="333.05" font-size="6" text-anchor="end" fill="#222" color="#222" font-weight="normal" font-style="normal" >6</text>
<line x1="548.70" y1="317.40" x2="550.10" y2="317.40" stroke="#888" stroke-width="0.5"/>
<text x="547.50" y="319.50" font-size="6" text-anchor="end" fill="#222" color="#222" font-weight="normal" font-style="normal" >8</text>
<line x1="552.75" y1="371.60" x2="552.75" y2="373.10" stroke="#888" stroke-width="0.5"/>
<text x="552.75" y="380.40" font-size="6" text-anchor="middle" fill="#222" color="#222" font-weight="normal" font-style="normal" >0</text>
<line x1="574.16" y1="371.60" x2="574.16" y2="373.10" stroke="#888" stroke-width="0.5"/>
<text x="574.16" y="380.40" font-size="6" text-anchor="middle" fill="#222" color="#222" font-weight="normal" font-style="normal" >5</text>
<line x1="595.58" y1="371.60" x2="595.58" y2="373.10" stroke="#888" stroke-width="0.5"/>
<text x="595.58" y="380.40" font-size="6" text-anchor="middle" fill="#222" color="#222" font-weight="normal" font-style="normal" >10</text>
<line x1="617.00" y1="371.60" x2="617.00" y2="373.10" stroke="#888" stroke-width="0.5"/>
<text x="617.00" y="380.40" font-size="6" text-anchor="middle" fill="#222" color="#222" font-weight="normal" font-style="normal" >15</text>
<line x1="638.41" y1="371.60" x2="638.41" y2="373.10" stroke="#888" stroke-width="0.5"/>
<text x="638.41" y="380.40" font-size="6" text-anchor="middle" fill="#222" color="#222" font-weight="normal" font-style="normal" >20</text>
<line x1="659.83" y1="371.60" x2="659.83" y2="373.10" stroke="#888" stroke-width="0.5"/>
<text x="659.83" y="380.40" font-size="6" text-anchor="middle" fill="#222" color="#222" font-weight="normal" font-style="normal" >25</text>
<line x1="681.24" y1="371.60" x2="681.24" y2="373.10" stroke="#888" stroke-width="0.5"/>
<text x="681.24" y="380.40" font-size="6" text-anchor="middle" fill="#222" color="#222" font-weight="normal" font-style="normal" >30</text>
<text x="617.30" y="391.20" font-size="6" text-anchor="middle" fill="#222" color="#222" font-weight="normal" font-style="normal" >Abundance rank</text>
<text x="536.60" y="344.50" font-size="6" text-anchor="middle" fill="#222" transform="rotate(-90 536.60 344.50)">Total coverage (%)</text>
<text x="624.10" y="328.70" font-size="6" text-anchor="middle" fill="#222" color="#222" font-weight="normal" font-style="normal" >Pr4 (Sep 2018)</text>
<text x="624.40" y="335.70" font-size="6" text-anchor="middle" fill="#222" color="#222" font-weight="normal" font-style="normal" >8.5% CPR, 1.2% DPANN</text>
<line x1="387.40" y1="394.20" x2="521.80" y2="394.20" stroke="#c8c8c8" stroke-width="0.8"/>
<line x1="521.80" y1="394.20" x2="521.80" y2="448.40" stroke="#c8c8c8" stroke-width="0.8"/>
<line x1="387.40" y1="394.20" x2="387.40" y2="448.40" stroke="#bbb" stroke-width="0.6"/>
<rect x="387.91" y="394.20" width="4.28" height="54.20" fill="#b8e050" stroke="#222" stroke-width="0.45"/>
<rect x="392.19" y="407.48" width="4.28" height="40.92" fill="#f0ea80" stroke="#222" stroke-width="0.45"/>
<rect x="396.48" y="418.32" width="4.28" height="30.08" fill="#e8861a" stroke="#222" stroke-width="0.45"/>
<rect x="400.76" y="418.32" width="4.28" height="30.08" fill="#5a9ad0" stroke="#222" stroke-width="0.45"/>
<rect x="405.04" y="424.48" width="4.28" height="23.92" fill="#70c8d8" stroke="#222" stroke-width="0.45"/>
<rect x="409.32" y="425.30" width="4.28" height="23.10" fill="#f0e040" stroke="#222" stroke-width="0.45"/>
<rect x="409.32" y="425.30" width="4.28" height="23.10" fill="url(#hatch)" stroke="#222" stroke-width="0.45"/>
<rect x="413.61" y="430.58" width="4.28" height="17.82" fill="#88d058" stroke="#222" stroke-width="0.45"/>
<rect x="417.89" y="431.60" width="4.28" height="16.80" fill="#5a9ad0" stroke="#222" stroke-width="0.45"/>
<rect x="422.17" y="433.70" width="4.28" height="14.70" fill="#f8e0a0" stroke="#222" stroke-width="0.45"/>
<rect x="426.46" y="436.34" width="4.28" height="12.06" fill="#e8861a" stroke="#222" stroke-width="0.45"/>
<rect x="430.74" y="436.75" width="4.28" height="11.65" fill="#c030b0" stroke="#222" stroke-width="0.45"/>
<rect x="435.02" y="437.15" width="4.28" height="11.25" fill="#6b6b20" stroke="#222" stroke-width="0.45"/>
<rect x="439.31" y="437.15" width="4.28" height="11.25" fill="#e8861a" stroke="#222" stroke-width="0.45"/>
<rect x="443.59" y="438.17" width="4.28" height="10.23" fill="#5a9ad0" stroke="#222" stroke-width="0.45"/>
<rect x="447.87" y="438.17" width="4.28" height="10.23" fill="#c8c060" stroke="#222" stroke-width="0.45"/>
<rect x="452.15" y="438.78" width="4.28" height="9.62" fill="#f0ea80" stroke="#222" stroke-width="0.45"/>
<rect x="456.44" y="439.19" width="4.28" height="9.21" fill="#6b6b20" stroke="#222" stroke-width="0.45"/>
<rect x="460.72" y="439.19" width="4.28" height="9.21" fill="#e8861a" stroke="#222" stroke-width="0.45"/>
<rect x="465.00" y="439.39" width="4.28" height="9.01" fill="#e03025" stroke="#222" stroke-width="0.45"/>
<rect x="469.29" y="439.39" width="4.28" height="9.01" fill="#e8861a" stroke="#222" stroke-width="0.45"/>
<rect x="473.57" y="440.20" width="4.28" height="8.20" fill="#c8c060" stroke="#222" stroke-width="0.45"/>
<rect x="477.85" y="440.20" width="4.28" height="8.20" fill="#c8c060" stroke="#222" stroke-width="0.45"/>
<rect x="482.14" y="440.41" width="4.28" height="7.99" fill="#3040a8" stroke="#222" stroke-width="0.45"/>
<rect x="486.42" y="440.61" width="4.28" height="7.79" fill="#e8861a" stroke="#222" stroke-width="0.45"/>
<rect x="490.70" y="441.22" width="4.28" height="7.18" fill="#88e0a8" stroke="#222" stroke-width="0.45"/>
<rect x="494.98" y="441.22" width="4.28" height="7.18" fill="#5a9ad0" stroke="#222" stroke-width="0.45"/>
<rect x="499.27" y="441.62" width="4.28" height="6.77" fill="#3040a8" stroke="#222" stroke-width="0.45"/>
<rect x="503.55" y="441.83" width="4.28" height="6.57" fill="#f0e040" stroke="#222" stroke-width="0.45"/>
<rect x="503.55" y="441.83" width="4.28" height="6.57" fill="url(#hatch)" stroke="#222" stroke-width="0.45"/>
<rect x="507.83" y="441.83" width="4.28" height="6.57" fill="#5a9ad0" stroke="#222" stroke-width="0.45"/>
<rect x="512.12" y="441.83" width="4.28" height="6.57" fill="#88e0a8" stroke="#222" stroke-width="0.45"/>
<rect x="516.40" y="442.03" width="4.28" height="6.37" fill="#3040a8" stroke="#222" stroke-width="0.45"/>
<line x1="387.40" y1="448.40" x2="521.80" y2="448.40" stroke="#777" stroke-width="0.7"/>
<line x1="386.00" y1="448.40" x2="387.40" y2="448.40" stroke="#888" stroke-width="0.5"/>
<text x="384.80" y="450.50" font-size="6" text-anchor="end" fill="#222" color="#222" font-weight="normal" font-style="normal" >0</text>
<line x1="386.00" y1="434.85" x2="387.40" y2="434.85" stroke="#888" stroke-width="0.5"/>
<text x="384.80" y="436.95" font-size="6" text-anchor="end" fill="#222" color="#222" font-weight="normal" font-style="normal" >2</text>
<line x1="386.00" y1="421.30" x2="387.40" y2="421.30" stroke="#888" stroke-width="0.5"/>
<text x="384.80" y="423.40" font-size="6" text-anchor="end" fill="#222" color="#222" font-weight="normal" font-style="normal" >4</text>
<line x1="386.00" y1="407.75" x2="387.40" y2="407.75" stroke="#888" stroke-width="0.5"/>
<text x="384.80" y="409.85" font-size="6" text-anchor="end" fill="#222" color="#222" font-weight="normal" font-style="normal" >6</text>
<line x1="386.00" y1="394.20" x2="387.40" y2="394.20" stroke="#888" stroke-width="0.5"/>
<text x="384.80" y="396.30" font-size="6" text-anchor="end" fill="#222" color="#222" font-weight="normal" font-style="normal" >8</text>
<line x1="390.05" y1="448.40" x2="390.05" y2="449.90" stroke="#888" stroke-width="0.5"/>
<text x="390.05" y="457.20" font-size="6" text-anchor="middle" fill="#222" color="#222" font-weight="normal" font-style="normal" >0</text>
<line x1="411.46" y1="448.40" x2="411.46" y2="449.90" stroke="#888" stroke-width="0.5"/>
<text x="411.46" y="457.20" font-size="6" text-anchor="middle" fill="#222" color="#222" font-weight="normal" font-style="normal" >5</text>
<line x1="432.88" y1="448.40" x2="432.88" y2="449.90" stroke="#888" stroke-width="0.5"/>
<text x="432.88" y="457.20" font-size="6" text-anchor="middle" fill="#222" color="#222" font-weight="normal" font-style="normal" >10</text>
<line x1="454.29" y1="448.40" x2="454.29" y2="449.90" stroke="#888" stroke-width="0.5"/>
<text x="454.29" y="457.20" font-size="6" text-anchor="middle" fill="#222" color="#222" font-weight="normal" font-style="normal" >15</text>
<line x1="475.71" y1="448.40" x2="475.71" y2="449.90" stroke="#888" stroke-width="0.5"/>
<text x="475.71" y="457.20" font-size="6" text-anchor="middle" fill="#222" color="#222" font-weight="normal" font-style="normal" >20</text>
<line x1="497.12" y1="448.40" x2="497.12" y2="449.90" stroke="#888" stroke-width="0.5"/>
<text x="497.12" y="457.20" font-size="6" text-anchor="middle" fill="#222" color="#222" font-weight="normal" font-style="normal" >25</text>
<line x1="518.54" y1="448.40" x2="518.54" y2="449.90" stroke="#888" stroke-width="0.5"/>
<text x="518.54" y="457.20" font-size="6" text-anchor="middle" fill="#222" color="#222" font-weight="normal" font-style="normal" >30</text>
<text x="454.60" y="468.00" font-size="6" text-anchor="middle" fill="#222" color="#222" font-weight="normal" font-style="normal" >Abundance rank</text>
<text x="373.90" y="421.30" font-size="6" text-anchor="middle" fill="#222" transform="rotate(-90 373.90 421.30)">Total coverage (%)</text>
<text x="459.40" y="405.50" font-size="6" text-anchor="middle" fill="#222" color="#222" font-weight="normal" font-style="normal" >Pr5 (May 2019)</text>
<text x="459.20" y="412.50" font-size="6" text-anchor="middle" fill="#222" color="#222" font-weight="normal" font-style="normal" >6.4% CPR, 0.89% DPANN</text>
<line x1="550.10" y1="394.20" x2="684.50" y2="394.20" stroke="#c8c8c8" stroke-width="0.8"/>
<line x1="684.50" y1="394.20" x2="684.50" y2="448.40" stroke="#c8c8c8" stroke-width="0.8"/>
<line x1="550.10" y1="394.20" x2="550.10" y2="448.40" stroke="#bbb" stroke-width="0.6"/>
<rect x="550.61" y="394.20" width="4.28" height="54.20" fill="#a8a030" stroke="#222" stroke-width="0.45"/>
<rect x="554.89" y="399.21" width="4.28" height="49.19" fill="#3040a8" stroke="#222" stroke-width="0.45"/>
<rect x="559.18" y="411.34" width="4.28" height="37.06" fill="#3040a8" stroke="#222" stroke-width="0.45"/>
<rect x="563.46" y="413.31" width="4.28" height="35.09" fill="#5a9ad0" stroke="#222" stroke-width="0.45"/>
<rect x="567.74" y="427.67" width="4.28" height="20.73" fill="#f0ea80" stroke="#222" stroke-width="0.45"/>
<rect x="572.02" y="427.87" width="4.28" height="20.53" fill="#c8c060" stroke="#222" stroke-width="0.45"/>
<rect x="576.31" y="429.29" width="4.28" height="19.11" fill="#c8c060" stroke="#222" stroke-width="0.45"/>
<rect x="580.59" y="429.50" width="4.28" height="18.90" fill="#e8861a" stroke="#222" stroke-width="0.45"/>
<rect x="584.87" y="429.70" width="4.28" height="18.70" fill="#f8e0a0" stroke="#222" stroke-width="0.45"/>
<rect x="589.16" y="430.65" width="4.28" height="17.75" fill="#e03025" stroke="#222" stroke-width="0.45"/>
<rect x="593.44" y="430.65" width="4.28" height="17.75" fill="#d0d0d0" stroke="#222" stroke-width="0.45"/>
<rect x="597.72" y="431.46" width="4.28" height="16.94" fill="#88e0a8" stroke="#222" stroke-width="0.45"/>
<rect x="602.01" y="431.67" width="4.28" height="16.73" fill="#c8c060" stroke="#222" stroke-width="0.45"/>
<rect x="606.29" y="433.22" width="4.28" height="15.18" fill="#b8e050" stroke="#222" stroke-width="0.45"/>
<rect x="606.29" y="433.22" width="4.28" height="15.18" fill="url(#hatch)" stroke="#222" stroke-width="0.45"/>
<rect x="610.57" y="433.83" width="4.28" height="14.57" fill="#c8c060" stroke="#222" stroke-width="0.45"/>
<rect x="610.57" y="433.83" width="4.28" height="14.57" fill="url(#hatch)" stroke="#222" stroke-width="0.45"/>
<rect x="614.86" y="434.04" width="4.28" height="14.36" fill="#c8c060" stroke="#222" stroke-width="0.45"/>
<rect x="614.86" y="434.04" width="4.28" height="14.36" fill="url(#hatch)" stroke="#222" stroke-width="0.45"/>
<rect x="619.14" y="434.24" width="4.28" height="14.16" fill="#a8c0e0" stroke="#222" stroke-width="0.45"/>
<rect x="619.14" y="434.24" width="4.28" height="14.16" fill="url(#hatch)" stroke="#222" stroke-width="0.45"/>
<rect x="623.42" y="434.44" width="4.28" height="13.96" fill="#9b3aad" stroke="#222" stroke-width="0.45"/>
<rect x="627.70" y="435.87" width="4.28" height="12.53" fill="#88e0a8" stroke="#222" stroke-width="0.45"/>
<rect x="627.70" y="435.87" width="4.28" height="12.53" fill="url(#hatch)" stroke="#222" stroke-width="0.45"/>
<rect x="631.99" y="436.48" width="4.28" height="11.92" fill="#c8c060" stroke="#222" stroke-width="0.45"/>
<rect x="636.27" y="436.48" width="4.28" height="11.92" fill="#e03025" stroke="#222" stroke-width="0.45"/>
<rect x="640.55" y="436.61" width="4.28" height="11.79" fill="#a8c0e0" stroke="#222" stroke-width="0.45"/>
<rect x="640.55" y="436.61" width="4.28" height="11.79" fill="url(#hatch)" stroke="#222" stroke-width="0.45"/>
<rect x="644.84" y="437.02" width="4.28" height="11.38" fill="#c8c060" stroke="#222" stroke-width="0.45"/>
<rect x="649.12" y="437.22" width="4.28" height="11.18" fill="#9b3aad" stroke="#222" stroke-width="0.45"/>
<rect x="649.12" y="437.22" width="4.28" height="11.18" fill="url(#hatch)" stroke="#222" stroke-width="0.45"/>
<rect x="653.40" y="437.42" width="4.28" height="10.98" fill="#28a0a8" stroke="#222" stroke-width="0.45"/>
<rect x="657.69" y="437.42" width="4.28" height="10.98" fill="#3040a8" stroke="#222" stroke-width="0.45"/>
<rect x="661.97" y="437.42" width="4.28" height="10.98" fill="#c8c060" stroke="#222" stroke-width="0.45"/>
<rect x="661.97" y="437.42" width="4.28" height="10.98" fill="url(#hatch)" stroke="#222" stroke-width="0.45"/>
<rect x="666.25" y="437.63" width="4.28" height="10.77" fill="#f8e0a0" stroke="#222" stroke-width="0.45"/>
<rect x="670.53" y="438.03" width="4.28" height="10.37" fill="#9b3aad" stroke="#222" stroke-width="0.45"/>
<rect x="670.53" y="438.03" width="4.28" height="10.37" fill="url(#hatch)" stroke="#222" stroke-width="0.45"/>
<rect x="674.82" y="439.25" width="4.28" height="9.15" fill="#5a9ad0" stroke="#222" stroke-width="0.45"/>
<rect x="674.82" y="439.25" width="4.28" height="9.15" fill="url(#hatch)" stroke="#222" stroke-width="0.45"/>
<rect x="679.10" y="439.46" width="4.28" height="8.94" fill="#c8c060" stroke="#222" stroke-width="0.45"/>
<line x1="550.10" y1="448.40" x2="684.50" y2="448.40" stroke="#777" stroke-width="0.7"/>
<line x1="548.70" y1="448.40" x2="550.10" y2="448.40" stroke="#888" stroke-width="0.5"/>
<text x="547.50" y="450.50" font-size="6" text-anchor="end" fill="#222" color="#222" font-weight="normal" font-style="normal" >0</text>
<line x1="548.70" y1="434.85" x2="550.10" y2="434.85" stroke="#888" stroke-width="0.5"/>
<text x="547.50" y="436.95" font-size="6" text-anchor="end" fill="#222" color="#222" font-weight="normal" font-style="normal" >2</text>
<line x1="548.70" y1="421.30" x2="550.10" y2="421.30" stroke="#888" stroke-width="0.5"/>
<text x="547.50" y="423.40" font-size="6" text-anchor="end" fill="#222" color="#222" font-weight="normal" font-style="normal" >4</text>
<line x1="548.70" y1="407.75" x2="550.10" y2="407.75" stroke="#888" stroke-width="0.5"/>
<text x="547.50" y="409.85" font-size="6" text-anchor="end" fill="#222" color="#222" font-weight="normal" font-style="normal" >6</text>
<line x1="548.70" y1="394.20" x2="550.10" y2="394.20" stroke="#888" stroke-width="0.5"/>
<text x="547.50" y="396.30" font-size="6" text-anchor="end" fill="#222" color="#222" font-weight="normal" font-style="normal" >8</text>
<line x1="552.75" y1="448.40" x2="552.75" y2="449.90" stroke="#888" stroke-width="0.5"/>
<text x="552.75" y="457.20" font-size="6" text-anchor="middle" fill="#222" color="#222" font-weight="normal" font-style="normal" >0</text>
<line x1="574.16" y1="448.40" x2="574.16" y2="449.90" stroke="#888" stroke-width="0.5"/>
<text x="574.16" y="457.20" font-size="6" text-anchor="middle" fill="#222" color="#222" font-weight="normal" font-style="normal" >5</text>
<line x1="595.58" y1="448.40" x2="595.58" y2="449.90" stroke="#888" stroke-width="0.5"/>
<text x="595.58" y="457.20" font-size="6" text-anchor="middle" fill="#222" color="#222" font-weight="normal" font-style="normal" >10</text>
<line x1="617.00" y1="448.40" x2="617.00" y2="449.90" stroke="#888" stroke-width="0.5"/>
<text x="617.00" y="457.20" font-size="6" text-anchor="middle" fill="#222" color="#222" font-weight="normal" font-style="normal" >15</text>
<line x1="638.41" y1="448.40" x2="638.41" y2="449.90" stroke="#888" stroke-width="0.5"/>
<text x="638.41" y="457.20" font-size="6" text-anchor="middle" fill="#222" color="#222" font-weight="normal" font-style="normal" >20</text>
<line x1="659.83" y1="448.40" x2="659.83" y2="449.90" stroke="#888" stroke-width="0.5"/>
<text x="659.83" y="457.20" font-size="6" text-anchor="middle" fill="#222" color="#222" font-weight="normal" font-style="normal" >25</text>
<line x1="681.24" y1="448.40" x2="681.24" y2="449.90" stroke="#888" stroke-width="0.5"/>
<text x="681.24" y="457.20" font-size="6" text-anchor="middle" fill="#222" color="#222" font-weight="normal" font-style="normal" >30</text>
<text x="617.30" y="468.00" font-size="6" text-anchor="middle" fill="#222" color="#222" font-weight="normal" font-style="normal" >Abundance rank</text>
<text x="536.60" y="421.30" font-size="6" text-anchor="middle" fill="#222" transform="rotate(-90 536.60 421.30)">Total coverage (%)</text>
<text x="623.30" y="405.50" font-size="6" text-anchor="middle" fill="#222" color="#222" font-weight="normal" font-style="normal" >Pr6 (May 2019)</text>
<text x="622.90" y="412.50" font-size="6" text-anchor="middle" fill="#222" color="#222" font-weight="normal" font-style="normal" >7.0% CPR, 2.7% DPANN</text>
<line x1="473.30" y1="476.20" x2="607.70" y2="476.20" stroke="#c8c8c8" stroke-width="0.8"/>
<line x1="607.70" y1="476.20" x2="607.70" y2="530.40" stroke="#c8c8c8" stroke-width="0.8"/>
<line x1="473.30" y1="476.20" x2="473.30" y2="530.40" stroke="#bbb" stroke-width="0.6"/>
<rect x="473.81" y="476.20" width="4.28" height="54.20" fill="#88d058" stroke="#222" stroke-width="0.45"/>
<rect x="478.09" y="498.29" width="4.28" height="32.11" fill="#a8a030" stroke="#222" stroke-width="0.45"/>
<rect x="482.38" y="500.12" width="4.28" height="30.28" fill="#88e0a8" stroke="#222" stroke-width="0.45"/>
<rect x="486.66" y="500.32" width="4.28" height="30.08" fill="#5a9ad0" stroke="#222" stroke-width="0.45"/>
<rect x="490.94" y="508.52" width="4.28" height="21.88" fill="#88e0a8" stroke="#222" stroke-width="0.45"/>
<rect x="495.23" y="512.58" width="4.28" height="17.82" fill="#e8861a" stroke="#222" stroke-width="0.45"/>
<rect x="499.51" y="513.39" width="4.28" height="17.01" fill="#a8c0e0" stroke="#222" stroke-width="0.45"/>
<rect x="503.79" y="516.71" width="4.28" height="13.69" fill="#88e0a8" stroke="#222" stroke-width="0.45"/>
<rect x="508.07" y="517.32" width="4.28" height="13.08" fill="#b0a0e0" stroke="#222" stroke-width="0.45"/>
<rect x="512.36" y="517.73" width="4.28" height="12.67" fill="#88e0a8" stroke="#222" stroke-width="0.45"/>
<rect x="516.64" y="518.34" width="4.28" height="12.06" fill="#3040a8" stroke="#222" stroke-width="0.45"/>
<rect x="520.92" y="518.75" width="4.28" height="11.65" fill="#e8861a" stroke="#222" stroke-width="0.45"/>
<rect x="525.21" y="519.15" width="4.28" height="11.25" fill="#f0ea80" stroke="#222" stroke-width="0.45"/>
<rect x="529.49" y="519.36" width="4.28" height="11.04" fill="#88e0a8" stroke="#222" stroke-width="0.45"/>
<rect x="529.49" y="519.36" width="4.28" height="11.04" fill="url(#hatch)" stroke="#222" stroke-width="0.45"/>
<rect x="533.77" y="520.17" width="4.28" height="10.23" fill="#e8861a" stroke="#222" stroke-width="0.45"/>
<rect x="538.05" y="520.37" width="4.28" height="10.03" fill="#c8c060" stroke="#222" stroke-width="0.45"/>
<rect x="542.34" y="521.19" width="4.28" height="9.21" fill="#88e0a8" stroke="#222" stroke-width="0.45"/>
<rect x="546.62" y="522.41" width="4.28" height="7.99" fill="#88e0a8" stroke="#222" stroke-width="0.45"/>
<rect x="550.90" y="522.61" width="4.28" height="7.79" fill="#88e0a8" stroke="#222" stroke-width="0.45"/>
<rect x="555.19" y="522.61" width="4.28" height="7.79" fill="#88e0a8" stroke="#222" stroke-width="0.45"/>
<rect x="555.19" y="522.61" width="4.28" height="7.79" fill="url(#hatch)" stroke="#222" stroke-width="0.45"/>
<rect x="559.47" y="522.61" width="4.28" height="7.79" fill="#507060" stroke="#222" stroke-width="0.45"/>
<rect x="563.75" y="522.81" width="4.28" height="7.59" fill="#f8e0a0" stroke="#222" stroke-width="0.45"/>
<rect x="568.04" y="523.62" width="4.28" height="6.77" fill="#88e0a8" stroke="#222" stroke-width="0.45"/>
<rect x="568.04" y="523.62" width="4.28" height="6.77" fill="url(#hatch)" stroke="#222" stroke-width="0.45"/>
<rect x="572.32" y="523.62" width="4.28" height="6.77" fill="#7080b8" stroke="#222" stroke-width="0.45"/>
<rect x="576.60" y="523.83" width="4.28" height="6.57" fill="#88e0a8" stroke="#222" stroke-width="0.45"/>
<rect x="576.60" y="523.83" width="4.28" height="6.57" fill="url(#hatch)" stroke="#222" stroke-width="0.45"/>
<rect x="580.88" y="524.23" width="4.28" height="6.17" fill="#507060" stroke="#222" stroke-width="0.45"/>
<rect x="585.17" y="524.44" width="4.28" height="5.96" fill="#88e0a8" stroke="#222" stroke-width="0.45"/>
<rect x="589.45" y="524.44" width="4.28" height="5.96" fill="#c8c060" stroke="#222" stroke-width="0.45"/>
<rect x="593.73" y="524.44" width="4.28" height="5.96" fill="#5a9ad0" stroke="#222" stroke-width="0.45"/>
<rect x="598.02" y="524.44" width="4.28" height="5.96" fill="#28a0a8" stroke="#222" stroke-width="0.45"/>
<rect x="602.30" y="524.44" width="4.28" height="5.96" fill="#88d058" stroke="#222" stroke-width="0.45"/>
<line x1="473.30" y1="530.40" x2="607.70" y2="530.40" stroke="#777" stroke-width="0.7"/>
<line x1="471.90" y1="530.40" x2="473.30" y2="530.40" stroke="#888" stroke-width="0.5"/>
<text x="470.70" y="532.50" font-size="6" text-anchor="end" fill="#222" color="#222" font-weight="normal" font-style="normal" >0</text>
<line x1="471.90" y1="516.85" x2="473.30" y2="516.85" stroke="#888" stroke-width="0.5"/>
<text x="470.70" y="518.95" font-size="6" text-anchor="end" fill="#222" color="#222" font-weight="normal" font-style="normal" >2</text>
<line x1="471.90" y1="503.30" x2="473.30" y2="503.30" stroke="#888" stroke-width="0.5"/>
<text x="470.70" y="505.40" font-size="6" text-anchor="end" fill="#222" color="#222" font-weight="normal" font-style="normal" >4</text>
<line x1="471.90" y1="489.75" x2="473.30" y2="489.75" stroke="#888" stroke-width="0.5"/>
<text x="470.70" y="491.85" font-size="6" text-anchor="end" fill="#222" color="#222" font-weight="normal" font-style="normal" >6</text>
<line x1="471.90" y1="476.20" x2="473.30" y2="476.20" stroke="#888" stroke-width="0.5"/>
<text x="470.70" y="478.30" font-size="6" text-anchor="end" fill="#222" color="#222" font-weight="normal" font-style="normal" >8</text>
<line x1="475.95" y1="530.40" x2="475.95" y2="531.90" stroke="#888" stroke-width="0.5"/>
<text x="475.95" y="539.20" font-size="6" text-anchor="middle" fill="#222" color="#222" font-weight="normal" font-style="normal" >0</text>
<line x1="497.37" y1="530.40" x2="497.37" y2="531.90" stroke="#888" stroke-width="0.5"/>
<text x="497.37" y="539.20" font-size="6" text-anchor="middle" fill="#222" color="#222" font-weight="normal" font-style="normal" >5</text>
<line x1="518.78" y1="530.40" x2="518.78" y2="531.90" stroke="#888" stroke-width="0.5"/>
<text x="518.78" y="539.20" font-size="6" text-anchor="middle" fill="#222" color="#222" font-weight="normal" font-style="normal" >10</text>
<line x1="540.19" y1="530.40" x2="540.19" y2="531.90" stroke="#888" stroke-width="0.5"/>
<text x="540.19" y="539.20" font-size="6" text-anchor="middle" fill="#222" color="#222" font-weight="normal" font-style="normal" >15</text>
<line x1="561.61" y1="530.40" x2="561.61" y2="531.90" stroke="#888" stroke-width="0.5"/>
<text x="561.61" y="539.20" font-size="6" text-anchor="middle" fill="#222" color="#222" font-weight="normal" font-style="normal" >20</text>
<line x1="583.02" y1="530.40" x2="583.02" y2="531.90" stroke="#888" stroke-width="0.5"/>
<text x="583.02" y="539.20" font-size="6" text-anchor="middle" fill="#222" color="#222" font-weight="normal" font-style="normal" >25</text>
<line x1="604.44" y1="530.40" x2="604.44" y2="531.90" stroke="#888" stroke-width="0.5"/>
<text x="604.44" y="539.20" font-size="6" text-anchor="middle" fill="#222" color="#222" font-weight="normal" font-style="normal" >30</text>
<text x="538.90" y="547.80" font-size="6" text-anchor="middle" fill="#222" color="#222" font-weight="normal" font-style="normal" >Abundance rank</text>
<text x="459.80" y="503.30" font-size="6" text-anchor="middle" fill="#222" transform="rotate(-90 459.80 503.30)">Total coverage (%)</text>
<text x="543.20" y="487.50" font-size="6" text-anchor="middle" fill="#222" color="#222" font-weight="normal" font-style="normal" >Pr7 (Nov 2018)</text>
<text x="542.20" y="494.50" font-size="6" text-anchor="middle" fill="#222" color="#222" font-weight="normal" font-style="normal" >4.7% CPR, 0% DPANN</text>
<rect x="403.3" y="503.3" width="5.2" height="8.2" fill="#fff" stroke="#222" stroke-width="0.5"/>
<rect x="403.3" y="503.3" width="5.2" height="8.2" fill="url(#hatch)" stroke="#222" stroke-width="0.5"/>
<text x="411.90" y="510.40" font-size="6" text-anchor="start" fill="#222" color="#222" font-weight="normal" font-style="normal" >Unbinned</text>
</svg></body></html>
